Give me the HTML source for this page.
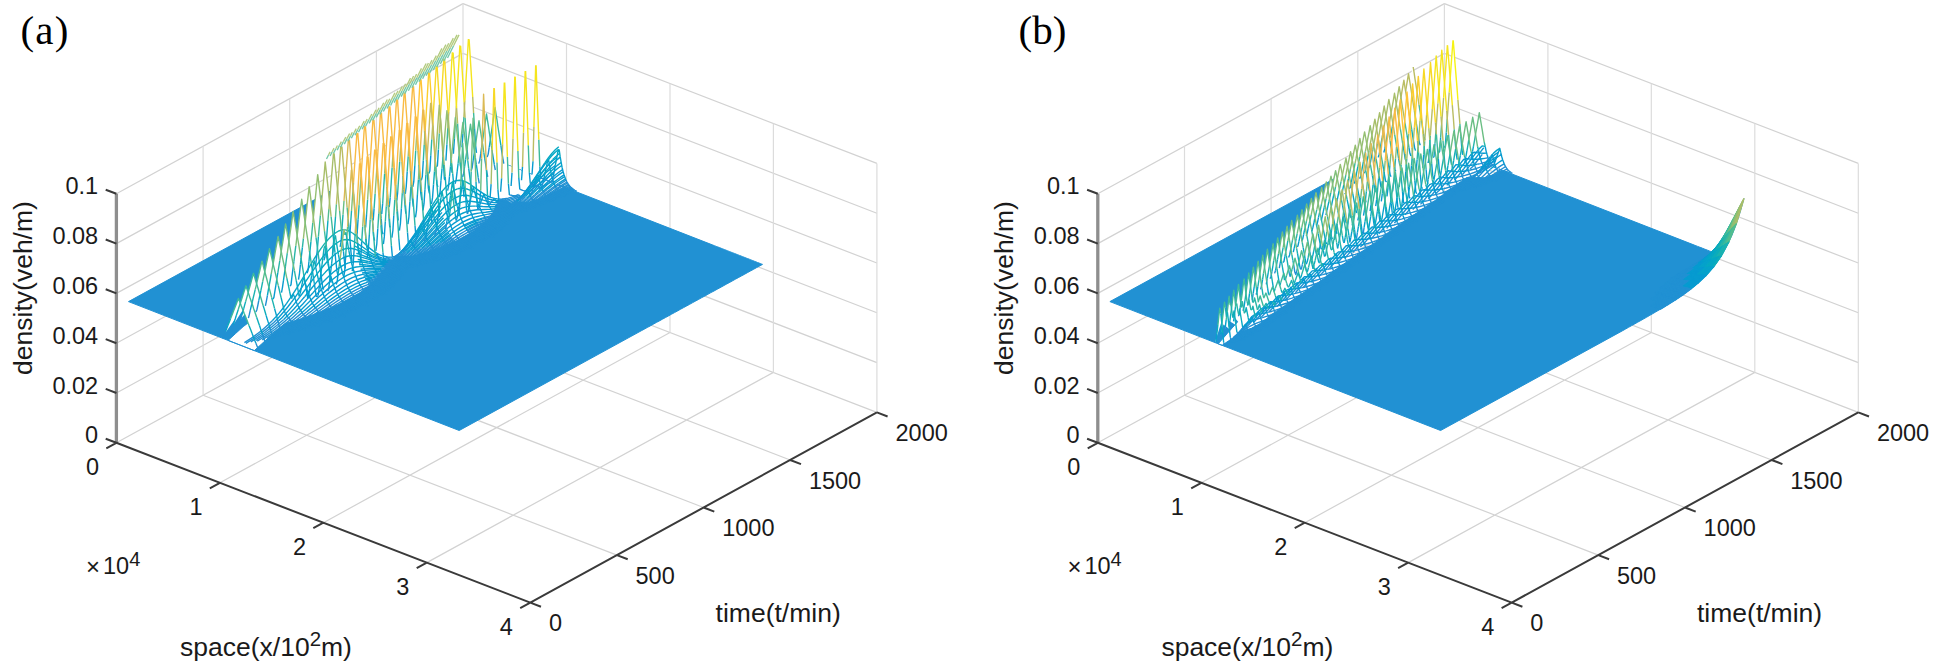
<!DOCTYPE html>
<html lang="en"><head><meta charset="utf-8"><title>Density evolution (a)/(b)</title>
<style>
html,body{margin:0;padding:0;background:#fff}
body{width:1935px;height:666px;overflow:hidden}
svg{display:block}
text{font-family:"Liberation Sans",Arial,Helvetica,sans-serif;fill:#1a1a1a}
.tag{font-family:"Liberation Serif","Times New Roman",serif;font-size:41px;fill:#000}
.tk{font-size:23.5px}
.lb{font-size:26.5px}
.sup{font-size:20px}
.sup2{font-size:20.5px}
.tm{font-size:24px}
.grid{fill:none;stroke:#d2d2d2;stroke-width:1.2}
.gv{stroke:#dcdcdc}
.ax{fill:none;stroke:#3a3a3a;stroke-width:2}
.zax{fill:none;stroke:#8e8e8e;stroke-width:3.3}
.sheet{fill:#2191d3;stroke:#2191d3;stroke-width:1}
.m path{fill:#fff;stroke-width:1.4;stroke-linejoin:round}
.m .w{stroke:none}
.m .f{fill:currentColor}
.m .n{fill:none}
.m .fz1{fill:none;stroke:#74c9a9;stroke-width:1.35}
.m .fz2{fill:none;stroke:#b3cb80;stroke-width:1.35}
.k0{stroke:#363093;color:#363093}
.k1{stroke:#353dac;color:#353dac}
.k2{stroke:#2c4ac6;color:#2c4ac6}
.k3{stroke:#115bdc;color:#115bdc}
.k4{stroke:#0267e1;color:#0267e1}
.k5{stroke:#0870df;color:#0870df}
.k6{stroke:#0f78db;color:#0f78db}
.k7{stroke:#1480d6;color:#1480d6}
.k8{stroke:#1388d3;color:#1388d3}
.k9{stroke:#0e92d2;color:#0e92d2}
.k10{stroke:#079bd0;color:#079bd0}
.k11{stroke:#06a2cb;color:#06a2cb}
.k12{stroke:#06a8c4;color:#06a8c4}
.k13{stroke:#0dadbb;color:#0dadbb}
.k14{stroke:#1ab2b1;color:#1ab2b1}
.k15{stroke:#2ab6a7;color:#2ab6a7}
.k16{stroke:#3dba9b;color:#3dba9b}
.k17{stroke:#52bd8f;color:#52bd8f}
.k18{stroke:#6abe83;color:#6abe83}
.k19{stroke:#80bf7a;color:#80bf7a}
.k20{stroke:#95bf71;color:#95bf71}
.k21{stroke:#a8be6a;color:#a8be6a}
.k22{stroke:#babd63;color:#babd63}
.k23{stroke:#cbbb5c;color:#cbbb5c}
.k24{stroke:#dbba55;color:#dbba55}
.k25{stroke:#ebb94d;color:#ebb94d}
.k26{stroke:#f9bb43;color:#f9bb43}
.k27{stroke:#ffc436;color:#ffc436}
.k28{stroke:#fcce2d;color:#fcce2d}
.k29{stroke:#f7d925;color:#f7d925}
.k30{stroke:#f5e51d;color:#f5e51d}
.k31{stroke:#f6f313;color:#f6f313}
.k9{stroke:#2191d3;color:#2191d3}
</style></head><body>
<svg width="1935" height="666" viewBox="0 0 1935 666">
<rect width="1935" height="666" fill="#fff"/>
<path class="grid" d="M219.9 482.8L566.5 292.6M203.1 395.2L616.9 555.1M323.4 522.7L670 332.5M289.7 347.7L703.6 507.5M426.8 562.6L773.4 372.4M376.4 300.2L790.2 460M116.4 393L463 202.8M463 202.8L876.9 362.6M116.4 343.2L463 153M463 153L876.9 312.8M116.4 293.4L463 103.2M463 103.2L876.9 263M116.4 243.6L463 53.4M463 53.4L876.9 213.2M116.4 442.8L463 252.6M463 252.6L876.9 412.4M116.4 193.8L463 3.6M463 3.6L876.9 163.4"/>
<path class="grid gv" d="M203.1 395.2L203.1 146.2M566.5 292.6L566.5 43.6M289.7 347.7L289.7 98.7M670 332.5L670 83.5M376.4 300.2L376.4 51.2M773.4 372.4L773.4 123.4M463 252.6L463 3.6M876.9 412.4L876.9 163.4"/>
<path class="sheet" fill-rule="evenodd" d="M128.5 301.6L459.2 430.5L641.2 330.8L644.2 329.2L647.2 327.5L650.3 325.9L653.3 324.2L656.3 322.5L659.4 320.9L662.4 319.2L665.4 317.6L668.5 315.9L671.5 314.2L674.5 312.6L677.6 310.9L680.6 309.2L683.6 307.6L686.7 305.9L689.7 304.3L692.7 302.6L695.8 300.9L698.8 299.3L701.8 297.6L704.9 296L707.9 294.3L710.9 292.6L714 291L717 289.3L720 287.7L723.1 286L726.1 284.3L729.1 282.7L732.2 281L735.2 279.3L738.2 277.7L741.3 276L744.3 274.4L747.3 272.7L750.4 271L753.4 269.4L756.4 267.7L759.5 266.1L762.5 264.4L760.8 263.8L759.2 263.1L757.5 262.5L755.9 261.8L754.2 261.2L752.6 260.5L750.9 259.9L749.3 259.2L747.6 258.6L746 258L744.3 257.3L742.7 256.7L741 256L739.4 255.4L737.7 254.7L736 254.1L734.4 253.4L732.7 252.8L731.1 252.2L729.4 251.5L727.8 250.9L726.1 250.2L724.5 249.6L722.8 248.9L721.2 248.3L719.5 247.6L717.9 247L716.2 246.4L714.5 245.7L712.9 245.1L431.8 135.5zM228.1 340.4L235.6 333.5L243.1 326.7L251.7 320.2L260.2 313.7L268.7 307.2L277.2 300.7L284.7 293.9L293.2 287.4L301.8 280.9L310.3 274.4L317.8 267.5L327.3 261.4L334.8 254.6L343.4 248.1L351.9 241.6L359.4 234.7L367.9 228.3L375.5 221.4L384 214.9L391.5 208L400 201.6L408.5 195.1L416.1 188.2L424.6 181.7L432.1 174.8L439.7 168L448.2 161.5L455.7 154.6L464.2 148.1L564.4 187.2L553 192.5L541.5 197.9L528.2 202.5L497.3 200.2L494.6 209L490 217L482.4 223.9L474.9 230.7L464.4 236.5L454 242.2L441.6 247.2L428.2 251.7L413.8 256L390.7 256.8L382.2 263.2L381.5 272.8L374.9 280L367.4 286.9L358.9 293.4L348.4 299.1L338 304.8L325.5 309.8L313.1 314.7L299.8 319.3L285.4 323.5L276.9 330L269.4 336.9L261.8 343.8L254.3 350.6z"/>
<g class="m">
<path class="w" d="M453.4 153.7L454.4 138.9L455.4 122.3L456.4 105.8L457.3 89.2L458.3 72.6L459.3 56L460.2 45.6L461.2 55.1L462.2 70.8L463.2 86.6L464.1 102.3L465.1 118L466.1 133.8L467.1 149.5L468 159.4L469 159.8L470 160.2L470.9 160.6L471.9 160.9L472.9 161.3L473.9 161.7L474.8 162.1L475.8 162.5L476.8 162.8L477.8 163.2L478.7 163.6L479.7 160.6L480.7 153.9L481.6 147.3L482.6 140.6L483.6 133.9L484.6 127.3L485.5 120.6L486.5 114L487.5 120.3L488.5 126.6L489.4 133L490.4 139.3L491.4 145.6L492.3 152L493.3 158.3L494.3 164.7L495.3 170L496.2 170.4L497.2 170.8L498.2 171.2L499.2 171.6L500.1 171.9L501.1 172.3L502.1 172.7L503 173.1L504 173.5L505 173.8L506 174.2L506.9 174.6L507.9 175L508.9 175.3L509.9 175.7L510.8 176.1L511.8 176.5L512.8 176.9L513.7 177.2L514.7 177.6L515.7 178L516.7 178.4L517.6 178.8L518.6 179.1L519.6 179.5L520.6 179.9L521.5 180.3L522.5 166.9L523.5 132.8L524.4 98.8L525.4 71L526.4 91.6L527.4 118.5L528.3 145.3L529.3 172.2L530.3 183.7L531.3 184L532.2 184.4L533.2 184.8L534.2 185.1L535.1 185.5L536.1 185.9L537.1 186.3L538.1 186.6L539 187L540 187.4L541 187.8L541.9 187.1L542.9 182.6L543.9 178.2L544.9 173.8L545.8 169.3L546.8 164.9L547.8 160.4L548.8 160.7L549.7 166.6L550.7 171.7L551.7 175.9L552.6 179.5L553.6 182.4L554.6 184.9L555.6 186.9L566 180.1L565.1 177.7L564.1 174.9L563.1 171.6L562.1 167.5L561.2 162.6L560.2 156.8L559.2 149.9L558.2 149.7L557.3 154.9L556.3 160.2L555.3 165.4L554.4 170.7L553.4 175.9L552.4 181.2L551.4 182.1L550.5 181.7L549.5 181.4L548.5 181L547.5 180.6L546.6 180.2L545.6 179.8L544.6 179.5L543.7 179.1L542.7 178.7L541.7 178.3L540.7 178L539.8 166.5L538.8 139.6L537.8 112.7L536.8 85.9L535.9 65.3L534.9 93.1L533.9 127.1L533 161.2L532 174.5L531 174.2L530 173.8L529.1 173.4L528.1 173L527.1 172.7L526.1 172.3L525.2 171.9L524.2 171.5L523.2 171.1L522.3 170.8L521.3 170.4L520.3 170L519.3 169.6L518.4 169.2L517.4 168.9L516.4 168.5L515.4 168.1L514.5 167.7L513.5 167.3L512.5 167L511.6 166.6L510.6 166.2L509.6 165.8L508.6 165.5L507.7 165.1L506.7 164.7L505.7 164.3L504.7 163.9L503.8 163.6L502.8 158.2L501.8 151.8L500.9 145.5L499.9 139.2L498.9 132.8L497.9 126.5L497 120.2L496 113.8L495 107.5L494 114.1L493.1 120.8L492.1 127.5L491.1 134.1L490.2 140.8L489.2 147.4L488.2 154.1L487.2 157.1L486.3 156.7L485.3 156.4L484.3 156L483.4 155.6L482.4 155.2L481.4 154.8L480.4 154.5L479.5 154.1L478.5 153.7L477.5 153.3L476.5 152.9L475.6 145.1L474.6 129L473.6 113L472.7 97L471.7 81L470.7 64.9L469.7 48.9L468.8 39.1L467.8 49.7L466.8 66.5L465.8 83.4L464.9 100.2L463.9 117z"/>
<path class="w" d="M444 159.8L444.9 160.2L445.9 160.6L446.9 144.4L447.8 128.1L448.8 111.7L449.8 95.3L450.8 79L451.7 62.6L452.7 52.5L453.7 61.7L454.7 77.1L455.6 92.6L456.6 108.1L457.6 123.5L458.5 139L459.5 154.4L460.5 166.3L461.5 166.7L462.4 167L463.4 167.4L464.4 167.8L465.4 168.2L466.3 168.6L467.3 168.9L468.3 169.3L469.2 169.7L470.2 170.1L471.2 170.5L472.2 167.5L473.1 160.8L474.1 154.1L475.1 147.5L476.1 140.8L477 134.2L478 127.5L479 120.8L479.9 127.2L480.9 133.5L481.9 139.8L482.9 146.2L483.8 152.5L484.8 158.8L485.8 165.2L486.7 171.5L487.7 176.9L488.7 177.3L489.7 177.7L490.6 178L491.6 178.4L492.6 178.8L493.6 179.2L494.5 179.6L495.5 179.9L496.5 180.3L497.4 180.7L498.4 181.1L499.4 181.5L500.4 181.8L501.3 182.2L502.3 182.6L503.3 183L504.3 183.4L505.2 183.7L506.2 184.1L507.2 184.5L508.1 184.9L509.1 185.2L510.1 185.6L511.1 186L512 172.6L513 138.6L514 104.5L515 76.7L515.9 97.3L516.9 124.2L517.9 151.1L518.8 177.9L519.8 189.4L520.8 189.7L521.8 190L522.7 190.3L523.7 190.6L524.7 191L525.7 191.3L526.6 191.7L527.6 192.1L528.6 192.5L529.5 193L530.5 193.4L531.5 193.2L532.5 190.1L533.4 187.1L534.4 184.1L535.4 181.1L536.4 178.1L537.3 175.1L538.3 175.4L539.3 179.7L540.2 183.3L541.2 186.4L542.2 189L543.2 191.2L544.1 193.1L554.6 184.9L553.6 182.4L552.6 179.5L551.7 175.9L550.7 171.7L549.7 166.6L548.8 160.7L547.8 160.4L546.8 164.9L545.8 169.3L544.9 173.8L543.9 178.2L542.9 182.6L541.9 187.1L541 187.8L540 187.4L539 187L538.1 186.6L537.1 186.3L536.1 185.9L535.1 185.5L534.2 185.1L533.2 184.8L532.2 184.4L531.3 184L530.3 183.7L529.3 172.2L528.3 145.3L527.4 118.5L526.4 91.6L525.4 71L524.4 98.8L523.5 132.8L522.5 166.9L521.5 180.3L520.6 179.9L519.6 179.5L518.6 179.1L517.6 178.8L516.7 178.4L515.7 178L514.7 177.6L513.7 177.2L512.8 176.9L511.8 176.5L510.8 176.1L509.9 175.7L508.9 175.3L507.9 175L506.9 174.6L506 174.2L505 173.8L504 173.5L503 173.1L502.1 172.7L501.1 172.3L500.1 171.9L499.2 171.6L498.2 171.2L497.2 170.8L496.2 170.4L495.3 170L494.3 164.7L493.3 158.3L492.3 152L491.4 145.6L490.4 139.3L489.4 133L488.5 126.6L487.5 120.3L486.5 114L485.5 120.6L484.6 127.3L483.6 133.9L482.6 140.6L481.6 147.3L480.7 153.9L479.7 160.6L478.7 163.6L477.8 163.2L476.8 162.8L475.8 162.5L474.8 162.1L473.9 161.7L472.9 161.3L471.9 160.9L470.9 160.6L470 160.2L469 159.8L468 159.4L467.1 149.5L466.1 133.8L465.1 118L464.1 102.3L463.2 86.6L462.2 70.8L461.2 55.1L460.2 45.6L459.3 56L458.3 72.6L457.3 89.2L456.4 105.8L455.4 122.3L454.4 138.9z"/>
<path class="w" d="M436.4 166.7L437.4 165.7L438.4 149.6L439.3 133.4L440.3 117.3L441.3 101.2L442.2 85L443.2 68.9L444.2 58.9L445.2 67.9L446.1 83.1L447.1 98.3L448.1 113.5L449.1 128.7L450 143.8L451 159L452 172.8L452.9 173.2L453.9 173.5L454.9 173.9L455.9 174.3L456.8 174.7L457.8 175.1L458.8 175.4L459.8 175.8L460.7 176.2L461.7 176.6L462.7 176.9L463.6 173.7L464.6 166.7L465.6 159.6L466.6 152.5L467.5 145.4L468.5 138.3L469.5 131.2L470.5 124.2L471.4 130.9L472.4 137.6L473.4 144.2L474.3 150.9L475.3 157.6L476.3 164.3L477.3 171L478.2 177.7L479.2 183.4L480.2 183.8L481.2 184.1L482.1 184.5L483.1 184.9L484.1 185.3L485 185.7L486 186L487 186.4L488 186.8L488.9 187.2L489.9 187.6L490.9 187.9L491.9 188.3L492.8 188.7L493.8 189.1L494.8 189.5L495.7 189.8L496.7 190.2L497.7 190.6L498.7 191L499.6 191.4L500.6 191.7L501.6 178.3L502.6 144.3L503.5 110.3L504.5 82.4L505.5 103.1L506.4 129.9L507.4 156.8L508.4 183.6L509.4 195L510.3 195.1L511.3 195.3L512.3 195.5L513.3 195.6L514.2 195.8L515.2 196L516.2 196.5L517.1 197L518.1 197.5L519.1 198L520.1 198.5L521 199L522 197.6L523 196.1L524 194.5L524.9 192.9L525.9 191.3L526.9 189.7L527.8 190.1L528.8 192.7L529.8 195L530.8 196.9L541.2 186.4L540.2 183.3L539.3 179.7L538.3 175.4L537.3 175.1L536.4 178.1L535.4 181.1L534.4 184.1L533.4 187.1L532.5 190.1L531.5 193.2L530.5 193.4L529.5 193L528.6 192.5L527.6 192.1L526.6 191.7L525.7 191.3L524.7 191L523.7 190.6L522.7 190.3L521.8 190L520.8 189.7L519.8 189.4L518.8 177.9L517.9 151.1L516.9 124.2L515.9 97.3L515 76.7L514 104.5L513 138.6L512 172.6L511.1 186L510.1 185.6L509.1 185.2L508.1 184.9L507.2 184.5L506.2 184.1L505.2 183.7L504.3 183.4L503.3 183L502.3 182.6L501.3 182.2L500.4 181.8L499.4 181.5L498.4 181.1L497.4 180.7L496.5 180.3L495.5 179.9L494.5 179.6L493.6 179.2L492.6 178.8L491.6 178.4L490.6 178L489.7 177.7L488.7 177.3L487.7 176.9L486.7 171.5L485.8 165.2L484.8 158.8L483.8 152.5L482.9 146.2L481.9 139.8L480.9 133.5L479.9 127.2L479 120.8L478 127.5L477 134.2L476.1 140.8L475.1 147.5L474.1 154.1L473.1 160.8L472.2 167.5L471.2 170.5L470.2 170.1L469.2 169.7L468.3 169.3L467.3 168.9L466.3 168.6L465.4 168.2L464.4 167.8L463.4 167.4L462.4 167L461.5 166.7L460.5 166.3L459.5 154.4L458.5 139L457.6 123.5L456.6 108.1L455.6 92.6L454.7 77.1L453.7 61.7L452.7 52.5L451.7 62.6L450.8 79L449.8 95.3L448.8 111.7L447.8 128.1L446.9 144.4z"/>
<path class="w" d="M427.9 173.2L428.9 173.6L429.8 171.1L430.8 155.2L431.8 139.2L432.8 123.3L433.7 107.4L434.7 91.4L435.7 75.5L436.7 65.8L437.6 74.5L438.6 89.4L439.6 104.4L440.5 119.3L441.5 134.2L442.5 149.2L443.5 164.1L444.4 179L445.4 180L446.4 180.4L447.4 180.8L448.3 181.2L449.3 181.5L450.3 181.9L451.2 182.3L452.2 182.7L453.2 183.1L454.2 183.4L455.1 183.8L456.1 180.1L457.1 171.8L458.1 163.6L459 155.4L460 147.2L461 139L461.9 130.7L462.9 122.5L463.9 130.2L464.9 137.8L465.8 145.5L466.8 153.1L467.8 160.8L468.7 168.4L469.7 176.1L470.7 183.8L471.7 190.3L472.6 190.6L473.6 191L474.6 191.4L475.6 191.8L476.5 192.2L477.5 192.5L478.5 192.9L479.4 193.3L480.4 193.7L481.4 194L482.4 194.4L483.3 194.8L484.3 195.2L485.3 195.6L486.3 195.9L487.2 196.3L488.2 196.7L489.2 197.1L490.1 197.5L491.1 184.1L492.1 150L493.1 116L494 88.2L495 108.8L496 135.7L497 162.5L497.9 189.4L498.9 200.4L499.9 200.1L500.8 199.8L501.8 199.6L502.8 199.3L503.8 199.1L504.7 198.8L505.7 199.7L506.7 200.5L507.7 201.3L508.6 202L509.6 202.7L510.6 203.3L511.5 204L512.5 204.1L513.5 203.5L514.5 203L515.4 202.4L516.4 201.9L517.4 202.2L527.8 190.1L526.9 189.7L525.9 191.3L524.9 192.9L524 194.5L523 196.1L522 197.6L521 199L520.1 198.5L519.1 198L518.1 197.5L517.1 197L516.2 196.5L515.2 196L514.2 195.8L513.3 195.6L512.3 195.5L511.3 195.3L510.3 195.1L509.4 195L508.4 183.6L507.4 156.8L506.4 129.9L505.5 103.1L504.5 82.4L503.5 110.3L502.6 144.3L501.6 178.3L500.6 191.7L499.6 191.4L498.7 191L497.7 190.6L496.7 190.2L495.7 189.8L494.8 189.5L493.8 189.1L492.8 188.7L491.9 188.3L490.9 187.9L489.9 187.6L488.9 187.2L488 186.8L487 186.4L486 186L485 185.7L484.1 185.3L483.1 184.9L482.1 184.5L481.2 184.1L480.2 183.8L479.2 183.4L478.2 177.7L477.3 171L476.3 164.3L475.3 157.6L474.3 150.9L473.4 144.2L472.4 137.6L471.4 130.9L470.5 124.2L469.5 131.2L468.5 138.3L467.5 145.4L466.6 152.5L465.6 159.6L464.6 166.7L463.6 173.7L462.7 176.9L461.7 176.6L460.7 176.2L459.8 175.8L458.8 175.4L457.8 175.1L456.8 174.7L455.9 174.3L454.9 173.9L453.9 173.5L452.9 173.2L452 172.8L451 159L450 143.8L449.1 128.7L448.1 113.5L447.1 98.3L446.1 83.1L445.2 67.9L444.2 58.9L443.2 68.9L442.2 85L441.3 101.2L440.3 117.3L439.3 133.4L438.4 149.6z"/>
<path class="w" d="M420.4 180.1L421.3 180.4L422.3 176.5L423.3 160.8L424.2 145L425.2 129.3L426.2 113.6L427.2 97.9L428.1 82.2L429.1 72.7L430.1 81.1L431.1 95.8L432 110.5L433 125.2L434 139.8L434.9 154.5L435.9 169.2L436.9 183.9L437.9 186.9L438.8 187.3L439.8 187.6L440.8 188L441.8 188.4L442.7 188.8L443.7 189.2L444.7 189.5L445.6 189.9L446.6 190.3L447.6 190.7L448.6 186.2L449.5 176.4L450.5 166.5L451.5 156.7L452.5 146.9L453.4 137.1L454.4 127.3L455.4 117.5L456.3 126.5L457.3 135.5L458.3 144.5L459.3 153.5L460.2 162.5L461.2 171.5L462.2 180.5L463.2 189.5L464.1 197.1L465.1 197.5L466.1 197.9L467 198.3L468 198.6L469 199L470 199.4L470.9 199.8L471.9 200.2L472.9 200.5L473.9 200.9L474.8 201.3L475.8 201.7L476.8 202L477.7 202.4L478.7 202.8L479.7 203.2L480.7 190.6L481.6 158.5L482.6 126.4L483.6 94.2L484.6 119.6L485.5 145L486.5 170.4L487.5 195.7L497.9 189.4L497 162.5L496 135.7L495 108.8L494 88.2L493.1 116L492.1 150L491.1 184.1L490.1 197.5L489.2 197.1L488.2 196.7L487.2 196.3L486.3 195.9L485.3 195.6L484.3 195.2L483.3 194.8L482.4 194.4L481.4 194L480.4 193.7L479.4 193.3L478.5 192.9L477.5 192.5L476.5 192.2L475.6 191.8L474.6 191.4L473.6 191L472.6 190.6L471.7 190.3L470.7 183.8L469.7 176.1L468.7 168.4L467.8 160.8L466.8 153.1L465.8 145.5L464.9 137.8L463.9 130.2L462.9 122.5L461.9 130.7L461 139L460 147.2L459 155.4L458.1 163.6L457.1 171.8L456.1 180.1L455.1 183.8L454.2 183.4L453.2 183.1L452.2 182.7L451.2 182.3L450.3 181.9L449.3 181.5L448.3 181.2L447.4 180.8L446.4 180.4L445.4 180L444.4 179L443.5 164.1L442.5 149.2L441.5 134.2L440.5 119.3L439.6 104.4L438.6 89.4L437.6 74.5L436.7 65.8L435.7 75.5L434.7 91.4L433.7 107.4L432.8 123.3L431.8 139.2L430.8 155.2z"/>
<path class="w" d="M412.8 186.9L413.8 181.5L414.8 166L415.7 150.5L416.7 135L417.7 119.5L418.7 104L419.6 88.4L420.6 79.2L421.6 87.4L422.5 101.8L423.5 116.2L424.5 130.7L425.5 145.1L426.4 159.6L427.4 174L428.4 188.4L429.4 193.4L430.3 193.7L431.3 194.1L432.3 194.5L433.2 194.9L434.2 195.3L435.2 195.6L436.2 196L437.1 196.4L438.1 196.8L439.1 197.2L440.1 191.8L441 180.2L442 168.6L443 157.1L443.9 145.5L444.9 133.9L445.9 122.3L446.9 110.8L447.8 121.3L448.8 131.8L449.8 142.3L450.8 152.7L451.7 163.2L452.7 173.7L453.7 184.2L454.6 194.7L455.6 203.6L456.6 204L457.6 204.4L458.5 204.7L459.5 205.1L460.5 205.5L461.4 205.9L462.4 206.3L463.4 206.6L464.4 207L465.3 207.4L466.3 207.8L467.3 208.2L468.3 208.5L469.2 208.9L470.2 198.4L471.2 171.7L472.1 145L473.1 118.2L474.1 139.5L475.1 160.7L476 181.9L477 203.2L478 209.8L479 207.2L479.9 204.5L480.9 201.8L481.9 199.2L482.8 196.5L483.8 194L484.8 196.5L485.8 198.9L486.7 201.2L487.7 203.3L488.7 205.1L499.1 205.1L498.2 203.9L497.2 202.7L496.2 201.4L495.3 199.9L494.3 198.5L493.3 199.6L492.3 200.7L491.4 201.9L490.4 203L489.4 204.2L488.4 205.3L487.5 195.7L486.5 170.4L485.5 145L484.6 119.6L483.6 94.2L482.6 126.4L481.6 158.5L480.7 190.6L479.7 203.2L478.7 202.8L477.7 202.4L476.8 202L475.8 201.7L474.8 201.3L473.9 200.9L472.9 200.5L471.9 200.2L470.9 199.8L470 199.4L469 199L468 198.6L467 198.3L466.1 197.9L465.1 197.5L464.1 197.1L463.2 189.5L462.2 180.5L461.2 171.5L460.2 162.5L459.3 153.5L458.3 144.5L457.3 135.5L456.3 126.5L455.4 117.5L454.4 127.3L453.4 137.1L452.5 146.9L451.5 156.7L450.5 166.5L449.5 176.4L448.6 186.2L447.6 190.7L446.6 190.3L445.6 189.9L444.7 189.5L443.7 189.2L442.7 188.8L441.8 188.4L440.8 188L439.8 187.6L438.8 187.3L437.9 186.9L436.9 183.9L435.9 169.2L434.9 154.5L434 139.8L433 125.2L432 110.5L431.1 95.8L430.1 81.1L429.1 72.7L428.1 82.2L427.2 97.9L426.2 113.6L425.2 129.3L424.2 145L423.3 160.8z"/>
<path class="w" d="M404.3 193.4L405.3 193.8L406.2 187L407.2 171.7L408.2 156.4L409.2 141.1L410.1 125.7L411.1 110.4L412.1 95.1L413.1 86L414 94L415 108.2L416 122.4L416.9 136.6L417.9 150.8L418.9 165L419.9 179.2L420.8 193.4L421.8 200.2L422.8 200.6L423.8 201L424.7 201.4L425.7 201.8L426.7 202.1L427.6 202.5L428.6 202.9L429.6 203.3L430.6 203.6L431.5 204L432.5 197.9L433.5 184.6L434.5 171.4L435.4 158.1L436.4 144.9L437.4 131.6L438.3 118.4L439.3 105.1L440.3 117L441.3 128.9L442.2 140.9L443.2 152.8L444.2 164.7L445.2 176.6L446.1 188.5L447.1 200.4L448.1 210.5L449 210.9L450 211.2L451 211.6L452 212L452.9 212.4L453.9 212.7L454.9 213.1L455.9 213.5L456.8 213.9L457.8 214.3L458.8 214.6L459.7 206.4L460.7 185.3L461.7 164.3L462.7 143.2L463.6 160.1L464.6 177L465.6 193.8L466.6 210.7L467.5 214L468.5 209.4L469.5 204.8L470.4 200.2L471.4 195.7L472.4 191.1L473.4 186.6L474.3 190.6L475.3 194.3L476.3 197.7L477.3 200.9L478.2 203.7L479.2 206.3L480.2 208.6L481.1 210.7L482.1 212.6L483.1 214.4L493.5 212.4L492.6 211.2L491.6 209.9L490.6 208.4L489.7 206.9L488.7 205.1L487.7 203.3L486.7 201.2L485.8 198.9L484.8 196.5L483.8 194L482.8 196.5L481.9 199.2L480.9 201.8L479.9 204.5L479 207.2L478 209.8L477 203.2L476 181.9L475.1 160.7L474.1 139.5L473.1 118.2L472.1 145L471.2 171.7L470.2 198.4L469.2 208.9L468.3 208.5L467.3 208.2L466.3 207.8L465.3 207.4L464.4 207L463.4 206.6L462.4 206.3L461.4 205.9L460.5 205.5L459.5 205.1L458.5 204.7L457.6 204.4L456.6 204L455.6 203.6L454.6 194.7L453.7 184.2L452.7 173.7L451.7 163.2L450.8 152.7L449.8 142.3L448.8 131.8L447.8 121.3L446.9 110.8L445.9 122.3L444.9 133.9L443.9 145.5L443 157.1L442 168.6L441 180.2L440.1 191.8L439.1 197.2L438.1 196.8L437.1 196.4L436.2 196L435.2 195.6L434.2 195.3L433.2 194.9L432.3 194.5L431.3 194.1L430.3 193.7L429.4 193.4L428.4 188.4L427.4 174L426.4 159.6L425.5 145.1L424.5 130.7L423.5 116.2L422.5 101.8L421.6 87.4L420.6 79.2L419.6 88.4L418.7 104L417.7 119.5L416.7 135L415.7 150.5L414.8 166z"/>
<path class="w" d="M396.8 200.3L397.7 192.1L398.7 177L399.7 161.9L400.7 146.8L401.6 131.6L402.6 116.5L403.6 101.4L404.5 92.5L405.5 100.3L406.5 114.2L407.5 128.2L408.4 142.2L409.4 156.2L410.4 170.2L411.4 184.1L412.3 198.1L413.3 206.7L414.3 207.1L415.2 207.5L416.2 207.9L417.2 208.2L418.2 208.6L419.1 209L420.1 209.4L421.1 209.8L422.1 210.1L423 210.5L424 203.7L425 189.2L425.9 174.6L426.9 160.1L427.9 145.5L428.9 130.9L429.8 116.4L430.8 102.7L431.8 114.8L432.8 127.9L433.7 140.9L434.7 153.9L435.7 166.9L436.6 179.9L437.6 192.9L438.6 206L439.6 217L440.5 217.3L441.5 217.7L442.5 218.1L443.5 218.5L444.4 218.9L445.4 219.2L446.4 219.6L447.3 220L448.3 220.4L449.3 217.2L450.3 208.8L451.2 200.3L452.2 191.8L453.2 199L454.1 206.2L455.1 213.4L456.1 220.5L457.1 218.3L458 212.1L459 205.8L460 199.5L461 193.2L461.9 187L462.9 180.9L463.9 186L464.8 190.9L465.8 195.4L466.8 199.5L467.8 203.1L468.7 206.5L469.7 209.5L470.7 212.1L471.7 214.6L472.6 216.8L473.6 218.7L474.6 220.5L475.5 222.2L476.5 223.6L487 219.9L486 218.7L485 217.4L484.1 215.9L483.1 214.4L482.1 212.6L481.1 210.7L480.2 208.6L479.2 206.3L478.2 203.7L477.3 200.9L476.3 197.7L475.3 194.3L474.3 190.6L473.4 186.6L472.4 191.1L471.4 195.7L470.4 200.2L469.5 204.8L468.5 209.4L467.5 214L466.6 210.7L465.6 193.8L464.6 177L463.6 160.1L462.7 143.2L461.7 164.3L460.7 185.3L459.7 206.4L458.8 214.6L457.8 214.3L456.8 213.9L455.9 213.5L454.9 213.1L453.9 212.7L452.9 212.4L452 212L451 211.6L450 211.2L449 210.9L448.1 210.5L447.1 200.4L446.1 188.5L445.2 176.6L444.2 164.7L443.2 152.8L442.2 140.9L441.3 128.9L440.3 117L439.3 105.1L438.3 118.4L437.4 131.6L436.4 144.9L435.4 158.1L434.5 171.4L433.5 184.6L432.5 197.9L431.5 204L430.6 203.6L429.6 203.3L428.6 202.9L427.6 202.5L426.7 202.1L425.7 201.8L424.7 201.4L423.8 201L422.8 200.6L421.8 200.2L420.8 193.4L419.9 179.2L418.9 165L417.9 150.8L416.9 136.6L416 122.4L415 108.2L414 94L413.1 86L412.1 95.1L411.1 110.4L410.1 125.7L409.2 141.1L408.2 156.4L407.2 171.7z"/>
<path class="w" d="M388.3 206.8L389.2 207.1L390.2 197.7L391.2 182.7L392.1 167.8L393.1 152.9L394.1 137.9L395.1 123L396 108.1L397 99.4L398 106.9L398.9 120.7L399.9 134.4L400.9 148.2L401.9 161.9L402.8 175.7L403.8 189.5L404.8 203.2L405.8 213.6L406.7 214L407.7 214.3L408.7 214.7L409.6 215.1L410.6 215.5L411.6 215.9L412.6 216.2L413.5 216.6L414.5 217L415.5 217.4L416.5 210.3L417.4 195L418.4 179.8L419.4 164.6L420.3 149.3L421.3 134.1L422.3 118.9L423.3 109.6L424.2 117.2L425.2 130.8L426.2 144.4L427.2 158L428.1 171.6L429.1 185.2L430.1 198.8L431 212.3L432 223.8L433 224.2L434 224.6L434.9 225L435.9 225.3L436.9 225.7L437.9 226.1L438.8 226.5L439.8 226.9L440.8 227.2L441.7 227.6L442.7 228L443.7 228.4L444.7 228.8L445.6 229.1L446.6 223.5L447.6 216.6L448.6 209.6L449.5 202.7L450.5 195.7L451.5 188.8L452.4 182.1L453.4 187.7L454.4 193L455.4 197.9L456.3 202.3L457.3 206.4L458.3 210L459.3 213.2L460.2 216.2L461.2 218.8L462.2 221.2L463.1 223.3L464.1 225.2L465.1 227L466.1 228.6L467 230L468 231.3L478.5 226.2L477.5 225L476.5 223.6L475.5 222.2L474.6 220.5L473.6 218.7L472.6 216.8L471.7 214.6L470.7 212.1L469.7 209.5L468.7 206.5L467.8 203.1L466.8 199.5L465.8 195.4L464.8 190.9L463.9 186L462.9 180.9L461.9 187L461 193.2L460 199.5L459 205.8L458 212.1L457.1 218.3L456.1 220.5L455.1 213.4L454.1 206.2L453.2 199L452.2 191.8L451.2 200.3L450.3 208.8L449.3 217.2L448.3 220.4L447.3 220L446.4 219.6L445.4 219.2L444.4 218.9L443.5 218.5L442.5 218.1L441.5 217.7L440.5 217.3L439.6 217L438.6 206L437.6 192.9L436.6 179.9L435.7 166.9L434.7 153.9L433.7 140.9L432.8 127.9L431.8 114.8L430.8 102.7L429.8 116.4L428.9 130.9L427.9 145.5L426.9 160.1L425.9 174.6L425 189.2L424 203.7L423 210.5L422.1 210.1L421.1 209.8L420.1 209.4L419.1 209L418.2 208.6L417.2 208.2L416.2 207.9L415.2 207.5L414.3 207.1L413.3 206.7L412.3 198.1L411.4 184.1L410.4 170.2L409.4 156.2L408.4 142.2L407.5 128.2L406.5 114.2L405.5 100.3L404.5 92.5L403.6 101.4L402.6 116.5L401.6 131.6L400.7 146.8L399.7 161.9L398.7 177z"/>
<path class="w" d="M380.7 213.6L381.7 214L382.7 203.2L383.6 188.5L384.6 173.7L385.6 159L386.5 144.2L387.5 129.5L388.5 114.8L389.5 106.2L390.4 113.6L391.4 127.1L392.4 140.7L393.4 154.2L394.3 167.7L395.3 181.3L396.3 194.8L397.2 208.4L398.2 220.5L399.2 220.8L400.2 221.2L401.1 221.6L402.1 222L403.1 222.3L404.1 222.7L405 223.1L406 223.5L407 223.9L407.9 224.2L408.9 217.1L409.9 201.8L410.9 186.6L411.8 171.3L412.8 156L413.8 140.8L414.8 125.5L415.7 116.5L416.7 123.9L417.7 137.5L418.6 151.1L419.6 164.7L420.6 178.3L421.6 192L422.5 205.6L423.5 219.2L424.5 230.7L425.5 231.1L426.4 231.4L427.4 231.8L428.4 232.2L429.3 232.6L430.3 233L431.3 233.3L432.3 233.7L433.2 234.1L434.2 234.5L435.2 234.9L436.2 229.7L437.1 223.3L438.1 216.9L439.1 210.5L440 204.1L441 197.7L442 191.5L443 196.7L443.9 201.7L444.9 206.2L445.9 210.4L446.8 214.1L447.8 217.5L448.8 220.5L449.8 223.3L450.7 225.8L451.7 228L452.7 230L453.7 231.8L454.6 233.4L455.6 234.9L456.6 236.3L457.5 237.5L468 231.3L467 230L466.1 228.6L465.1 227L464.1 225.2L463.1 223.3L462.2 221.2L461.2 218.8L460.2 216.2L459.3 213.2L458.3 210L457.3 206.4L456.3 202.3L455.4 197.9L454.4 193L453.4 187.7L452.4 182.1L451.5 188.8L450.5 195.7L449.5 202.7L448.6 209.6L447.6 216.6L446.6 223.5L445.6 229.1L444.7 228.8L443.7 228.4L442.7 228L441.7 227.6L440.8 227.2L439.8 226.9L438.8 226.5L437.9 226.1L436.9 225.7L435.9 225.3L434.9 225L434 224.6L433 224.2L432 223.8L431 212.3L430.1 198.8L429.1 185.2L428.1 171.6L427.2 158L426.2 144.4L425.2 130.8L424.2 117.2L423.3 109.6L422.3 118.9L421.3 134.1L420.3 149.3L419.4 164.6L418.4 179.8L417.4 195L416.5 210.3L415.5 217.4L414.5 217L413.5 216.6L412.6 216.2L411.6 215.9L410.6 215.5L409.6 215.1L408.7 214.7L407.7 214.3L406.7 214L405.8 213.6L404.8 203.2L403.8 189.5L402.8 175.7L401.9 161.9L400.9 148.2L399.9 134.4L398.9 120.7L398 106.9L397 99.4L396 108.1L395.1 123L394.1 137.9L393.1 152.9L392.1 167.8L391.2 182.7z"/>
<path class="w" d="M373.2 220.5L374.1 208.4L375.1 193.9L376.1 179.3L377.1 164.8L378 150.2L379 135.6L380 121.1L380.9 112.7L381.9 119.8L382.9 133.2L383.9 146.5L384.8 159.9L385.8 173.2L386.8 186.6L387.8 199.9L388.7 213.2L389.7 226.6L390.7 227.3L391.6 227.7L392.6 228.1L393.6 228.5L394.6 228.8L395.5 229.2L396.5 229.6L397.5 230L398.5 230.3L399.4 230.7L400.4 223.6L401.4 208.3L402.3 193.1L403.3 177.8L404.3 162.5L405.3 147.3L406.2 132L407.2 123L408.2 130.3L409.2 144L410.1 157.6L411.1 171.2L412.1 184.8L413 198.4L414 212.1L415 225.7L416 237.2L416.9 237.6L417.9 237.9L418.9 238.3L419.9 238.7L420.8 239.1L421.8 239.4L422.8 239.8L423.7 240.2L424.7 240.6L425.7 236.5L426.7 231.5L427.6 226.5L428.6 221.5L429.6 216.5L430.6 211.5L431.5 206.7L432.5 210.9L433.5 214.9L434.4 218.6L435.4 222L436.4 225L437.4 227.8L438.3 230.3L439.3 232.6L440.3 234.6L441.3 236.4L442.2 238.1L443.2 239.6L444.2 241L445.1 242.3L446.1 243.4L456.6 236.3L455.6 234.9L454.6 233.4L453.7 231.8L452.7 230L451.7 228L450.7 225.8L449.8 223.3L448.8 220.5L447.8 217.5L446.8 214.1L445.9 210.4L444.9 206.2L443.9 201.7L443 196.7L442 191.5L441 197.7L440 204.1L439.1 210.5L438.1 216.9L437.1 223.3L436.2 229.7L435.2 234.9L434.2 234.5L433.2 234.1L432.3 233.7L431.3 233.3L430.3 233L429.3 232.6L428.4 232.2L427.4 231.8L426.4 231.4L425.5 231.1L424.5 230.7L423.5 219.2L422.5 205.6L421.6 192L420.6 178.3L419.6 164.7L418.6 151.1L417.7 137.5L416.7 123.9L415.7 116.5L414.8 125.5L413.8 140.8L412.8 156L411.8 171.3L410.9 186.6L409.9 201.8L408.9 217.1L407.9 224.2L407 223.9L406 223.5L405 223.1L404.1 222.7L403.1 222.3L402.1 222L401.1 221.6L400.2 221.2L399.2 220.8L398.2 220.5L397.2 208.4L396.3 194.8L395.3 181.3L394.3 167.7L393.4 154.2L392.4 140.7L391.4 127.1L390.4 113.6L389.5 106.2L388.5 114.8L387.5 129.5L386.5 144.2L385.6 159L384.6 173.7L383.6 188.5z"/>
<path class="w" d="M364.7 227L365.6 227.4L366.6 214.1L367.6 199.7L368.5 185.3L369.5 170.9L370.5 156.5L371.5 142.1L372.4 127.7L373.4 119.6L374.4 126.5L375.4 139.6L376.3 152.8L377.3 165.9L378.3 179.1L379.2 192.2L380.2 205.4L381.2 218.5L382.2 231.7L383.1 234.2L384.1 234.6L385.1 234.9L386.1 235.3L387 235.7L388 236.1L389 236.5L389.9 236.8L390.9 237.2L391.9 237.6L392.9 230.5L393.8 215.2L394.8 199.9L395.8 184.7L396.8 169.4L397.7 154.1L398.7 138.9L399.7 129.8L400.6 137.2L401.6 150.8L402.6 164.4L403.6 178.1L404.5 191.7L405.5 205.3L406.5 218.9L407.5 232.5L408.4 244L409.4 244.4L410.4 244.8L411.3 245.2L412.3 245.5L413.3 245.9L414.3 246.2L415.2 243.7L416.2 240.4L417.2 237.1L418.2 233.8L419.1 230.5L420.1 227.2L421.1 224L422 227L423 229.9L424 232.5L425 234.9L425.9 237.2L426.9 239.2L427.9 241L428.9 242.6L429.8 244.2L430.8 245.5L431.8 246.8L432.7 248L443.2 239.6L442.2 238.1L441.3 236.4L440.3 234.6L439.3 232.6L438.3 230.3L437.4 227.8L436.4 225L435.4 222L434.4 218.6L433.5 214.9L432.5 210.9L431.5 206.7L430.6 211.5L429.6 216.5L428.6 221.5L427.6 226.5L426.7 231.5L425.7 236.5L424.7 240.6L423.7 240.2L422.8 239.8L421.8 239.4L420.8 239.1L419.9 238.7L418.9 238.3L417.9 237.9L416.9 237.6L416 237.2L415 225.7L414 212.1L413 198.4L412.1 184.8L411.1 171.2L410.1 157.6L409.2 144L408.2 130.3L407.2 123L406.2 132L405.3 147.3L404.3 162.5L403.3 177.8L402.3 193.1L401.4 208.3L400.4 223.6L399.4 230.7L398.5 230.3L397.5 230L396.5 229.6L395.5 229.2L394.6 228.8L393.6 228.5L392.6 228.1L391.6 227.7L390.7 227.3L389.7 226.6L388.7 213.2L387.8 199.9L386.8 186.6L385.8 173.2L384.8 159.9L383.9 146.5L382.9 133.2L381.9 119.8L380.9 112.7L380 121.1L379 135.6L378 150.2L377.1 164.8L376.1 179.3L375.1 193.9z"/>
<path class="w" d="M357.1 233.6L358.1 219.3L359.1 205.1L360 190.9L361 176.7L362 162.5L363 148.3L363.9 134.1L364.9 126.1L365.9 132.8L366.8 145.7L367.8 158.7L368.8 171.6L369.8 184.6L370.7 197.6L371.7 210.5L372.7 223.5L373.6 236.4L374.6 240.7L375.6 241L376.6 241.4L377.5 241.8L378.5 242.2L379.5 242.6L380.5 242.9L381.4 243.3L382.4 243.7L383.4 244.1L384.3 236.9L385.3 221.7L386.3 206.4L387.3 191.1L388.2 175.9L389.2 160.6L390.2 145.3L391.2 136.3L392.1 143.7L393.1 157.3L394.1 170.9L395 184.6L396 198.2L397 211.8L398 225.4L398.9 239L399.9 250.5L400.9 250.9L401.9 251.3L402.8 251.5L403.8 251.7L404.8 250.7L405.7 248.9L406.7 247.1L407.7 245.3L408.7 243.6L409.6 241.8L410.6 240.1L411.6 242L412.6 243.8L413.5 245.5L414.5 247.1L415.5 248.6L416.4 249.9L417.4 251.1L418.4 252.2L428.9 242.6L427.9 241L426.9 239.2L425.9 237.2L425 234.9L424 232.5L423 229.9L422 227L421.1 224L420.1 227.2L419.1 230.5L418.2 233.8L417.2 237.1L416.2 240.4L415.2 243.7L414.3 246.2L413.3 245.9L412.3 245.5L411.3 245.2L410.4 244.8L409.4 244.4L408.4 244L407.5 232.5L406.5 218.9L405.5 205.3L404.5 191.7L403.6 178.1L402.6 164.4L401.6 150.8L400.6 137.2L399.7 129.8L398.7 138.9L397.7 154.1L396.8 169.4L395.8 184.7L394.8 199.9L393.8 215.2L392.9 230.5L391.9 237.6L390.9 237.2L389.9 236.8L389 236.5L388 236.1L387 235.7L386.1 235.3L385.1 234.9L384.1 234.6L383.1 234.2L382.2 231.7L381.2 218.5L380.2 205.4L379.2 192.2L378.3 179.1L377.3 165.9L376.3 152.8L375.4 139.6L374.4 126.5L373.4 119.6L372.4 127.7L371.5 142.1L370.5 156.5L369.5 170.9L368.5 185.3L367.6 199.7z"/>
<path class="w" d="M348.6 240.3L349.6 239.1L350.5 225L351.5 211L352.5 196.9L353.5 182.9L354.4 168.8L355.4 154.8L356.4 140.8L357.4 132.9L358.3 139.5L359.3 152.2L360.3 165L361.2 177.8L362.2 190.5L363.2 203.3L364.2 216.1L365.1 228.8L366.1 241.6L367.1 247.5L368.1 247.9L369 248.3L370 248.7L371 249L371.9 249.4L372.9 249.8L373.9 250.2L374.9 250.6L375.8 250.9L376.8 243.8L377.8 228.5L378.8 213.3L379.7 198L380.7 182.7L381.7 167.5L382.6 152.2L383.6 143.2L384.6 150.6L385.6 164.2L386.5 177.8L387.5 191.4L388.5 205L389.5 218.7L390.4 232.3L391.4 245.9L392.4 256.8L393.3 256.7L394.3 256.6L395.3 256.5L396.3 255.8L397.2 255.1L398.2 254.4L399.2 253.7L400.2 253.1L401.1 254.2L402.1 255.3L412.6 243.8L411.6 242L410.6 240.1L409.6 241.8L408.7 243.6L407.7 245.3L406.7 247.1L405.7 248.9L404.8 250.7L403.8 251.7L402.8 251.5L401.9 251.3L400.9 250.9L399.9 250.5L398.9 239L398 225.4L397 211.8L396 198.2L395 184.6L394.1 170.9L393.1 157.3L392.1 143.7L391.2 136.3L390.2 145.3L389.2 160.6L388.2 175.9L387.3 191.1L386.3 206.4L385.3 221.7L384.3 236.9L383.4 244.1L382.4 243.7L381.4 243.3L380.5 242.9L379.5 242.6L378.5 242.2L377.5 241.8L376.6 241.4L375.6 241L374.6 240.7L373.6 236.4L372.7 223.5L371.7 210.5L370.7 197.6L369.8 184.6L368.8 171.6L367.8 158.7L366.8 145.7L365.9 132.8L364.9 126.1L363.9 134.1L363 148.3L362 162.5L361 176.7L360 190.9L359.1 205.1z"/>
<path class="w" d="M340.1 246.8L341.1 241.7L342 228.1L343 214.6L344 201L345 187.4L345.9 173.9L346.9 160.3L347.9 146.8L348.8 139.4L349.8 145.3L350.8 157.5L351.8 169.6L352.7 181.8L353.7 193.9L354.7 206.1L355.7 218.2L356.6 230.4L357.6 242.5L358.6 254L359.5 254.4L360.5 254.8L361.5 255.2L362.5 255.5L363.4 255.9L364.4 256.3L365.4 256.7L366.3 257.1L367.3 257.4L368.3 250.3L369.3 235L370.2 219.8L371.2 204.5L372.2 189.2L373.2 174L374.1 158.7L375.1 149.7L376.1 157.1L377 170.7L378 184.3L379 197.9L380 211.5L380.9 225.1L381.9 238.8L382.9 252.4L383.9 260L384.8 259.2L385.8 258.3L386.8 257.5L387.7 257.5L388.7 258.7L389.7 259.9L390.7 261L401.1 254.2L400.2 253.1L399.2 253.7L398.2 254.4L397.2 255.1L396.3 255.8L395.3 256.5L394.3 256.6L393.3 256.7L392.4 256.8L391.4 245.9L390.4 232.3L389.5 218.7L388.5 205L387.5 191.4L386.5 177.8L385.6 164.2L384.6 150.6L383.6 143.2L382.6 152.2L381.7 167.5L380.7 182.7L379.7 198L378.8 213.3L377.8 228.5L376.8 243.8L375.8 250.9L374.9 250.6L373.9 250.2L372.9 249.8L371.9 249.4L371 249L370 248.7L369 248.3L368.1 247.9L367.1 247.5L366.1 241.6L365.1 228.8L364.2 216.1L363.2 203.3L362.2 190.5L361.2 177.8L360.3 165L359.3 152.2L358.3 139.5L357.4 132.9L356.4 140.8L355.4 154.8L354.4 168.8L353.5 182.9L352.5 196.9L351.5 211L350.5 225z"/>
<path class="w" d="M331.6 253.3L332.5 253.7L333.5 242.7L334.5 229.8L335.5 217L336.4 204.2L337.4 191.4L338.4 178.5L339.4 165.7L340.3 152.9L341.3 146.3L342.3 151.3L343.2 162.5L344.2 173.7L345.2 185L346.2 196.2L347.1 207.4L348.1 218.7L349.1 229.9L350.1 241.1L351 252.4L352 261.3L353 261.6L353.9 262L354.9 262.4L355.9 262.8L356.9 263.2L357.8 263.5L358.8 263.9L359.8 264.3L360.8 257.2L361.7 241.9L362.7 226.6L363.7 211.4L364.6 196.1L365.6 180.8L366.6 165.6L367.6 156.5L368.5 163.9L369.5 177.5L370.5 191.2L371.5 204.8L372.4 218.4L373.4 232L374.4 245.6L375.3 256.9L376.3 254.7L377.3 254.3L378.3 256.5L379.2 258.5L380.2 260.5L390.7 261L389.7 259.9L388.7 258.7L387.7 257.5L386.8 257.5L385.8 258.3L384.8 259.2L383.9 260L382.9 252.4L381.9 238.8L380.9 225.1L380 211.5L379 197.9L378 184.3L377 170.7L376.1 157.1L375.1 149.7L374.1 158.7L373.2 174L372.2 189.2L371.2 204.5L370.2 219.8L369.3 235L368.3 250.3L367.3 257.4L366.3 257.1L365.4 256.7L364.4 256.3L363.4 255.9L362.5 255.5L361.5 255.2L360.5 254.8L359.5 254.4L358.6 254L357.6 242.5L356.6 230.4L355.7 218.2L354.7 206.1L353.7 193.9L352.7 181.8L351.8 169.6L350.8 157.5L349.8 145.3L348.8 139.4L347.9 146.8L346.9 160.3L345.9 173.9L345 187.4L344 201L343 214.6L342 228.1z"/>
<path class="w" d="M324 260.2L325 256.5L326 244.6L327 232.8L327.9 221L328.9 209.1L329.9 197.3L330.8 185.4L331.8 173.6L332.8 161.7L333.8 153.2L334.7 160.1L335.7 170.3L336.7 180.4L337.7 190.6L338.6 200.8L339.6 211L340.6 221.2L341.5 231.4L342.5 241.6L343.5 251.8L344.5 261.9L345.4 268.5L346.4 268.9L347.4 269.3L348.4 269.6L349.3 270L350.3 270.4L351.3 270.8L352.2 271.2L353.2 264L354.2 248.8L355.2 233.5L356.1 218.2L357.1 203L358.1 187.7L359 172.4L360 163.4L361 170.8L362 184.4L362.9 198L363.9 211.6L364.9 225.3L365.9 238.9L366.8 246.8L367.8 250.4L368.8 253.8L369.7 256.9L370.7 259.8L371.7 262.3L372.7 264.7L373.6 266.8L374.6 268.7L375.6 270.4L386 269L385.1 267.9L384.1 266.6L383.1 265.3L382.2 263.8L381.2 262.2L380.2 260.5L379.2 258.5L378.3 256.5L377.3 254.3L376.3 254.7L375.3 256.9L374.4 245.6L373.4 232L372.4 218.4L371.5 204.8L370.5 191.2L369.5 177.5L368.5 163.9L367.6 156.5L366.6 165.6L365.6 180.8L364.6 196.1L363.7 211.4L362.7 226.6L361.7 241.9L360.8 257.2L359.8 264.3L358.8 263.9L357.8 263.5L356.9 263.2L355.9 262.8L354.9 262.4L353.9 262L353 261.6L352 261.3L351 252.4L350.1 241.1L349.1 229.9L348.1 218.7L347.1 207.4L346.2 196.2L345.2 185L344.2 173.7L343.2 162.5L342.3 151.3L341.3 146.3L340.3 152.9L339.4 165.7L338.4 178.5L337.4 191.4L336.4 204.2L335.5 217L334.5 229.8z"/>
<path class="w" d="M315.5 266.7L316.5 258.2L317.5 247.5L318.4 236.8L319.4 226.1L320.4 215.4L321.4 204.8L322.3 194.1L323.3 183.4L324.3 172.7L325.2 162L326.2 171.1L327.2 180.2L328.2 189.2L329.1 198.3L330.1 207.4L331.1 216.5L332.1 225.5L333 234.6L334 243.7L335 252.7L335.9 261.8L336.9 270.9L337.9 275.4L338.9 275.8L339.8 276.1L340.8 276.5L341.8 276.9L342.8 277.3L343.7 277.6L344.7 270.8L345.7 256.2L346.6 241.5L347.6 226.8L348.6 212.2L349.6 197.5L350.5 182.9L351.5 169.9L352.5 181.3L353.5 194.4L354.4 207.5L355.4 220.6L356.4 233.7L357.3 243L358.3 247.9L359.3 252.3L360.3 256.4L361.2 260L362.2 263.3L363.2 266.3L364.2 268.9L365.1 271.3L366.1 273.5L367.1 275.4L368 277.2L369 278.8L379.5 275.9L378.5 274.7L377.5 273.4L376.6 272L375.6 270.4L374.6 268.7L373.6 266.8L372.7 264.7L371.7 262.3L370.7 259.8L369.7 256.9L368.8 253.8L367.8 250.4L366.8 246.8L365.9 238.9L364.9 225.3L363.9 211.6L362.9 198L362 184.4L361 170.8L360 163.4L359 172.4L358.1 187.7L357.1 203L356.1 218.2L355.2 233.5L354.2 248.8L353.2 264L352.2 271.2L351.3 270.8L350.3 270.4L349.3 270L348.4 269.6L347.4 269.3L346.4 268.9L345.4 268.5L344.5 261.9L343.5 251.8L342.5 241.6L341.5 231.4L340.6 221.2L339.6 211L338.6 200.8L337.7 190.6L336.7 180.4L335.7 170.3L334.7 160.1L333.8 153.2L332.8 161.7L331.8 173.6L330.8 185.4L329.9 197.3L328.9 209.1L327.9 221L327 232.8L326 244.6z"/>
<path class="w" d="M307 273.1L308 270.8L309 261.2L309.9 251.6L310.9 241.9L311.9 232.3L312.8 222.7L313.8 213.1L314.8 203.4L315.8 193.8L316.7 184.2L317.7 174.6L318.7 182.7L319.7 190.8L320.6 198.9L321.6 206.9L322.6 215L323.5 223.1L324.5 231.2L325.5 239.3L326.5 247.4L327.4 255.5L328.4 263.6L329.4 271.7L330.4 279.8L331.3 282.6L332.3 283L333.3 283.4L334.2 283.8L335.2 284.1L336.2 284.5L337.2 281.2L338.1 273.8L339.1 266.4L340.1 259L341.1 251.6L342 244.2L343 236.8L344 229.4L344.9 234.8L345.9 232.5L346.9 238.9L347.9 244.9L348.8 250.4L349.8 255.3L350.8 259.7L351.7 263.7L352.7 267.3L353.7 270.6L354.7 273.5L355.6 276.1L356.6 278.4L357.6 280.5L358.6 282.4L359.5 284.1L360.5 285.7L361.5 287.1L371.9 282.8L371 281.6L370 280.3L369 278.8L368 277.2L367.1 275.4L366.1 273.5L365.1 271.3L364.2 268.9L363.2 266.3L362.2 263.3L361.2 260L360.3 256.4L359.3 252.3L358.3 247.9L357.3 243L356.4 233.7L355.4 220.6L354.4 207.5L353.5 194.4L352.5 181.3L351.5 169.9L350.5 182.9L349.6 197.5L348.6 212.2L347.6 226.8L346.6 241.5L345.7 256.2L344.7 270.8L343.7 277.6L342.8 277.3L341.8 276.9L340.8 276.5L339.8 276.1L338.9 275.8L337.9 275.4L336.9 270.9L335.9 261.8L335 252.7L334 243.7L333 234.6L332.1 225.5L331.1 216.5L330.1 207.4L329.1 198.3L328.2 189.2L327.2 180.2L326.2 171.1L325.2 162L324.3 172.7L323.3 183.4L322.3 194.1L321.4 204.8L320.4 215.4L319.4 226.1L318.4 236.8L317.5 247.5z"/>
<path class="w" d="M299.5 273.3L300.4 264.7L301.4 256L302.4 247.3L303.4 238.7L304.3 230L305.3 221.4L306.3 212.7L307.2 204L308.2 195.4L309.2 186.7L310.2 194L311.1 201.2L312.1 208.4L313.1 215.7L314.1 222.9L315 230.1L316 237.4L317 244.6L317.9 251.8L318.9 259.1L319.9 266.3L320.9 273.5L321.8 280.8L322.8 288L323.8 289.5L324.8 289.9L325.7 290.2L326.7 290.6L327.7 291L328.6 289.6L329.6 281L330.6 272.5L331.6 263.9L332.5 255.4L333.5 246.8L334.5 238.3L335.5 235.8L336.4 242.5L337.4 248.7L338.4 254.4L339.3 259.5L340.3 264.2L341.3 268.3L342.3 272L343.2 275.4L344.2 278.4L345.2 281.1L346.2 283.5L347.1 285.7L348.1 287.7L349.1 289.4L350 291.1L351 292.5L352 293.8L353 295.1L363.4 289.6L362.4 288.4L361.5 287.1L360.5 285.7L359.5 284.1L358.6 282.4L357.6 280.5L356.6 278.4L355.6 276.1L354.7 273.5L353.7 270.6L352.7 267.3L351.7 263.7L350.8 259.7L349.8 255.3L348.8 250.4L347.9 244.9L346.9 238.9L345.9 232.5L344.9 234.8L344 229.4L343 236.8L342 244.2L341.1 251.6L340.1 259L339.1 266.4L338.1 273.8L337.2 281.2L336.2 284.5L335.2 284.1L334.2 283.8L333.3 283.4L332.3 283L331.3 282.6L330.4 279.8L329.4 271.7L328.4 263.6L327.4 255.5L326.5 247.4L325.5 239.3L324.5 231.2L323.5 223.1L322.6 215L321.6 206.9L320.6 198.9L319.7 190.8L318.7 182.7L317.7 174.6L316.7 184.2L315.8 193.8L314.8 203.4L313.8 213.1L312.8 222.7L311.9 232.3L310.9 241.9L309.9 251.6z"/>
<path class="w" d="M290 286.1L291 284.8L291.9 277L292.9 269.2L293.9 261.5L294.8 253.7L295.8 245.9L296.8 238.1L297.8 230.4L298.7 222.6L299.7 214.8L300.7 207L301.7 199.3L302.6 205.7L303.6 212.2L304.6 218.7L305.5 225.1L306.5 231.6L307.5 238.1L308.5 244.5L309.4 251L310.4 257.5L311.4 264L312.4 270.4L313.3 276.9L314.3 283.4L315.3 289.8L316.2 296.3L317.2 296.7L318.2 295.5L319.2 287.6L320.1 279.8L321.1 271.9L322.1 264.1L323.1 256.2L324 248.4L325 246.1L326 252.3L326.9 258.1L327.9 263.3L328.9 268.1L329.9 272.4L330.8 276.3L331.8 279.7L332.8 282.8L333.7 285.6L334.7 288.1L335.7 290.4L336.7 292.5L337.6 294.3L338.6 296L339.6 297.5L340.6 298.8L341.5 300.1L352 293.8L351 292.5L350 291.1L349.1 289.4L348.1 287.7L347.1 285.7L346.2 283.5L345.2 281.1L344.2 278.4L343.2 275.4L342.3 272L341.3 268.3L340.3 264.2L339.3 259.5L338.4 254.4L337.4 248.7L336.4 242.5L335.5 235.8L334.5 238.3L333.5 246.8L332.5 255.4L331.6 263.9L330.6 272.5L329.6 281L328.6 289.6L327.7 291L326.7 290.6L325.7 290.2L324.8 289.9L323.8 289.5L322.8 288L321.8 280.8L320.9 273.5L319.9 266.3L318.9 259.1L317.9 251.8L317 244.6L316 237.4L315 230.1L314.1 222.9L313.1 215.7L312.1 208.4L311.1 201.2L310.2 194L309.2 186.7L308.2 195.4L307.2 204L306.3 212.7L305.3 221.4L304.3 230L303.4 238.7L302.4 247.3L301.4 256L300.4 264.7z"/>
<path class="w" d="M282.4 287.8L283.4 280.8L284.4 273.9L285.4 266.9L286.3 260L287.3 253.1L288.3 246.1L289.2 239.2L290.2 232.2L291.2 225.3L292.2 218.4L293.1 211.4L294.1 217.2L295.1 223L296.1 228.8L297 234.6L298 240.3L299 246.1L299.9 251.9L300.9 257.7L301.9 263.5L302.9 269.3L303.8 275.1L304.8 280.9L305.8 286.7L306.8 292.4L307.7 298.2L308.7 295L309.7 288.6L310.6 282.2L311.6 275.7L312.6 269.3L313.6 262.8L314.5 261L315.5 266.3L316.5 271.1L317.5 275.5L318.4 279.5L319.4 283.1L320.4 286.4L321.3 289.3L322.3 292L323.3 294.4L324.3 296.5L325.2 298.5L326.2 300.2L327.2 301.8L328.2 303.2L329.1 304.6L330.1 305.8L340.6 298.8L339.6 297.5L338.6 296L337.6 294.3L336.7 292.5L335.7 290.4L334.7 288.1L333.7 285.6L332.8 282.8L331.8 279.7L330.8 276.3L329.9 272.4L328.9 268.1L327.9 263.3L326.9 258.1L326 252.3L325 246.1L324 248.4L323.1 256.2L322.1 264.1L321.1 271.9L320.1 279.8L319.2 287.6L318.2 295.5L317.2 296.7L316.2 296.3L315.3 289.8L314.3 283.4L313.3 276.9L312.4 270.4L311.4 264L310.4 257.5L309.4 251L308.5 244.5L307.5 238.1L306.5 231.6L305.5 225.1L304.6 218.7L303.6 212.2L302.6 205.7L301.7 199.3L300.7 207L299.7 214.8L298.7 222.6L297.8 230.4L296.8 238.1L295.8 245.9L294.8 253.7L293.9 261.5L292.9 269.2z"/>
<path class="w" d="M273.9 297.4L274.9 291.2L275.9 285.1L276.8 279L277.8 272.9L278.8 266.8L279.8 260.7L280.7 254.5L281.7 248.4L282.7 242.3L283.7 236.2L284.6 230.1L285.6 223.9L286.6 229.1L287.5 234.3L288.5 239.5L289.5 244.6L290.5 249.8L291.4 255L292.4 260.2L293.4 265.3L294.4 270.5L295.3 275.7L296.3 280.9L297.3 286L298.2 291.2L299.2 296.4L300.2 293.4L301.2 288.7L302.1 284L303.1 279.3L304.1 278.1L305.1 282.1L306 285.8L307 289.2L308 292.2L308.9 295L309.9 297.6L310.9 299.9L311.9 301.9L312.8 303.8L313.8 305.5L314.8 307L315.8 308.4L316.7 309.7L317.7 310.9L328.2 303.2L327.2 301.8L326.2 300.2L325.2 298.5L324.3 296.5L323.3 294.4L322.3 292L321.3 289.3L320.4 286.4L319.4 283.1L318.4 279.5L317.5 275.5L316.5 271.1L315.5 266.3L314.5 261L313.6 262.8L312.6 269.3L311.6 275.7L310.6 282.2L309.7 288.6L308.7 295L307.7 298.2L306.8 292.4L305.8 286.7L304.8 280.9L303.8 275.1L302.9 269.3L301.9 263.5L300.9 257.7L299.9 251.9L299 246.1L298 240.3L297 234.6L296.1 228.8L295.1 223L294.1 217.2L293.1 211.4L292.2 218.4L291.2 225.3L290.2 232.2L289.2 239.2L288.3 246.1L287.3 253.1L286.3 260L285.4 266.9L284.4 273.9z"/>
<path class="w" d="M265.4 305.9L266.4 301L267.4 295.6L268.3 290.2L269.3 284.8L270.3 279.5L271.2 274.1L272.2 268.7L273.2 263.3L274.2 258L275.1 252.6L276.1 247.2L277.1 241.8L278.1 236.5L279 241.1L280 245.7L281 250.3L281.9 255L282.9 259.6L283.9 264.2L284.9 268.8L285.8 273.4L286.8 278.1L287.8 282.7L288.8 287.3L289.7 291.9L290.7 296.5L291.7 298.5L292.6 295.4L293.6 294.7L294.6 297.5L295.6 300.1L296.5 302.5L297.5 304.7L298.5 306.7L299.5 308.5L300.4 310.2L301.4 311.7L302.4 313.1L303.3 314.4L304.3 315.5L314.8 307L313.8 305.5L312.8 303.8L311.9 301.9L310.9 299.9L309.9 297.6L308.9 295L308 292.2L307 289.2L306 285.8L305.1 282.1L304.1 278.1L303.1 279.3L302.1 284L301.2 288.7L300.2 293.4L299.2 296.4L298.2 291.2L297.3 286L296.3 280.9L295.3 275.7L294.4 270.5L293.4 265.3L292.4 260.2L291.4 255L290.5 249.8L289.5 244.6L288.5 239.5L287.5 234.3L286.6 229.1L285.6 223.9L284.6 230.1L283.7 236.2L282.7 242.3L281.7 248.4L280.7 254.5L279.8 260.7L278.8 266.8L277.8 272.9L276.8 279L275.9 285.1z"/>
<path class="w" d="M257.9 305L258.8 300.3L259.8 295.6L260.8 290.9L261.8 286.2L262.7 281.5L263.7 276.8L264.7 272.1L265.7 267.4L266.6 262.7L267.6 258L268.6 253.3L269.5 248.6L270.5 252.7L271.5 256.9L272.5 261L273.4 265.1L274.4 269.2L275.4 273.3L276.4 277.5L277.3 281.6L278.3 285.7L279.3 289.8L280.2 293.9L281.2 298L282.2 302.2L283.2 306.3L284.1 310.4L285.1 312.8L286.1 314.4L287.1 315.9L288 317.3L289 318.5L290 319.7L300.4 310.2L299.5 308.5L298.5 306.7L297.5 304.7L296.5 302.5L295.6 300.1L294.6 297.5L293.6 294.7L292.6 295.4L291.7 298.5L290.7 296.5L289.7 291.9L288.8 287.3L287.8 282.7L286.8 278.1L285.8 273.4L284.9 268.8L283.9 264.2L282.9 259.6L281.9 255L281 250.3L280 245.7L279 241.1L278.1 236.5L277.1 241.8L276.1 247.2L275.1 252.6L274.2 258L273.2 263.3L272.2 268.7L271.2 274.1L270.3 279.5L269.3 284.8L268.3 290.2z"/>
<path class="w" d="M249.4 314.2L250.3 310.1L251.3 306L252.3 301.9L253.2 297.9L254.2 293.8L255.2 289.7L256.2 285.6L257.1 281.5L258.1 277.5L259.1 273.4L260.1 269.3L261 265.2L262 261.2L263 264.8L263.9 268.5L264.9 272.1L265.9 275.8L266.9 279.5L267.8 283.1L268.8 286.8L269.8 290.4L270.8 294.1L271.7 297.7L272.7 301.4L273.7 305.1L274.6 308.7L275.6 312.4L276.6 316L277.6 319.7L278.5 323.4L289 318.5L288 317.3L287.1 315.9L286.1 314.4L285.1 312.8L284.1 310.4L283.2 306.3L282.2 302.2L281.2 298L280.2 293.9L279.3 289.8L278.3 285.7L277.3 281.6L276.4 277.5L275.4 273.3L274.4 269.2L273.4 265.1L272.5 261L271.5 256.9L270.5 252.7L269.5 248.6L268.6 253.3L267.6 258L266.6 262.7L265.7 267.4L264.7 272.1L263.7 276.8L262.7 281.5L261.8 286.2L260.8 290.9L259.8 295.6z"/>
<path class="w" d="M240.8 318.9L241.8 315.4L242.8 311.9L243.8 308.4L244.7 304.9L245.7 301.4L246.7 297.9L247.7 294.4L248.6 290.9L249.6 287.3L250.6 283.8L251.5 280.3L252.5 276.8L253.5 273.3L254.5 276.6L255.4 279.8L256.4 283L257.4 286.3L258.4 289.5L259.3 292.7L260.3 296L261.3 299.2L262.2 302.5L263.2 305.7L264.2 308.9L265.2 312.2L266.1 315.4L267.1 318.7L268.1 321.9L278.5 323.4L277.6 319.7L276.6 316L275.6 312.4L274.6 308.7L273.7 305.1L272.7 301.4L271.7 297.7L270.8 294.1L269.8 290.4L268.8 286.8L267.8 283.1L266.9 279.5L265.9 275.8L264.9 272.1L263.9 268.5L263 264.8L262 261.2L261 265.2L260.1 269.3L259.1 273.4L258.1 277.5L257.1 281.5L256.2 285.6L255.2 289.7L254.2 293.8L253.2 297.9L252.3 301.9L251.3 306z"/>
<path class="w" d="M233.3 324.7L234.3 321.7L235.3 318.7L236.2 315.7L237.2 312.7L238.2 309.7L239.1 306.7L240.1 303.8L241.1 300.8L242.1 297.8L243 294.8L244 291.8L245 288.8L245.9 285.8L246.9 288.7L247.9 291.5L248.9 294.4L249.8 297.3L250.8 300.1L251.8 303L252.8 305.8L253.7 308.7L254.7 311.5L255.7 314.4L256.6 317.2L257.6 320.1L258.6 322.9L259.6 325.8L260.5 328.6L271 331.6L270 328.4L269.1 325.1L268.1 321.9L267.1 318.7L266.1 315.4L265.2 312.2L264.2 308.9L263.2 305.7L262.2 302.5L261.3 299.2L260.3 296L259.3 292.7L258.4 289.5L257.4 286.3L256.4 283L255.4 279.8L254.5 276.6L253.5 273.3L252.5 276.8L251.5 280.3L250.6 283.8L249.6 287.3L248.6 290.9L247.7 294.4L246.7 297.9L245.7 301.4L244.7 304.9L243.8 308.4z"/>
<path class="w" d="M224.8 333.4L225.8 330.9L226.7 328.4L227.7 325.9L228.7 323.4L229.7 320.9L230.6 318.4L231.6 315.9L232.6 313.4L233.5 310.9L234.5 308.4L235.5 305.9L236.5 303.4L237.4 300.9L238.4 298.4L239.4 300.9L240.4 303.4L241.3 305.9L242.3 308.4L243.3 310.9L244.2 313.4L245.2 315.8L246.2 318.3L247.2 320.8L248.1 323.3L249.1 325.8L250.1 328.3L251.1 330.8L252 333.3L253 335.8L263.5 337.2L262.5 334.3L261.5 331.5L260.5 328.6L259.6 325.8L258.6 322.9L257.6 320.1L256.6 317.2L255.7 314.4L254.7 311.5L253.7 308.7L252.8 305.8L251.8 303L250.8 300.1L249.8 297.3L248.9 294.4L247.9 291.5L246.9 288.7L245.9 285.8L245 288.8L244 291.8L243 294.8L242.1 297.8L241.1 300.8L240.1 303.8L239.1 306.7L238.2 309.7L237.2 312.7L236.2 315.7L235.3 318.7z"/>
<path class="k9 n" d="M244.4 342.6L247.9 340.4L251.4 338.1L254.9 335.6L258.4 333L261.9 330.3L265.3 327.3L268.8 324.1L272.3 320.7M390.8 257.2L394.3 256.9L397.8 254.7L401.3 251.5L404.8 248"/>
<path class="k10 n" d="M272.3 320.7L275.8 316.9L279.3 312.9L282.8 308.5L286.3 303.9M376.9 253.4L380.4 255.1L383.9 256.3L387.4 257L390.8 257.2M404.8 248L408.3 244.3L411.8 240.3L415.2 236.1L418.7 231.8L422.2 227.4"/>
<path class="k11 n" d="M286.3 303.9L289.7 298.9L293.2 293.6L296.7 288.1M369.9 248.4L373.4 251.1L376.9 253.4M422.2 227.4L425.7 222.9L429.2 218.5L432.7 214.3L436.2 210.3"/>
<path class="k12 n" d="M296.7 288.1L300.2 282.4L303.7 276.5L307.2 270.6M363 242L366.4 245.3L369.9 248.4"/>
<path class="k13 n" d="M307.2 270.6L310.7 264.7L314.1 259L317.6 253.5M352.5 233L356 235.7L359.5 238.8L363 242"/>
<path class="k14 n" d="M317.6 253.5L321.1 248.3L324.6 243.7L328.1 239.5L331.6 236L335.1 233.1L338.6 231L342 229.9L345.5 229.9L349 231L352.5 233"/>
<path class="k9 n" d="M245.9 343.3L249.4 341.2L252.9 338.9L256.3 336.5L259.8 334L263.3 331.4L266.8 328.6L270.3 325.6L273.8 322.4L277.3 319M388.8 258.9L392.3 258.7L395.8 257.1L399.3 253.7"/>
<path class="k10 n" d="M277.3 319L280.7 315.2L284.2 311.3L287.7 307L291.2 302.5M374.9 255.1L378.4 256.7L381.8 257.9L385.3 258.6L388.8 258.9M399.3 253.7L402.8 250L406.2 245.9L409.7 241.6L413.2 236.9L416.7 232"/>
<path class="k11 n" d="M291.2 302.5L294.7 297.8L298.2 292.8L301.7 287.7L305.1 282.4M367.9 250.8L371.4 253.1L374.9 255.1M416.7 232L420.2 226.9L423.7 221.6L427.2 216.3"/>
<path class="k12 n" d="M305.1 282.4L308.6 277.2L312.1 271.9L315.6 266.8M357.4 243.5L360.9 245.8L364.4 248.3L367.9 250.8M427.2 216.3L430.7 211L434.1 206L437.6 201.3"/>
<path class="k13 n" d="M315.6 266.8L319.1 261.8L322.6 257.2L326.1 252.9L329.6 249.1L333 245.8L336.5 243.1L340 241L343.5 239.8L347 239.5L350.5 240.2L354 241.6L357.4 243.5"/>
<path class="k9 n" d="M250.8 341.9L254.3 339.7L257.8 337.4L261.3 335L264.8 332.5L268.3 329.8L271.7 327L275.2 324L278.7 320.8M386.8 260.7L390.3 260.6L393.8 260.1L397.2 257.3L400.7 253.8"/>
<path class="k10 n" d="M278.7 320.8L282.2 317.4L285.7 313.8L289.2 309.9L292.7 305.9L296.1 301.6L299.6 297.1M372.8 257.3L376.3 258.7L379.8 259.7L383.3 260.4L386.8 260.7M400.7 253.8L404.2 249.9L407.7 245.7L411.2 241.2L414.7 236.4"/>
<path class="k11 n" d="M299.6 297.1L303.1 292.5L306.6 287.8L310.1 283.1L313.6 278.4M362.4 252.2L365.9 254L369.4 255.7L372.8 257.3M414.7 236.4L418.2 231.2L421.7 225.8L425.1 220.3"/>
<path class="k12 n" d="M313.6 278.4L317.1 273.8L320.6 269.4L324 265.2L327.5 261.3L331 257.8M348.4 248.2L351.9 248.5L355.4 249.3L358.9 250.6L362.4 252.2M425.1 220.3L428.6 214.7L432.1 209.2L435.6 203.9L439.1 199"/>
<path class="k13 n" d="M331 257.8L334.5 254.8L338 252.2L341.5 250.1L345 248.8L348.4 248.2"/>
<path class="k9 n" d="M255.8 340.5L259.3 338.2L262.7 335.9L266.2 333.5L269.7 331L273.2 328.3L276.7 325.5L280.2 322.5L283.7 319.4M388.2 262.5L391.7 262.1L395.2 261.4L398.7 258.7L402.2 255.4L405.7 251.9"/>
<path class="k10 n" d="M283.7 319.4L287.1 316L290.6 312.5L294.1 308.8L297.6 304.9L301.1 300.9L304.6 296.8M370.8 260L374.3 261L377.8 261.8L381.3 262.4L384.8 262.6L388.2 262.5M405.7 251.9L409.2 248.1L412.7 244L416.1 239.6L419.6 235"/>
<path class="k11 n" d="M304.6 296.8L308.1 292.5L311.6 288.3L315 284.1L318.5 279.9L322 275.9M356.9 256L360.4 256.8L363.8 257.8L367.3 258.9L370.8 260M419.6 235L423.1 230.2L426.6 225.2L430.1 220.2L433.6 215.3"/>
<path class="k12 n" d="M322 275.9L325.5 272.1L329 268.6L332.5 265.3L336 262.5L339.4 260L342.9 258L346.4 256.5L349.9 255.8L353.4 255.6L356.9 256M433.6 215.3L437.1 210.6L440.5 206.2"/>
<path class="k9 n" d="M257.2 341.2L260.7 339L264.2 336.8L267.7 334.4L271.2 332L274.7 329.5L278.1 326.8L281.6 324L285.1 321.1L288.6 318M386.2 264.6L389.7 264.2L393.2 263.5L396.7 262.6L400.2 260L403.7 257L407.1 253.7L410.6 250.2"/>
<path class="k10 n" d="M288.6 318L292.1 314.8L295.6 311.4L299.1 307.8L302.6 304.2L306 300.4L309.5 296.6L313 292.7M368.8 263.2L372.3 263.8L375.8 264.3L379.2 264.6L382.7 264.7L386.2 264.6M410.6 250.2L414.1 246.5L417.6 242.5L421.1 238.3L424.6 234L428.1 229.6"/>
<path class="k11 n" d="M313 292.7L316.5 288.9L320 285.1L323.5 281.5L327 278L330.4 274.8L333.9 271.8L337.4 269.1L340.9 266.7L344.4 264.7L347.9 263.2L351.4 262.2L354.8 261.7L358.3 261.7L361.8 262L365.3 262.5L368.8 263.2M428.1 229.6L431.5 225.1L435 220.7L438.5 216.4L442 212.4"/>
<path class="k9 n" d="M262.2 339.8L265.7 337.6L269.2 335.3L272.6 333L276.1 330.6L279.6 328L283.1 325.4L286.6 322.6L290.1 319.8L293.6 316.7L297 313.6M384.2 266.8L387.7 266.3L391.2 265.7L394.7 264.8L398.1 263.7L401.6 261.2L405.1 258.4L408.6 255.3L412.1 252.1L415.6 248.7"/>
<path class="k10 n" d="M297 313.6L300.5 310.4L304 307L307.5 303.6L311 300.1L314.5 296.6L318 293.1L321.4 289.6M363.3 266.5L366.8 266.6L370.3 266.8L373.7 267L377.2 267.1L380.7 267L384.2 266.8M415.6 248.7L419.1 245.1L422.5 241.3L426 237.4L429.5 233.4L433 229.3"/>
<path class="k11 n" d="M321.4 289.6L324.9 286.3L328.4 283.1L331.9 280L335.4 277.2L338.9 274.7L342.4 272.4L345.8 270.4L349.3 268.8L352.8 267.7L356.3 267L359.8 266.6L363.3 266.5M433 229.3L436.5 225.3L440 221.5L443.5 217.8"/>
<path class="k9 n" d="M267.1 338.4L270.6 336.2L274.1 333.9L277.6 331.6L281.1 329.2L284.6 326.6L288 324L291.5 321.3L295 318.5L298.5 315.6L302 312.6M382.2 269.1L385.7 268.6L389.1 267.9L392.6 267L396.1 265.9L399.6 264.7L403.1 262.3L406.6 259.6L410.1 256.8L413.5 253.8L417 250.6L420.5 247.3"/>
<path class="k10 n" d="M302 312.6L305.5 309.4L309 306.3L312.4 303.1L315.9 299.8L319.4 296.6L322.9 293.4L326.4 290.4L329.9 287.4L333.4 284.5L336.8 281.9M354.3 272.3L357.8 271.4L361.3 270.8L364.7 270.4L368.2 270.1L371.7 269.9L375.2 269.8L378.7 269.5L382.2 269.1M420.5 247.3L424 243.8L427.5 240.3L431 236.6L434.5 233L437.9 229.3L441.4 225.8"/>
<path class="k11 n" d="M336.8 281.9L340.3 279.5L343.8 277.2L347.3 275.2L350.8 273.6L354.3 272.3M441.4 225.8L444.9 222.5"/>
<path class="k9 n" d="M268.6 339.1L272.1 336.9L275.6 334.7L279 332.5L282.5 330.2L286 327.8L289.5 325.3L293 322.7L296.5 320L300 317.3L303.4 314.5L306.9 311.6M380.1 271.6L383.6 270.9L387.1 270.2L390.6 269.3L394.1 268.2L397.6 267L401.1 265.6L404.5 263.3L408 260.8L411.5 258.1L415 255.3L418.5 252.3L422 249.3L425.5 246.1"/>
<path class="k10 n" d="M306.9 311.6L310.4 308.6L313.9 305.7L317.4 302.7L320.9 299.7L324.4 296.7L327.8 293.8L331.3 291.1L334.8 288.4L338.3 285.9L341.8 283.5L345.3 281.4L348.8 279.4L352.3 277.7L355.7 276.3L359.2 275.2L362.7 274.4L366.2 273.7L369.7 273.1L373.2 272.7L376.7 272.2L380.1 271.6M425.5 246.1L428.9 242.8L432.4 239.5L435.9 236.1L439.4 232.8L442.9 229.5L446.4 226.4"/>
<path class="k9 n" d="M273.5 337.7L277 335.5L280.5 333.4L284 331.1L287.5 328.8L291 326.4L294.4 323.9L297.9 321.4L301.4 318.8L304.9 316.2L308.4 313.4L311.9 310.7L315.4 307.9M378.1 274.2L381.6 273.4L385.1 272.6L388.6 271.6L392.1 270.5L395.5 269.3L399 268L402.5 266.5L406 264.2L409.5 261.8L413 259.3L416.5 256.6L419.9 253.9L423.4 251L426.9 248L430.4 245"/>
<path class="k10 n" d="M315.4 307.9L318.8 305.1L322.3 302.3L325.8 299.5L329.3 296.8L332.8 294.2L336.3 291.7L339.8 289.3L343.3 287L346.7 284.9L350.2 282.9L353.7 281.2L357.2 279.7L360.7 278.5L364.2 277.4L367.7 276.5L371.1 275.7L374.6 275L378.1 274.2M430.4 245L433.9 241.9L437.4 238.8L440.9 235.7L444.4 232.7L447.8 229.8"/>
<path class="k9 n" d="M278.5 336.3L282 334.2L285.4 332L288.9 329.7L292.4 327.4L295.9 325.1L299.4 322.7L302.9 320.2L306.4 317.7L309.8 315.1L313.3 312.5L316.8 309.8L320.3 307.2L323.8 304.6M372.6 278L376.1 277L379.6 276.1L383.1 275.1L386.5 274L390 272.9L393.5 271.6L397 270.3L400.5 268.8L404 267.3L407.5 265.1L410.9 262.8L414.4 260.4L417.9 257.8L421.4 255.2L424.9 252.5L428.4 249.8L431.9 246.9L435.4 244"/>
<path class="k10 n" d="M323.8 304.6L327.3 302L330.8 299.4L334.3 296.9L337.7 294.5L341.2 292.1L344.7 289.9L348.2 287.9L351.7 285.9L355.2 284.1L358.7 282.6L362.1 281.2L365.6 280L369.1 279L372.6 278M435.4 244L438.8 241.1L442.3 238.3L445.8 235.5L449.3 232.8"/>
<path class="k9 n" d="M283.4 334.9L286.9 332.8L290.4 330.6L293.9 328.4L297.4 326.1L300.8 323.8L304.3 321.4L307.8 319L311.3 316.5L314.8 314.1L318.3 311.6L321.8 309L325.3 306.5L328.7 304.1L332.2 301.6L335.7 299.2M367.1 282.3L370.6 281.1L374.1 279.9L377.5 278.8L381 277.7L384.5 276.5L388 275.3L391.5 274L395 272.7L398.5 271.2L401.9 269.7L405.4 268.1"/>
<path class="k10 n" d="M335.7 299.2L339.2 296.9L342.7 294.6L346.2 292.5L349.7 290.4L353.1 288.5L356.6 286.7L360.1 285.1L363.6 283.6L367.1 282.3"/>
<path class="k9 n" d="M405.4 268.1L408.9 265.9L412.4 263.7L415.9 261.3L419.4 258.9L422.9 256.5L426.4 253.9L429.8 251.3L433.3 248.6L436.8 245.9L440.3 243.2L443.8 240.5"/>
<path class="k10 n" d="M443.8 240.5L447.3 237.8L450.8 235.3"/>
<path class="k9 n" d="M288.4 333.6L291.8 331.4L295.3 329.3L298.8 327L302.3 324.8L305.8 322.5L309.3 320.2L312.8 317.8L316.3 315.5L319.7 313.1L323.2 310.7L326.7 308.3L330.2 305.9L333.7 303.5L337.2 301.2L340.7 299L344.1 296.8L347.6 294.7L351.1 292.7L354.6 290.7L358.1 288.9L361.6 287.2L365.1 285.7L368.5 284.3L372 282.9L375.5 281.6L379 280.4L382.5 279.1L386 277.8L389.5 276.5L392.9 275.1L396.4 273.6L399.9 272.1L403.4 270.5L406.9 268.8"/>
<path class="k9 n" d="M410.4 266.7L413.9 264.5L417.4 262.3L420.8 259.9L424.3 257.6L427.8 255.1L431.3 252.6L434.8 250.1L438.3 247.5L441.8 245L445.2 242.4L448.7 239.9L452.2 237.4"/>
<path class="k9 n" d="M293.3 332.2L296.8 330.1L300.3 327.9L303.8 325.7L307.3 323.5L310.7 321.3L314.2 319L317.7 316.7L321.2 314.4L324.7 312.1L328.2 309.8L331.7 307.5L335.1 305.2L338.6 303L342.1 300.8L345.6 298.7L349.1 296.6L352.6 294.6L356.1 292.6L359.5 290.8L363 289.1L366.5 287.5L370 286L373.5 284.5L377 283.1L380.5 281.7L383.9 280.4L387.4 279L390.9 277.5L394.4 276L397.9 274.5L401.4 272.9L404.9 271.2"/>
<path class="k9 n" d="M411.8 267.5L415.3 265.3L418.8 263.1L422.3 260.9L425.8 258.6L429.3 256.2L432.8 253.8L436.2 251.4L439.7 249L443.2 246.5L446.7 244.1L450.2 241.7L453.7 239.3"/>
<path class="k9 n" d="M298.3 330.9L301.7 328.8L305.2 326.6L308.7 324.5L312.2 322.3L315.7 320.1L319.2 317.8L322.7 315.6L326.1 313.4L329.6 311.1L333.1 308.9L336.6 306.7L340.1 304.5L343.6 302.4L347.1 300.3L350.5 298.3L354 296.3L357.5 294.3L361 292.5L364.5 290.7L368 289.1L371.5 287.5L374.9 286L378.4 284.5L381.9 283L385.4 281.5L388.9 280L392.4 278.5L395.9 276.9L399.4 275.3L402.8 273.7"/>
<path class="k9 n" d="M416.8 266.1L420.3 263.9L423.8 261.7L427.2 259.5L430.7 257.3L434.2 254.9L437.7 252.6L441.2 250.3L444.7 247.9L448.2 245.6L451.6 243.3L455.1 241"/>
<path class="k9 n" d="M303.2 329.5L306.7 327.4L310.2 325.3L313.7 323.2L317.1 321L320.6 318.9L324.1 316.7L327.6 314.5L331.1 312.3L334.6 310.2L338.1 308L341.5 305.9L345 303.8L348.5 301.7L352 299.7L355.5 297.7L359 295.8L362.5 294L365.9 292.2L369.4 290.5L372.9 288.8L376.4 287.2L379.9 285.7L383.4 284.1L386.9 282.5L390.4 281L393.8 279.4L397.3 277.7L400.8 276.1"/>
<path class="k9 n" d="M421.7 264.7L425.2 262.6L428.7 260.4L432.2 258.2L435.7 256L439.2 253.7L442.6 251.4L446.1 249.2L449.6 246.9L453.1 244.7L456.6 242.4"/>
<path class="k9 n" d="M308.1 328.2L311.6 326.1L315.1 324L318.6 321.9L322.1 319.8L325.6 317.7L329.1 315.6L332.5 313.4L336 311.3L339.5 309.2L343 307.1L346.5 305.1L350 303L353.5 301L357 299.1L360.4 297.1L363.9 295.3L367.4 293.5L370.9 291.7L374.4 290L377.9 288.4L381.4 286.7L384.8 285.1L388.3 283.5L391.8 281.9L395.3 280.2L398.8 278.5"/>
<path class="k9 n" d="M426.7 263.3L430.2 261.2L433.6 259.1L437.1 256.9L440.6 254.7L444.1 252.5L447.6 250.3L451.1 248.1L454.6 245.9L458.1 243.8"/>
<path class="k9 n" d="M313.1 326.9L316.6 324.8L320.1 322.8L323.5 320.7L327 318.6L330.5 316.5L334 314.4L337.5 312.4L341 310.3L344.5 308.2L348 306.2L351.4 304.2L354.9 302.2L358.4 300.3L361.9 298.3L365.4 296.5L368.9 294.6L372.4 292.9L375.8 291.1L379.3 289.4L382.8 287.7L386.3 286.1L389.8 284.4L393.3 282.7L396.8 281"/>
<path class="k9 n" d="M431.6 262L435.1 259.9L438.6 257.7L442.1 255.6L445.6 253.5L449.1 251.3L452.5 249.2L456 247L459.5 244.9"/>
<path class="k9 n" d="M321.5 323.6L325 321.5L328.5 319.5L332 317.4L335.5 315.4L339 313.3L342.4 311.3L345.9 309.2L349.4 307.2L352.9 305.2L356.4 303.3L359.9 301.3L363.4 299.4L366.8 297.5L370.3 295.7L373.8 293.9L377.3 292.1L380.8 290.4L384.3 288.7L387.8 286.9L391.2 285.2L394.7 283.5"/>
<path class="k9 n" d="M436.6 260.6L440.1 258.6L443.5 256.5L447 254.4L450.5 252.2L454 250.1L457.5 248.1L461 246"/>
<path class="k9 n" d="M326.5 322.3L330 320.3L333.4 318.2L336.9 316.2L340.4 314.2L343.9 312.2L347.4 310.2L350.9 308.2L354.4 306.2L357.8 304.2L361.3 302.3L364.8 300.4L368.3 298.5L371.8 296.7L375.3 294.8L378.8 293L382.2 291.3L385.7 289.5L389.2 287.8L392.7 286"/>
<path class="k9 n" d="M441.5 259.3L445 257.3L448.5 255.2L452 253.1L455.5 251.1L458.9 249L462.4 247"/>
<path class="k9 n" d="M334.9 319L338.4 317L341.9 315L345.4 313L348.8 311L352.3 309.1L355.8 307.1L359.3 305.1L362.8 303.2L366.3 301.3L369.8 299.4L373.2 297.5L376.7 295.7L380.2 293.9L383.7 292.1L387.2 290.3L390.7 288.5"/>
<path class="k9 n" d="M449.9 256L453.4 253.9L456.9 251.9L460.4 249.9L463.9 247.9"/>
<path class="k9 n" d="M346.8 313.8L350.3 311.8L353.8 309.9L357.3 307.9L360.8 306L364.2 304.1L367.7 302.1L371.2 300.2L374.7 298.4L378.2 296.5L381.7 294.7L385.2 292.9"/>
<path class="k9 n" d="M454.9 254.7L458.4 252.7L461.9 250.7L465.3 248.7"/>
<path class="k12 n" d="M354.8 246.2L358.3 247.8L361.8 249.7L365.3 251.7M424.5 218.2L428 212.4L431.5 206.6L435 201.1M469.9 184.2L473.3 186.6L476.8 189.1"/>
<path class="k11 n" d="M365.3 251.7L368.8 253.8L372.2 255.6L375.7 257.2M414.1 235L417.6 229.6L421 224L424.5 218.2M476.8 189.1L480.3 191.6L483.8 193.9L487.3 195.9"/>
<path class="k10 n" d="M375.7 257.2L379.2 258.5L382.7 259.4L386.2 259.8L389.7 259.9M400.1 253L403.6 249.1L407.1 244.7L410.6 240L414.1 235M487.3 195.9L490.8 197.4L494.3 198.4L497.7 199"/>
<path class="k9 n" d="M389.7 259.9L393.2 259.6L396.6 256.7L400.1 253M497.7 199L501.2 199.1L504.7 198.8L508.2 198.2L511.7 197.2L515.2 195.9L518.7 194.5"/>
<path class="k13 n" d="M435 201.1L438.5 196L442 191.4L445.5 187.5L448.9 184.3L452.4 182L455.9 180.6L459.4 180.2L462.9 180.8L466.4 182.2L469.9 184.2"/>
<path class="k12 n" d="M356.3 253.3L359.8 254.3M429.5 218L433 212.9L436.5 207.9L439.9 203.3L443.4 199.2L446.9 195.5L450.4 192.6M457.4 188.8L460.9 188.2L464.3 188.4L467.8 189.3L471.3 190.7L474.8 192.4"/>
<path class="k11 n" d="M359.8 254.3L363.2 255.6L366.7 257L370.2 258.3L373.7 259.6M419 233.5L422.5 228.4L426 223.2L429.5 218M474.8 192.4L478.3 194.2L481.8 196.1L485.3 197.7"/>
<path class="k10 n" d="M373.7 259.6L377.2 260.6L380.7 261.3L384.2 261.7L387.6 261.8M405.1 251.1L408.6 247.2L412 242.9L415.5 238.3L419 233.5M485.3 197.7L488.7 199L492.2 200L495.7 200.6L499.2 200.8"/>
<path class="k9 n" d="M387.6 261.8L391.1 261.5L394.6 260.9L398.1 258.1L401.6 254.8L405.1 251.1M499.2 200.8L502.7 200.6L506.2 200.1L509.7 199.2L513.1 198.1L516.6 196.7L520.1 195.2"/>
<path class="k13 n" d="M450.4 192.6L453.9 190.3L457.4 188.8"/>
<path class="k11 n" d="M357.7 259.5L361.2 259.9L364.7 260.7L368.2 261.5M424 232.5L427.5 227.8L430.9 223.2L434.4 218.6L437.9 214.1M469.3 195.7L472.8 196.6L476.3 197.7L479.7 198.9L483.2 200.1"/>
<path class="k10 n" d="M368.2 261.5L371.7 262.3L375.2 263L378.6 263.5L382.1 263.8L385.6 263.8M406.5 253L410 249.4L413.5 245.5L417 241.4L420.5 237L424 232.5M483.2 200.1L486.7 201.1L490.2 202L493.7 202.5L497.2 202.7"/>
<path class="k9 n" d="M385.6 263.8L389.1 263.5L392.6 263L396.1 262.2L399.6 259.5L403.1 256.4L406.5 253M497.2 202.7L500.7 202.5L504.2 202L507.6 201.2L511.1 200.2L514.6 198.9L518.1 197.5L521.6 195.9"/>
<path class="k12 n" d="M437.9 214.1L441.4 210L444.9 206.2L448.4 202.8L451.9 200L455.3 197.8L458.8 196.3L462.3 195.4L465.8 195.3L469.3 195.7"/>
<path class="k11 n" d="M359.2 264.7L362.7 264.8L366.2 265M432.4 227.6L435.9 223.5L439.4 219.5L442.9 215.7L446.3 212.2L449.8 209.1L453.3 206.5L456.8 204.3L460.3 202.7L463.8 201.7L467.3 201.3L470.7 201.3L474.2 201.7L477.7 202.3L481.2 203"/>
<path class="k10 n" d="M366.2 265L369.6 265.4L373.1 265.7L376.6 266L380.1 266.1L383.6 266M411.5 251.4L415 247.8L418.5 244.1L421.9 240.1L425.4 236L428.9 231.9L432.4 227.6M481.2 203L484.7 203.6L488.2 204.2L491.7 204.5L495.2 204.6"/>
<path class="k9 n" d="M383.6 266L387.1 265.6L390.6 265.1L394.1 264.3L397.5 263.3L401 260.7L404.5 257.8L408 254.7L411.5 251.4M495.2 204.6L498.6 204.5L502.1 204L505.6 203.3L509.1 202.3L512.6 201.1L516.1 199.8L519.6 198.3"/>
<path class="k10 n" d="M360.6 269.2L364.1 268.9L367.6 268.8L371.1 268.7L374.6 268.7L378.1 268.5L381.6 268.3M416.4 249.9L419.9 246.4L423.4 242.8L426.9 239.1L430.4 235.3L433.9 231.5L437.3 227.8M475.7 206.1L479.2 206.2L482.7 206.5L486.2 206.7L489.6 206.8L493.1 206.8L496.6 206.6"/>
<path class="k9 n" d="M381.6 268.3L385.1 267.9L388.5 267.3L392 266.5L395.5 265.5L399 264.3L402.5 261.8L406 259.1L409.5 256.2L412.9 253.1L416.4 249.9M496.6 206.6L500.1 206.1L503.6 205.4L507.1 204.5L510.6 203.3L514 202L517.5 200.6L521 199"/>
<path class="k11 n" d="M437.3 227.8L440.8 224.1L444.3 220.6L447.8 217.4L451.3 214.6L454.8 212L458.3 209.9L461.7 208.2L465.2 207.1L468.7 206.4L472.2 206.1L475.7 206.1"/>
<path class="k9 n" d="M538.4 189.2L541.9 187.2L545.4 185.2L548.9 183.2L552.4 181.3"/>
<path class="k10 n" d="M362.1 273L365.6 272.4L369.1 272L372.6 271.6L376.1 271.2L379.5 270.8M421.4 248.5L424.9 245.2L428.3 241.8L431.8 238.3L435.3 234.9L438.8 231.4L442.3 228.1L445.8 224.9L449.3 221.9L452.7 219.2M466.7 211.7L470.2 210.8L473.7 210.2L477.2 209.8L480.6 209.7L484.1 209.5L487.6 209.4L491.1 209.2L494.6 208.8M539.9 183.2L543.4 180.5L546.9 178L550.4 175.6L553.8 173.4"/>
<path class="k9 n" d="M379.5 270.8L383 270.2L386.5 269.5L390 268.7L393.5 267.7L397 266.6L400.5 265.3L403.9 262.9L407.4 260.3L410.9 257.6L414.4 254.7L417.9 251.7L421.4 248.5M494.6 208.8L498.1 208.3L501.6 207.5L505 206.6L508.5 205.5L512 204.3L515.5 202L519 199.5L522.5 196.9L526 194.2L529.4 191.5L532.9 188.7L536.4 185.9L539.9 183.2"/>
<path class="k11 n" d="M452.7 219.2L456.2 216.8L459.7 214.7L463.2 213L466.7 211.7"/>
<path class="k10 n" d="M363.6 276.2L367.1 275.4L370.5 274.7L374 274.1L377.5 273.4M426.3 247.3L429.8 244.1L433.3 240.9L436.8 237.7L440.3 234.6L443.7 231.5L447.2 228.5L450.7 225.7L454.2 223.1L457.7 220.8L461.2 218.7L464.7 217L468.2 215.6L471.6 214.5L475.1 213.7L478.6 213.1L482.1 212.6L485.6 212.2L489.1 211.7L492.6 211.2M527.4 191.2L530.9 187.7L534.4 184.2L537.9 180.6L541.4 177.2L544.8 173.8L548.3 170.8L551.8 168L555.3 165.5"/>
<path class="k9 n" d="M377.5 273.4L381 272.7L384.5 271.9L388 271L391.5 270L394.9 268.8L398.4 267.6L401.9 266.2L405.4 263.9L408.9 261.4L412.4 258.8L415.9 256.1L419.3 253.3L422.8 250.3L426.3 247.3M492.6 211.2L496 210.5L499.5 209.8L503 208.8L506.5 207.7L510 206.2L513.5 203.6L517 200.7L520.4 197.7L523.9 194.5L527.4 191.2"/>
<path class="k10 n" d="M365 279L368.5 278L372 277.1L375.5 276.2M434.7 243.2L438.2 240.2L441.7 237.3L445.2 234.4L448.7 231.6L452.2 229L455.7 226.5L459.2 224.3L462.6 222.2L466.1 220.5L469.6 219L473.1 217.7L476.6 216.7L480.1 215.9L483.6 215.1L487 214.4M521.9 195.9L525.4 192.1L528.9 188.1L532.4 184L535.8 179.7L539.3 175.4"/>
<path class="k9 n" d="M375.5 276.2L379 275.3L382.5 274.4L385.9 273.4L389.4 272.4L392.9 271.2L396.4 269.9L399.9 268.5L403.4 267L406.9 264.8L410.3 262.4L413.8 259.9L417.3 257.4L420.8 254.7L424.3 251.9L427.8 249.1L431.3 246.2L434.7 243.2M487 214.4L490.5 213.7L494 213L497.5 212.1L501 211.1L504.5 210L508 208.5L511.4 205.7L514.9 202.7L518.4 199.5L521.9 195.9"/>
<path class="k11 n" d="M539.3 175.4L542.8 171.2L546.3 167.2L549.8 163.5L553.3 160.3L556.8 157.6"/>
<path class="k10 n" d="M366.5 281.4L370 280.2M439.7 242.4L443.2 239.6L446.7 236.9L450.2 234.3L453.6 231.8L457.1 229.4L460.6 227.2L464.1 225.2L467.6 223.4L471.1 221.8L474.6 220.5L478 219.3L481.5 218.3L485 217.3M519.9 198.2L523.4 194.2L526.8 189.8L530.3 185.1L533.8 180.2"/>
<path class="k9 n" d="M370 280.2L373.5 279.2L376.9 278.1L380.4 277L383.9 275.9L387.4 274.8L390.9 273.6L394.4 272.2L397.9 270.8L401.3 269.3L404.8 267.8L408.3 265.6L411.8 263.3L415.3 260.9L418.8 258.5L422.3 256L425.7 253.4L429.2 250.7L432.7 247.9L436.2 245.2L439.7 242.4M485 217.3L488.5 216.4L492 215.5L495.5 214.5L499 213.5L502.4 212.3L505.9 211.1L509.4 208.3L512.9 205.3L516.4 201.9L519.9 198.2"/>
<path class="k11 n" d="M533.8 180.2L537.3 175.1L540.8 170.1L544.3 165.2L547.8 160.5"/>
<path class="k12 n" d="M547.8 160.5L551.3 156.3L554.7 152.7L558.2 149.8"/>
<path class="k9 n" d="M367.9 283.5L371.4 282.2L374.9 280.9L378.4 279.7L381.9 278.5L385.4 277.3L388.9 276L392.3 274.6L395.8 273.2L399.3 271.7L402.8 270.2L406.3 268.5"/>
<path class="k9 n" d="M406.3 268.5L409.8 266.4L413.3 264.2L416.7 261.9L420.2 259.5L423.7 257.1L427.2 254.6L430.7 252.1L434.2 249.5L437.7 246.9L441.2 244.2L444.6 241.6L448.1 239.1L451.6 236.6M479.5 221.6L483 220.4L486.5 219.3L490 218.2L493.4 217.1L496.9 215.9L500.4 214.7L503.9 213.4L507.4 211.9L510.9 209.2L514.4 206.2L517.8 203L521.3 199.4"/>
<path class="k10 n" d="M451.6 236.6L455.1 234.2L458.6 231.9L462.1 229.8L465.6 227.8L469 226L472.5 224.3L476 222.9L479.5 221.6M521.3 199.4L524.8 195.5L528.3 191.4L531.8 186.9L535.3 182.3"/>
<path class="k11 n" d="M535.3 182.3L538.8 177.5L542.3 172.7L545.7 168.1L549.2 163.6L552.7 159.6"/>
<path class="k12 n" d="M552.7 159.6L556.2 156.2L559.7 153.3"/>
<path class="k9 n" d="M369.4 285.3L372.9 283.9L376.4 282.5L379.9 281.2L383.3 279.8L386.8 278.5L390.3 277.1L393.8 275.6L397.3 274.1L400.8 272.6L404.3 270.9"/>
<path class="k9 n" d="M411.2 267.2L414.7 265L418.2 262.8L421.7 260.5L425.2 258.2L428.7 255.8L432.2 253.4L435.6 250.9L439.1 248.4L442.6 245.9L446.1 243.4L449.6 241L453.1 238.6L456.6 236.3L460 234.1L463.5 232L467 230L470.5 228.1L474 226.5L477.5 224.9L481 223.5L484.4 222.2L487.9 220.9L491.4 219.7L494.9 218.4L498.4 217.2L501.9 215.8L505.4 214.5L508.8 213L512.3 210.5L515.8 207.8L519.3 205L522.8 201.8L526.3 198.5"/>
<path class="k10 n" d="M526.3 198.5L529.8 194.9L533.3 191.2L536.7 187.3L540.2 183.3L543.7 179.3L547.2 175.3"/>
<path class="k11 n" d="M547.2 175.3L550.7 171.6L554.2 168.2L557.7 165.1L561.1 162.5"/>
<path class="k9 n" d="M370.9 286.9L374.3 285.4L377.8 283.9L381.3 282.5L384.8 281L388.3 279.6L391.8 278.1L395.3 276.6L398.7 275L402.2 273.3"/>
<path class="k9 n" d="M416.2 265.8L419.7 263.6L423.2 261.4L426.6 259.1L430.1 256.8L433.6 254.5L437.1 252.1L440.6 249.8L444.1 247.4L447.6 245L451 242.6L454.5 240.3L458 238.1L461.5 235.9L465 233.9L468.5 231.9L472 230.1L475.4 228.3L478.9 226.7L482.4 225.2L485.9 223.8L489.4 222.4L492.9 221.1L496.4 219.7L499.8 218.3L503.3 216.9L506.8 215.4L510.3 213.8L513.8 211.7L517.3 209.2L520.8 206.6L524.3 203.8L527.7 200.9L531.2 197.8L534.7 194.5"/>
<path class="k10 n" d="M534.7 194.5L538.2 191.2L541.7 187.7L545.2 184.3L548.7 180.9L552.1 177.7L555.6 174.7L559.1 172L562.6 169.6"/>
<path class="k9 n" d="M372.3 288.3L375.8 286.7L379.3 285.2L382.8 283.7L386.3 282.1L389.8 280.6L393.2 279L396.7 277.4L400.2 275.8L403.7 274.1"/>
<path class="k9 n" d="M421.1 264.4L424.6 262.2L428.1 260L431.6 257.8L435.1 255.5L438.6 253.3L442 251L445.5 248.7L449 246.4L452.5 244.1L456 241.9L459.5 239.7L463 237.6L466.4 235.5L469.9 233.6L473.4 231.7L476.9 230L480.4 228.3L483.9 226.7L487.4 225.2L490.9 223.7L494.3 222.3L497.8 220.8L501.3 219.3L504.8 217.8L508.3 216.3L511.8 214.6L515.3 212.7L518.7 210.4L522.2 208L525.7 205.4L529.2 202.8L532.7 200L536.2 197.1L539.7 194.2L543.1 191.2"/>
<path class="k10 n" d="M543.1 191.2L546.6 188.2L550.1 185.2L553.6 182.4L557.1 179.7L560.6 177.2L564.1 174.9"/>
<path class="k9 n" d="M373.8 289.6L377.3 287.9L380.8 286.3L384.2 284.7L387.7 283.1L391.2 281.5L394.7 279.9L398.2 278.2L401.7 276.5"/>
<path class="k9 n" d="M426.1 263L429.6 260.9L433 258.7L436.5 256.5L440 254.3L443.5 252.1L447 249.8L450.5 247.6L454 245.4L457.4 243.2L460.9 241.1L464.4 239L467.9 237L471.4 235.1L474.9 233.2L478.4 231.4L481.9 229.7L485.3 228.1L488.8 226.5L492.3 224.9L495.8 223.4L499.3 221.8L502.8 220.3L506.3 218.7L509.7 217.1L513.2 215.4"/>
<path class="k9 n" d="M516.7 213.6L520.2 211.4L523.7 209.1L527.2 206.7L530.7 204.3L534.1 201.8L537.6 199.2L541.1 196.5L544.6 193.8L548.1 191.1L551.6 188.5L555.1 185.9L558.5 183.4"/>
<path class="k10 n" d="M558.5 183.4L562 181.1L565.5 178.9"/>
<path class="k9 n" d="M375.2 290.7L378.7 289L382.2 287.3L385.7 285.7L389.2 284L392.7 282.4L396.2 280.7L399.6 279"/>
<path class="k9 n" d="M431 261.7L434.5 259.5L438 257.4L441.5 255.2L445 253.1L448.4 250.9L451.9 248.7L455.4 246.6L458.9 244.5L462.4 242.4L465.9 240.3L469.4 238.3L472.9 236.4L476.3 234.5L479.8 232.7L483.3 231L486.8 229.3L490.3 227.6L493.8 226L497.3 224.4L500.7 222.8L504.2 221.2L507.7 219.5L511.2 217.8"/>
<path class="k9 n" d="M521.7 212.2L525.1 210.1L528.6 207.8L532.1 205.6L535.6 203.2L539.1 200.8L542.6 198.4L546.1 195.9L549.5 193.4L553 191L556.5 188.6L560 186.3L563.5 184.1L567 182"/>
<path class="k9 n" d="M376.7 291.7L380.2 290L383.7 288.3L387.2 286.6L390.6 284.9L394.1 283.2L397.6 281.4"/>
<path class="k9 n" d="M436 260.3L439.4 258.2L442.9 256.1L446.4 254L449.9 251.9L453.4 249.7L456.9 247.6L460.4 245.6L463.9 243.5L467.3 241.5L470.8 239.5L474.3 237.6L477.8 235.7L481.3 233.9L484.8 232.1L488.3 230.4L491.7 228.7L495.2 227L498.7 225.3L502.2 223.7L505.7 222L509.2 220.3"/>
<path class="k9 n" d="M530.1 208.8L533.6 206.6L537.1 204.4L540.5 202.2L544 199.9L547.5 197.6L551 195.3L554.5 193L558 190.7L561.5 188.5L565 186.4L568.4 184.4"/>
<path class="k9 n" d="M378.2 292.7L381.6 290.9L385.1 289.2L388.6 287.4L392.1 285.7L395.6 283.9"/>
<path class="k9 n" d="M440.9 259L444.4 256.9L447.9 254.9L451.4 252.8L454.9 250.7L458.3 248.6L461.8 246.6L465.3 244.5L468.8 242.5L472.3 240.6L475.8 238.6L479.3 236.8L482.7 234.9L486.2 233.1L489.7 231.4L493.2 229.6L496.7 227.9L500.2 226.2L503.7 224.5L507.1 222.8"/>
<path class="k9 n" d="M535 207.6L538.5 205.4L542 203.3L545.5 201.1L549 198.9L552.5 196.7L556 194.5L559.4 192.4L562.9 190.3L566.4 188.2L569.9 186.2"/>
<path class="k9 n" d="M379.6 293.5L383.1 291.8L386.6 290L390.1 288.2"/>
<path class="k9 n" d="M445.9 257.7L449.3 255.7L452.8 253.6L456.3 251.6L459.8 249.5L463.3 247.5L466.8 245.5L470.3 243.5L473.7 241.5L477.2 239.6L480.7 237.7L484.2 235.9L487.7 234.1L491.2 232.3L494.7 230.5L498.1 228.8L501.6 227L505.1 225.3"/>
<path class="k9 n" d="M543.5 204.2L547 202.1L550.4 200L553.9 197.9L557.4 195.8L560.9 193.7L564.4 191.7L567.9 189.7L571.4 187.7"/>
<path class="k9 n" d="M381.1 294.4L384.6 292.6L388 290.8"/>
<path class="k9 n" d="M454.3 254.4L457.8 252.4L461.3 250.4L464.7 248.4L468.2 246.4L471.7 244.4L475.2 242.5L478.7 240.5L482.2 238.6L485.7 236.8L489.1 234.9L492.6 233.1L496.1 231.3L499.6 229.6L503.1 227.8"/>
<path class="k9 n" d="M551.9 201L555.4 198.9L558.9 196.9L562.4 194.9L565.8 192.8L569.3 190.9L572.8 188.9"/>
<path class="k9 n" d="M462.7 251.2L466.2 249.2L469.7 247.2L473.2 245.2L476.7 243.3L480.1 241.4L483.6 239.5L487.1 237.6L490.6 235.8L494.1 233.9L497.6 232.1"/>
<path class="k9 n" d="M563.8 195.8L567.3 193.8L570.8 191.9L574.3 189.9"/>
<path class="k10 n" d="M464.7 226.2L468.1 224.4L471.6 222.9L475.1 221.5L478.6 220.2L482.1 219.1M517 201.6L520.4 197.7L523.9 193.5L527.4 188.9L530.9 183.9"/>
<path class="k9 n" d="M482.1 219.1L485.6 218.1L489.1 217.1L492.6 216.1L496 215.1L499.5 214L503 212.8L506.5 211.2L510 208.3L513.5 205.1L517 201.6"/>
<path class="k11 n" d="M530.9 183.9L534.4 178.7L537.9 173.4L541.4 168.1L544.8 162.8"/>
<path class="k12 n" d="M544.8 162.8L548.3 158L551.8 153.5L555.3 149.8L558.8 146.7"/>
<path class="k10 n" d="M466.1 228.7L469.6 226.8L473.1 225.2L476.6 223.7M525.4 196.8L528.9 192.9L532.4 188.7L535.8 184.4L539.3 179.9"/>
<path class="k9 n" d="M476.6 223.7L480.1 222.4L483.6 221.1L487 219.9L490.5 218.8L494 217.6L497.5 216.4L501 215.2L504.5 213.8L508 212.4L511.4 209.7L514.9 206.9L518.4 203.8L521.9 200.4L525.4 196.8"/>
<path class="k11 n" d="M539.3 179.9L542.8 175.4L546.3 171.1L549.8 167L553.3 163.2L556.8 159.9L560.2 157.1"/>
<path class="k9 n" d="M467.6 230.8L471.1 228.9L474.6 227.2L478 225.7L481.5 224.2L485 222.8L488.5 221.5L492 220.2L495.5 218.9L499 217.6L502.4 216.3L505.9 214.8L509.4 213.3L512.9 211L516.4 208.4L519.9 205.6L523.4 202.7L526.8 199.5L530.3 196.1"/>
<path class="k10 n" d="M530.3 196.1L533.8 192.6L537.3 188.9L540.8 185.1L544.3 181.4L547.8 177.7L551.2 174.2L554.7 170.9"/>
<path class="k11 n" d="M554.7 170.9L558.2 168L561.7 165.5"/>
<path class="k9 n" d="M469 232.6L472.5 230.7L476 229L479.5 227.4L483 225.8L486.5 224.4L490 223L493.4 221.5L496.9 220.1L500.4 218.7L503.9 217.2L507.4 215.7L510.9 214.2L514.4 212.1L517.8 209.7L521.3 207.1L524.8 204.5L528.3 201.7L531.8 198.7L535.3 195.6L538.8 192.4"/>
<path class="k10 n" d="M538.8 192.4L542.2 189.2L545.7 185.9L549.2 182.7L552.7 179.7L556.2 176.8L559.7 174.1L563.2 171.8"/>
<path class="k9 n" d="M470.5 234.2L474 232.3L477.5 230.6L481 228.9L484.4 227.3L487.9 225.7L491.4 224.2L494.9 222.7L498.4 221.2L501.9 219.7L505.4 218.2L508.8 216.6L512.3 214.9"/>
<path class="k9 n" d="M515.8 213L519.3 210.8L522.8 208.4L526.3 206L529.8 203.4L533.2 200.7L536.7 198L540.2 195.2L543.7 192.3L547.2 189.4"/>
<path class="k10 n" d="M547.2 189.4L550.7 186.6L554.2 183.8L557.7 181.2L561.1 178.8L564.6 176.6"/>
<path class="k9 n" d="M472 235.6L475.4 233.7L478.9 231.9L482.4 230.2L485.9 228.6L489.4 226.9L492.9 225.4L496.4 223.8L499.8 222.2L503.3 220.6L506.8 219L510.3 217.4L513.8 215.7"/>
<path class="k9 n" d="M520.8 211.7L524.2 209.5L527.7 207.2L531.2 204.8L534.7 202.4L538.2 199.9L541.7 197.3L545.2 194.7L548.7 192.1L552.1 189.5L555.6 187L559.1 184.6L562.6 182.3L566.1 180.2"/>
<path class="k9 n" d="M473.4 236.9L476.9 235L480.4 233.2L483.9 231.4L487.4 229.7L490.8 228L494.3 226.4L497.8 224.8L501.3 223.1L504.8 221.5L508.3 219.8L511.8 218.1"/>
<path class="k9 n" d="M525.7 210.4L529.2 208.2L532.7 206L536.2 203.7L539.7 201.4L543.1 199L546.6 196.6L550.1 194.2L553.6 191.8L557.1 189.5L560.6 187.2L564.1 185L567.5 183"/>
<path class="k9 n" d="M474.9 238L478.4 236.1L481.8 234.3L485.3 232.5L488.8 230.8L492.3 229L495.8 227.4L499.3 225.7L502.8 224L506.2 222.3L509.7 220.6"/>
<path class="k9 n" d="M530.7 209.1L534.1 207L537.6 204.8L541.1 202.6L544.6 200.4L548.1 198.1L551.6 195.9L555.1 193.6L558.5 191.4L562 189.2L565.5 187.1L569 185.1"/>
<path class="k9 n" d="M476.3 239L479.8 237.1L483.3 235.3L486.8 233.5L490.3 231.7L493.8 230L497.3 228.2L500.7 226.5L504.2 224.8L507.7 223.1"/>
<path class="k9 n" d="M539.1 205.8L542.6 203.7L546.1 201.5L549.5 199.4L553 197.2L556.5 195.1L560 192.9L563.5 190.8L567 188.8L570.5 186.8"/>
<path class="k9 n" d="M477.8 240L481.3 238.1L484.8 236.2L488.3 234.4L491.7 232.6L495.2 230.8L498.7 229.1L502.2 227.3"/>
<path class="k9 n" d="M547.5 202.5L551 200.4L554.5 198.3L558 196.3L561.5 194.2L564.9 192.2L568.4 190.2L571.9 188.2"/>
<path class="k9 n" d="M479.3 240.9L482.7 239L486.2 237.1L489.7 235.3L493.2 233.4L496.7 231.6L500.2 229.8"/>
<path class="k9 n" d="M555.9 199.3L559.4 197.3L562.9 195.2L566.4 193.2L569.9 191.3L573.4 189.3"/>
<path class="k9 n" d="M480.7 241.7L484.2 239.8L487.7 237.9L491.2 236.1L494.7 234.2"/>
<path class="k10 n" d="M462 147.3L462.9 133.9M474.6 129L475.6 145.1L476.5 152.9M532 174.5L533 161.2M539.8 166.5L540.7 178M553.4 175.9L554.4 170.7L555.3 165.4M562.1 167.5L563.1 171.6L564.1 174.9L565.1 177.7L566 180.1"/>
<path class="k16 n" d="M462.9 133.9L463.9 117M473.6 113L474.6 129M491.1 134.1L492.1 127.5L493.1 120.8L494 114.1L495 107.5L496 113.8L497 120.2L497.9 126.5L498.9 132.8L499.9 139.2M538.8 139.6L539.8 166.5"/>
<path class="k22 n" d="M463.9 117L464.9 100.2M472.7 97L473.6 113M533 161.2L533.9 127.1"/>
<path class="k30 n" d="M464.9 100.2L465.8 83.4L466.8 66.5L467.8 49.7L468.4 39M469.1 39.3L469.7 48.9L470.7 64.9L471.7 81L472.7 97M533.9 127.1L534.9 93.1L535.7 65.2M536.1 65.3L536.8 85.9L537.8 112.7L538.8 139.6"/>
<path class="k9 n" d="M487.2 157.1L488.2 154.1L489.2 147.4M502.8 158.2L503.8 163.6M540.7 178L541.7 178.3L542.7 178.7L543.7 179.1L544.6 179.5L545.6 179.8L546.6 180.2L547.5 180.6L548.5 181L549.5 181.4L550.5 181.7L551.4 182.1L552.4 181.2L553.4 175.9M566 180.1L567 182L568 183.7L568.9 185L569.9 186.2L570.9 187.2L571.9 188.1L572.8 188.9L573.8 189.6L574.8 190.3L575.8 190.8L576.7 191.4"/>
<path class="k11 n" d="M489.2 147.4L490.2 140.8M500.9 145.5L501.8 151.8L502.8 158.2M555.3 165.4L556.3 160.2L557.3 154.9M560.2 156.8L561.2 162.6L562.1 167.5"/>
<path class="k13 n" d="M490.2 140.8L491.1 134.1M499.9 139.2L500.9 145.5"/>
<path class="k12 n" d="M557.3 154.9L558.2 149.7L559.2 149.9L560.2 156.8"/>
<path class="k10 n" d="M453.4 153.7L454.4 138.9M467.1 149.5L468 159.4M521.5 180.3L522.5 166.9M529.3 172.2L530.3 183.7M542.9 182.6L543.9 178.2L544.9 173.8M551.7 175.9L552.6 179.5L553.6 182.4L554.6 184.9L555.6 186.9"/>
<path class="k16 n" d="M454.4 138.9L455.4 122.3M465.1 118L466.1 133.8L467.1 149.5M482.6 140.6L483.6 133.9L484.6 127.3L485.5 120.6L486.5 114L487.5 120.3L488.5 126.6L489.4 133L490.4 139.3L491.4 145.6M528.3 145.3L529.3 172.2"/>
<path class="k22 n" d="M455.4 122.3L456.4 105.8M464.1 102.3L465.1 118M522.5 166.9L523.5 132.8"/>
<path class="k30 n" d="M456.4 105.8L457.3 89.2L458.3 72.6L459.3 56L459.9 45.4M460.6 45.7L461.2 55.1L462.2 70.8L463.2 86.6L464.1 102.3M523.5 132.8L524.4 98.8L525.2 70.9M525.6 71.1L526.4 91.6L527.4 118.5L528.3 145.3"/>
<path class="k9 n" d="M478.7 163.6L479.7 160.6L480.7 153.9M494.3 164.7L495.3 170M530.3 183.7L531.3 184L532.2 184.4L533.2 184.8L534.2 185.1L535.1 185.5L536.1 185.9L537.1 186.3L538.1 186.6L539 187L540 187.4L541 187.8L541.9 187.1L542.9 182.6M555.6 186.9L556.5 188.6L557.5 190.1L558.5 191.3L559.5 192.4L560.4 193.3L561.4 194.1L562.4 194.9L563.3 195.5L564.3 196.1L565.3 196.7"/>
<path class="k11 n" d="M480.7 153.9L481.6 147.3M492.3 152L493.3 158.3L494.3 164.7M544.9 173.8L545.8 169.3L546.8 164.9L547.8 160.4L548.8 160.7L549.7 166.6L550.7 171.7L551.7 175.9"/>
<path class="k13 n" d="M481.6 147.3L482.6 140.6M491.4 145.6L492.3 152"/>
<path class="k10 n" d="M445.9 160.6L446.9 144.4M459.5 154.4L460.5 166.3M511.1 186L512 172.6M518.8 177.9L519.8 189.4M533.4 187.1L534.4 184.1L535.4 181.1L536.4 178.1M539.3 179.7L540.2 183.3L541.2 186.4L542.2 189L543.2 191.2"/>
<path class="k16 n" d="M446.9 144.4L447.8 128.1M457.6 123.5L458.5 139L459.5 154.4M517.9 151.1L518.8 177.9"/>
<path class="k22 n" d="M447.8 128.1L448.8 111.7M456.6 108.1L457.6 123.5M512 172.6L513 138.6"/>
<path class="k30 n" d="M448.8 111.7L449.8 95.3L450.8 79L451.7 62.6L452.3 52.3M453.1 52.6L453.7 61.7L454.7 77.1L455.6 92.6L456.6 108.1M513 138.6L514 104.5L514.8 76.6M515.2 76.8L515.9 97.3L516.9 124.2L517.9 151.1"/>
<path class="k9 n" d="M471.2 170.5L472.2 167.5L473.1 160.8M486.7 171.5L487.7 176.9M519.8 189.4L520.8 189.7L521.8 190L522.7 190.3L523.7 190.6L524.7 191L525.7 191.3L526.6 191.7L527.6 192.1L528.6 192.5L529.5 193L530.5 193.4L531.5 193.2L532.5 190.1L533.4 187.1M543.2 191.2L544.1 193.1L545.1 194.6L546.1 195.9L547.1 197.1L548 198.1L549 198.9L550 199.7L550.9 200.4L551.9 201L552.9 201.6"/>
<path class="k11 n" d="M473.1 160.8L474.1 154.1M484.8 158.8L485.8 165.2L486.7 171.5M536.4 178.1L537.3 175.1L538.3 175.4L539.3 179.7"/>
<path class="k14 n" d="M474.1 154.1L475.1 147.5M483.8 152.5L484.8 158.8"/>
<path class="k17 n" d="M475.1 147.5L476.1 140.8L477 134.2L478 127.5L479 120.8L479.9 127.2L480.9 133.5L481.9 139.8L482.9 146.2L483.8 152.5"/>
<path class="k10 n" d="M436.4 166.7L437.4 165.7L438.4 149.6M451 159L452 172.8M500.6 191.7L501.6 178.3M508.4 183.6L509.4 195M524 194.5L524.9 192.9L525.9 191.3L526.9 189.7L527.8 190.1L528.8 192.7L529.8 195L530.8 196.9"/>
<path class="k16 n" d="M438.4 149.6L439.3 133.4M450 143.8L451 159M507.4 156.8L508.4 183.6"/>
<path class="k22 n" d="M439.3 133.4L440.3 117.3M448.1 113.5L449.1 128.7L450 143.8M501.6 178.3L502.6 144.3"/>
<path class="k29 n" d="M440.3 117.3L441.3 101.2L442.2 85L443.2 68.9L443.8 58.8M444.6 59.1L445.2 67.9L446.1 83.1L447.1 98.3L448.1 113.5"/>
<path class="k9 n" d="M462.7 176.9L463.6 173.7L464.6 166.7M478.2 177.7L479.2 183.4M509.4 195L510.3 195.1L511.3 195.3L512.3 195.5L513.3 195.6L514.2 195.8L515.2 196L516.2 196.5L517.1 197L518.1 197.5L519.1 198L520.1 198.5L521 199L522 197.6L523 196.1L524 194.5M530.8 196.9L531.7 198.6L532.7 200L533.7 201.2L534.6 202.3L535.6 203.2L536.6 204L537.6 204.8L538.5 205.4L539.5 206L540.5 206.6"/>
<path class="k12 n" d="M464.6 166.7L465.6 159.6M476.3 164.3L477.3 171L478.2 177.7"/>
<path class="k14 n" d="M465.6 159.6L466.6 152.5M475.3 157.6L476.3 164.3"/>
<path class="k17 n" d="M466.6 152.5L467.5 145.4L468.5 138.3L469.5 131.2L470.5 124.2L471.4 130.9L472.4 137.6L473.4 144.2L474.3 150.9L475.3 157.6"/>
<path class="k30 n" d="M502.6 144.3L503.5 110.3L504.3 82.4M504.7 82.5L505.5 103.1L506.4 129.9L507.4 156.8"/>
<path class="k10 n" d="M428.9 173.6L429.8 171.1L430.8 155.2M443.5 164.1L444.4 179L445.4 180M455.1 183.8L456.1 180.1L457.1 171.8M470.7 183.8L471.7 190.3M490.1 197.5L491.1 184.1M497.9 189.4L498.9 200.4"/>
<path class="k15 n" d="M430.8 155.2L431.8 139.2M442.5 149.2L443.5 164.1M458.1 163.6L459 155.4M467.8 160.8L468.7 168.4"/>
<path class="k21 n" d="M431.8 139.2L432.8 123.3M440.5 119.3L441.5 134.2L442.5 149.2M491.1 184.1L492.1 150"/>
<path class="k29 n" d="M432.8 123.3L433.7 107.4L434.7 91.4L435.7 75.5L436.3 65.7M437.1 66L437.6 74.5L438.6 89.4L439.6 104.4L440.5 119.3M492.1 150L493.1 116L493.9 88.1M494.3 88.3L495 108.8L496 135.7L497 162.5"/>
<path class="k12 n" d="M457.1 171.8L458.1 163.6M468.7 168.4L469.7 176.1L470.7 183.8"/>
<path class="k18 n" d="M459 155.4L460 147.2L461 139L461.9 130.7L462.9 122.5L463.9 130.2L464.9 137.8L465.8 145.5L466.8 153.1L467.8 160.8"/>
<path class="k16 n" d="M497 162.5L497.9 189.4"/>
<path class="k9 n" d="M498.9 200.4L499.9 200.1L500.8 199.8L501.8 199.6L502.8 199.3L503.8 199.1L504.7 198.8L505.7 199.7L506.7 200.5L507.7 201.3L508.6 202L509.6 202.7L510.6 203.3L511.5 204L512.5 204.1L513.5 203.5L514.5 203L515.4 202.4L516.4 201.9L517.4 202.2L518.4 203.7L519.3 205L520.3 206.1L521.3 207.1L522.2 208L523.2 208.7L524.2 209.4L525.2 210.1L526.1 210.7L527.1 211.2"/>
<path class="k10 n" d="M421.3 180.4L422.3 176.5L423.3 160.8M435.9 169.2L436.9 183.9L437.9 186.9M447.6 190.7L448.6 186.2L449.5 176.4M463.2 189.5L464.1 197.1M479.7 203.2L480.7 190.6M487.5 195.7L488.4 205.3M492.3 200.7L493.3 199.6L494.3 198.5L495.3 199.9L496.2 201.4L497.2 202.7"/>
<path class="k15 n" d="M423.3 160.8L424.2 145M434.9 154.5L435.9 169.2M450.5 166.5L451.5 156.7M460.2 162.5L461.2 171.5"/>
<path class="k21 n" d="M424.2 145L425.2 129.3M433 125.2L434 139.8L434.9 154.5"/>
<path class="k28 n" d="M425.2 129.3L426.2 113.6L427.2 97.9L428.1 82.2L428.7 72.5M429.5 72.8L430.1 81.1L431.1 95.8L432 110.5L433 125.2"/>
<path class="k12 n" d="M449.5 176.4L450.5 166.5M461.2 171.5L462.2 180.5L463.2 189.5"/>
<path class="k19 n" d="M451.5 156.7L452.5 146.9L453.4 137.1L454.4 127.3L455.4 117.5L456.3 126.5L457.3 135.5L458.3 144.5L459.3 153.5L460.2 162.5"/>
<path class="k18 n" d="M480.7 190.6L481.6 158.5"/>
<path class="k24 n" d="M481.6 158.5L482.6 126.4L483.6 94.2L484.6 119.6L485.5 145L486.5 170.4"/>
<path class="k14 n" d="M486.5 170.4L487.5 195.7"/>
<path class="k9 n" d="M488.4 205.3L489.4 204.2L490.4 203L491.4 201.9L492.3 200.7M497.2 202.7L498.2 203.9L499.1 205.1L500.1 206.1L501.1 207.1L502.1 208L503 208.9L504 209.7L505 210.4L506 211.1L506.9 211.5L507.9 212.3L508.9 213L509.8 213.6L510.8 214.1L511.8 214.7L512.8 215.2L513.7 215.7L514.7 216.1"/>
<path class="k10 n" d="M412.8 186.9L413.8 181.5L414.8 166M427.4 174L428.4 188.4L429.4 193.4M439.1 197.2L440.1 191.8L441 180.2M454.6 194.7L455.6 203.6M469.2 208.9L470.2 198.4M477 203.2L478 209.8M479 207.2L479.9 204.5L480.9 201.8L481.9 199.2L482.8 196.5M484.8 196.5L485.8 198.9L486.7 201.2L487.7 203.3L488.7 205.1L489.7 206.9L490.6 208.4L491.6 209.9"/>
<path class="k15 n" d="M414.8 166L415.7 150.5M426.4 159.6L427.4 174M470.2 198.4L471.2 171.7"/>
<path class="k20 n" d="M415.7 150.5L416.7 135M424.5 130.7L425.5 145.1L426.4 159.6M443 157.1L443.9 145.5L444.9 133.9L445.9 122.3L446.9 110.8L447.8 121.3L448.8 131.8L449.8 142.3L450.8 152.7L451.7 163.2"/>
<path class="k27 n" d="M416.7 135L417.7 119.5L418.7 104L419.6 88.4L420.2 79M421 79.3L421.6 87.4L422.5 101.8L423.5 116.2L424.5 130.7"/>
<path class="k12 n" d="M441 180.2L442 168.6M452.7 173.7L453.7 184.2L454.6 194.7M476 181.9L477 203.2"/>
<path class="k16 n" d="M442 168.6L443 157.1M451.7 163.2L452.7 173.7"/>
<path class="k18 n" d="M471.2 171.7L472.1 145L473.1 118.2L474.1 139.5L475.1 160.7L476 181.9"/>
<path class="k9 n" d="M478 209.8L479 207.2M491.6 209.9L492.6 211.2L493.5 212.4L494.5 213.5L495.5 214.5L496.5 215.5L497.4 216.4L498.4 217.2L499.4 218L500.4 218.7L501.3 219.3L502.3 220L503.3 220.6L504.2 221.2L505.2 221.7L506.2 222.3L507.2 222.8L508.1 223.3L509.1 223.8"/>
<path class="k11 n" d="M482.8 196.5L483.8 194L484.8 196.5"/>
<path class="k10 n" d="M405.3 193.8L406.2 187L407.2 171.7M419.9 179.2L420.8 193.4L421.8 200.2M431.5 204L432.5 197.9L433.5 184.6M447.1 200.4L448.1 210.5M467.5 214L468.5 209.4L469.5 204.8L470.4 200.2M478.2 203.7L479.2 206.3L480.2 208.6L481.1 210.7L482.1 212.6L483.1 214.4L484.1 215.9L485 217.4"/>
<path class="k15 n" d="M407.2 171.7L408.2 156.4M418.9 165L419.9 179.2"/>
<path class="k20 n" d="M408.2 156.4L409.2 141.1M417.9 150.8L418.9 165"/>
<path class="k26 n" d="M409.2 141.1L410.1 125.7L411.1 110.4L412.1 95.1L412.7 85.9M413.5 86.2L414 94L415 108.2L416 122.4L416.9 136.6L417.9 150.8"/>
<path class="k13 n" d="M433.5 184.6L434.5 171.4M445.2 176.6L446.1 188.5L447.1 200.4"/>
<path class="k17 n" d="M434.5 171.4L435.4 158.1M444.2 164.7L445.2 176.6M460.7 185.3L461.7 164.3L462.7 143.2L463.6 160.1L464.6 177L465.6 193.8"/>
<path class="k21 n" d="M435.4 158.1L436.4 144.9L437.4 131.6L438.3 118.4L439.3 105.1L440.3 117L441.3 128.9L442.2 140.9L443.2 152.8L444.2 164.7"/>
<path class="k9 n" d="M458.8 214.6L459.7 206.4M466.6 210.7L467.5 214M485 217.4L486 218.7L487 219.9L488 221L488.9 222L489.9 222.9L490.9 223.8L491.8 224.6L492.8 225.3L493.8 226L494.8 226.7L495.7 227.3L496.7 227.9L497.7 228.5L498.7 229L499.6 229.6L500.6 230.1L501.6 230.6L502.5 231"/>
<path class="k14 n" d="M459.7 206.4L460.7 185.3"/>
<path class="k11 n" d="M465.6 193.8L466.6 210.7M470.4 200.2L471.4 195.7L472.4 191.1M474.3 190.6L475.3 194.3L476.3 197.7L477.3 200.9L478.2 203.7"/>
<path class="k12 n" d="M472.4 191.1L473.4 186.6L474.3 190.6"/>
<path class="k10 n" d="M396.8 200.3L397.7 192.1M411.4 184.1L412.3 198.1L413.3 206.7M423 210.5L424 203.7L425 189.2M438.6 206L439.6 217M457.1 218.3L458 212.1L459 205.8M469.7 209.5L470.7 212.1L471.7 214.6L472.6 216.8L473.6 218.7L474.6 220.5L475.5 222.2L476.5 223.6"/>
<path class="k15 n" d="M397.7 192.1L398.7 177L399.7 161.9M410.4 170.2L411.4 184.1M450.3 208.8L451.2 200.3L452.2 191.8L453.2 199L454.1 206.2L455.1 213.4"/>
<path class="k20 n" d="M399.7 161.9L400.7 146.8M409.4 156.2L410.4 170.2"/>
<path class="k26 n" d="M400.7 146.8L401.6 131.6L402.6 116.5L403.6 101.4L404.2 92.4M405 92.7L405.5 100.3L406.5 114.2L407.5 128.2L408.4 142.2L409.4 156.2"/>
<path class="k14 n" d="M425 189.2L425.9 174.6M436.6 179.9L437.6 192.9L438.6 206"/>
<path class="k18 n" d="M425.9 174.6L426.9 160.1M435.7 166.9L436.6 179.9"/>
<path class="k23 n" d="M426.9 160.1L427.9 145.5L428.9 130.9L429.8 116.4L430.7 102.7M430.9 102.8L431.8 114.8L432.8 127.9L433.7 140.9L434.7 153.9L435.7 166.9"/>
<path class="k9 n" d="M448.3 220.4L449.3 217.2M456.1 220.5L457.1 218.3M476.5 223.6L477.5 225L478.5 226.2L479.4 227.3L480.4 228.3L481.4 229.3L482.4 230.2L483.3 231L484.3 231.7L485.3 232.5L486.2 233.1L487.2 233.8L488.2 234.4L489.2 234.9L490.1 235.5L491.1 236L492.1 236.5L493.1 237L494 237.5"/>
<path class="k13 n" d="M449.3 217.2L450.3 208.8M461.9 187L462.9 180.9L463.9 186"/>
<path class="k11 n" d="M455.1 213.4L456.1 220.5M459 205.8L460 199.5M466.8 199.5L467.8 203.1L468.7 206.5L469.7 209.5"/>
<path class="k12 n" d="M460 199.5L461 193.2L461.9 187M463.9 186L464.8 190.9L465.8 195.4L466.8 199.5"/>
<path class="k10 n" d="M389.2 207.1L390.2 197.7M403.8 189.5L404.8 203.2L405.8 213.6M415.5 217.4L416.5 210.3L417.4 195M431 212.3L432 223.8M446.6 223.5L447.6 216.6M460.2 216.2L461.2 218.8L462.2 221.2L463.1 223.3L464.1 225.2L465.1 227L466.1 228.6L467 230"/>
<path class="k15 n" d="M390.2 197.7L391.2 182.7L392.1 167.8M402.8 175.7L403.8 189.5"/>
<path class="k20 n" d="M392.1 167.8L393.1 152.9M401.9 161.9L402.8 175.7"/>
<path class="k26 n" d="M393.1 152.9L394.1 137.9L395.1 123L396 108.1L396.6 99.2M397.5 99.5L398 106.9L398.9 120.7L399.9 134.4L400.9 148.2L401.9 161.9"/>
<path class="k14 n" d="M417.4 195L418.4 179.8M429.1 185.2L430.1 198.8L431 212.3"/>
<path class="k19 n" d="M418.4 179.8L419.4 164.6M428.1 171.6L429.1 185.2"/>
<path class="k25 n" d="M419.4 164.6L420.3 149.3L421.3 134.1L422.3 118.9L422.9 109.5M423.7 109.8L424.2 117.2L425.2 130.8L426.2 144.4L427.2 158L428.1 171.6"/>
<path class="k9 n" d="M445.6 229.1L446.6 223.5M467 230L468 231.3L469 232.5L470 233.6L470.9 234.6L471.9 235.5L472.9 236.4L473.8 237.2L474.8 238L475.8 238.7L476.8 239.3L477.7 239.9L478.7 240.5L479.7 241.1L480.7 241.7L481.6 242.2L482.6 242.7L483.6 243.2"/>
<path class="k11 n" d="M447.6 216.6L448.6 209.6L449.5 202.7M457.3 206.4L458.3 210L459.3 213.2L460.2 216.2"/>
<path class="k12 n" d="M449.5 202.7L450.5 195.7M454.4 193L455.4 197.9L456.3 202.3L457.3 206.4"/>
<path class="k13 n" d="M450.5 195.7L451.5 188.8L452.4 182.1L453.4 187.7L454.4 193"/>
<path class="k10 n" d="M381.7 214L382.7 203.2M397.2 208.4L398.2 220.5M407.9 224.2L408.9 217.1L409.9 201.8M423.5 219.2L424.5 230.7M436.2 229.7L437.1 223.3L438.1 216.9M449.8 223.3L450.7 225.8L451.7 228L452.7 230L453.7 231.8L454.6 233.4L455.6 234.9"/>
<path class="k15 n" d="M382.7 203.2L383.6 188.5L384.6 173.7M395.3 181.3L396.3 194.8L397.2 208.4M409.9 201.8L410.9 186.6M421.6 192L422.5 205.6L423.5 219.2"/>
<path class="k20 n" d="M384.6 173.7L385.6 159M394.3 167.7L395.3 181.3M410.9 186.6L411.8 171.3M420.6 178.3L421.6 192"/>
<path class="k26 n" d="M385.6 159L386.5 144.2L387.5 129.5L388.5 114.8L389.1 106.1M389.9 106.4L390.4 113.6L391.4 127.1L392.4 140.7L393.4 154.2L394.3 167.7M411.8 171.3L412.8 156L413.8 140.8L414.8 125.5L415.3 116.3M416.2 116.6L416.7 123.9L417.7 137.5L418.6 151.1L419.6 164.7L420.6 178.3"/>
<path class="k9 n" d="M434.2 234.5L435.2 234.9L436.2 229.7M455.6 234.9L456.6 236.3L457.5 237.5L458.5 238.7L459.5 239.7L460.5 240.7L461.4 241.6L462.4 242.4L463.4 243.1L464.4 243.9L465.3 244.5L466.3 245.2L467.3 245.8L468.2 246.4L469.2 246.9L470.2 247.5L471.2 248L472.1 248.5L473.1 249"/>
<path class="k11 n" d="M438.1 216.9L439.1 210.5M445.9 210.4L446.8 214.1L447.8 217.5L448.8 220.5L449.8 223.3"/>
<path class="k12 n" d="M439.1 210.5L440 204.1L441 197.7M443 196.7L443.9 201.7L444.9 206.2L445.9 210.4"/>
<path class="k13 n" d="M441 197.7L442 191.5L443 196.7"/>
<path class="k10 n" d="M373.2 220.5L374.1 208.4M388.7 213.2L389.7 226.6L390.7 227.3M399.4 230.7L400.4 223.6L401.4 208.3M415 225.7L416 237.2M425.7 236.5L426.7 231.5L427.6 226.5M437.4 227.8L438.3 230.3L439.3 232.6L440.3 234.6L441.3 236.4L442.2 238.1L443.2 239.6L444.2 241"/>
<path class="k15 n" d="M374.1 208.4L375.1 193.9M386.8 186.6L387.8 199.9L388.7 213.2M401.4 208.3L402.3 193.1M413 198.4L414 212.1L415 225.7"/>
<path class="k20 n" d="M375.1 193.9L376.1 179.3L377.1 164.8M385.8 173.2L386.8 186.6M402.3 193.1L403.3 177.8M412.1 184.8L413 198.4"/>
<path class="k26 n" d="M377.1 164.8L378 150.2L379 135.6L380 121.1L380.5 112.6M381.4 112.9L381.9 119.8L382.9 133.2L383.9 146.5L384.8 159.9L385.8 173.2M403.3 177.8L404.3 162.5L405.3 147.3L406.2 132L406.8 122.8M407.7 123.1L408.2 130.3L409.2 144L410.1 157.6L411.1 171.2L412.1 184.8"/>
<path class="k9 n" d="M422.8 239.8L423.7 240.2L424.7 240.6L425.7 236.5M444.2 241L445.1 242.3L446.1 243.4L447.1 244.5L448.1 245.5L449 246.4L450 247.2L451 248L452 248.7L452.9 249.4L453.9 250.1L454.9 250.7L455.8 251.3L456.8 251.8L457.8 252.4L458.8 252.9L459.7 253.4L460.7 253.9"/>
<path class="k11 n" d="M427.6 226.5L428.6 221.5L429.6 216.5M433.5 214.9L434.4 218.6L435.4 222L436.4 225L437.4 227.8"/>
<path class="k12 n" d="M429.6 216.5L430.6 211.5L431.5 206.7L432.5 210.9L433.5 214.9"/>
<path class="k10 n" d="M365.6 227.4L366.6 214.1M381.2 218.5L382.2 231.7L383.1 234.2M391.9 237.6L392.9 230.5L393.8 215.2M407.5 232.5L408.4 244M416.2 240.4L417.2 237.1L418.2 233.8L419.1 230.5M424 232.5L425 234.9L425.9 237.2L426.9 239.2L427.9 241L428.9 242.6L429.8 244.2L430.8 245.5"/>
<path class="k15 n" d="M366.6 214.1L367.6 199.7M379.2 192.2L380.2 205.4L381.2 218.5M393.8 215.2L394.8 199.9M405.5 205.3L406.5 218.9L407.5 232.5"/>
<path class="k20 n" d="M367.6 199.7L368.5 185.3L369.5 170.9M378.3 179.1L379.2 192.2M394.8 199.9L395.8 184.7M404.5 191.7L405.5 205.3"/>
<path class="k26 n" d="M369.5 170.9L370.5 156.5L371.5 142.1L372.4 127.7L373 119.4M373.9 119.8L374.4 126.5L375.4 139.6L376.3 152.8L377.3 165.9L378.3 179.1M395.8 184.7L396.8 169.4L397.7 154.1L398.7 138.9L399.3 129.7M400.1 130L400.6 137.2L401.6 150.8L402.6 164.4L403.6 178.1L404.5 191.7"/>
<path class="k9 n" d="M411.3 245.2L412.3 245.5L413.3 245.9L414.3 246.2L415.2 243.7L416.2 240.4M430.8 245.5L431.8 246.8L432.7 248L433.7 249L434.7 250L435.7 250.9L436.6 251.8L437.6 252.5L438.6 253.3L439.5 254L440.5 254.6L441.5 255.3L442.5 255.8L443.4 256.4L444.4 256.9L445.4 257.5L446.4 258L447.3 258.5"/>
<path class="k11 n" d="M419.1 230.5L420.1 227.2L421.1 224L422 227L423 229.9L424 232.5"/>
<path class="k10 n" d="M357.1 233.6L358.1 219.3M372.7 223.5L373.6 236.4L374.6 240.7M383.4 244.1L384.3 236.9L385.3 221.7M398.9 239L399.9 250.5M406.7 247.1L407.7 245.3L408.7 243.6L409.6 241.8L410.6 240.1L411.6 242L412.6 243.8L413.5 245.5L414.5 247.1L415.5 248.6"/>
<path class="k14 n" d="M358.1 219.3L359.1 205.1M370.7 197.6L371.7 210.5L372.7 223.5"/>
<path class="k20 n" d="M359.1 205.1L360 190.9L361 176.7M369.8 184.6L370.7 197.6M386.3 206.4L387.3 191.1M396 198.2L397 211.8"/>
<path class="k26 n" d="M361 176.7L362 162.5L363 148.3L363.9 134.1L364.5 125.9M365.4 126.3L365.9 132.8L366.8 145.7L367.8 158.7L368.8 171.6L369.8 184.6M387.3 191.1L388.2 175.9L389.2 160.6L390.2 145.3L390.8 136.2M391.6 136.5L392.1 143.7L393.1 157.3L394.1 170.9L395 184.6L396 198.2"/>
<path class="k15 n" d="M385.3 221.7L386.3 206.4M397 211.8L398 225.4L398.9 239"/>
<path class="k9 n" d="M400.9 250.9L401.9 251.3L402.8 251.5L403.8 251.7L404.8 250.7L405.7 248.9L406.7 247.1M415.5 248.6L416.4 249.9L417.4 251.1L418.4 252.2L419.4 253.3L420.3 254.2L421.3 255.1L422.3 256L423.3 256.8L424.2 257.5L425.2 258.2L426.2 258.8L427.1 259.5L428.1 260L429.1 260.6L430.1 261.2L431 261.7L432 262.2L433 262.7L434 263.1"/>
<path class="k10 n" d="M348.6 240.3L349.6 239.1L350.5 225M365.1 228.8L366.1 241.6L367.1 247.5M375.8 250.9L376.8 243.8L377.8 228.5M391.4 245.9L392.4 256.8"/>
<path class="k14 n" d="M350.5 225L351.5 211M364.2 216.1L365.1 228.8"/>
<path class="k19 n" d="M351.5 211L352.5 196.9L353.5 182.9M362.2 190.5L363.2 203.3L364.2 216.1"/>
<path class="k26 n" d="M353.5 182.9L354.4 168.8L355.4 154.8L356.4 140.8L356.9 132.8M357.8 133.1L358.3 139.5L359.3 152.2L360.3 165L361.2 177.8L362.2 190.5M379.7 198L380.7 182.7L381.7 167.5L382.6 152.2L383.2 143M384.1 143.4L384.6 150.6L385.6 164.2L386.5 177.8L387.5 191.4L388.5 205"/>
<path class="k15 n" d="M377.8 228.5L378.8 213.3M389.5 218.7L390.4 232.3L391.4 245.9"/>
<path class="k20 n" d="M378.8 213.3L379.7 198M388.5 205L389.5 218.7"/>
<path class="k9 n" d="M392.4 256.8L393.3 256.7L394.3 256.6L395.3 256.5L396.3 255.8L397.2 255.1L398.2 254.4L399.2 253.7L400.2 253.1L401.1 254.2L402.1 255.3L403.1 256.4L404 257.4L405 258.3L406 259.1L407 259.9L407.9 260.7L408.9 261.4L409.9 262.1L410.9 262.7L411.8 263.3L412.8 263.9L413.8 264.5L414.7 265L415.7 265.5L416.7 266L417.7 266.5"/>
<path class="k10 n" d="M340.1 246.8L341.1 241.7L342 228.1M356.6 230.4L357.6 242.5L358.6 254M367.3 257.4L368.3 250.3L369.3 235M382.9 252.4L383.9 260"/>
<path class="k14 n" d="M342 228.1L343 214.6M355.7 218.2L356.6 230.4"/>
<path class="k18 n" d="M343 214.6L344 201M353.7 193.9L354.7 206.1L355.7 218.2"/>
<path class="k24 n" d="M344 201L345 187.4L345.9 173.9L346.9 160.3L347.9 146.8L348.4 139.3M349.4 139.6L349.8 145.3L350.8 157.5L351.8 169.6L352.7 181.8L353.7 193.9"/>
<path class="k15 n" d="M369.3 235L370.2 219.8M380.9 225.1L381.9 238.8L382.9 252.4"/>
<path class="k20 n" d="M370.2 219.8L371.2 204.5M380 211.5L380.9 225.1"/>
<path class="k26 n" d="M371.2 204.5L372.2 189.2L373.2 174L374.1 158.7L374.7 149.5M375.6 149.8L376.1 157.1L377 170.7L378 184.3L379 197.9L380 211.5"/>
<path class="k9 n" d="M383.9 260L384.8 259.2L385.8 258.3L386.8 257.5L387.7 257.5L388.7 258.7L389.7 259.9L390.7 261L391.6 262L392.6 263L393.6 263.9L394.6 264.7L395.5 265.5L396.5 266.2L397.5 266.9L398.4 267.6L399.4 268.2L400.4 268.8L401.4 269.4L402.3 269.9L403.3 270.4L404.3 270.9L405.3 271.4L406.2 271.9"/>
<path class="k10 n" d="M332.5 253.7L333.5 242.7M350.1 241.1L351 252.4L352 261.3M359.8 264.3L360.8 257.2L361.7 241.9M375.3 256.9L376.3 254.7L377.3 254.3L378.3 256.5L379.2 258.5L380.2 260.5L381.2 262.2L382.2 263.8L383.1 265.3L384.1 266.6"/>
<path class="k13 n" d="M333.5 242.7L334.5 229.8L335.5 217M348.1 218.7L349.1 229.9L350.1 241.1"/>
<path class="k17 n" d="M335.5 217L336.4 204.2M347.1 207.4L348.1 218.7"/>
<path class="k22 n" d="M336.4 204.2L337.4 191.4L338.4 178.5L339.4 165.7L340.3 152.9L340.8 146.1M341.9 146.5L342.3 151.3L343.2 162.5L344.2 173.7L345.2 185L346.2 196.2L347.1 207.4"/>
<path class="k15 n" d="M361.7 241.9L362.7 226.6M373.4 232L374.4 245.6L375.3 256.9"/>
<path class="k20 n" d="M362.7 226.6L363.7 211.4M372.4 218.4L373.4 232"/>
<path class="k26 n" d="M363.7 211.4L364.6 196.1L365.6 180.8L366.6 165.6L367.2 156.4M368 156.7L368.5 163.9L369.5 177.5L370.5 191.2L371.5 204.8L372.4 218.4"/>
<path class="k9 n" d="M384.1 266.6L385.1 267.9L386 269L387 270.1L388 271L389 271.9L389.9 272.8L390.9 273.6L391.9 274.3L392.9 275L393.8 275.6L394.8 276.3L395.8 276.9L396.7 277.4L397.7 278L398.7 278.5L399.7 279L400.6 279.5"/>
<path class="k10 n" d="M324 260.2L325 256.5L326 244.6M343.5 251.8L344.5 261.9L345.4 268.5M352.2 271.2L353.2 264L354.2 248.8M370.7 259.8L371.7 262.3L372.7 264.7L373.6 266.8L374.6 268.7L375.6 270.4L376.6 272L377.5 273.4"/>
<path class="k13 n" d="M326 244.6L327 232.8L327.9 221M341.5 231.4L342.5 241.6L343.5 251.8"/>
<path class="k17 n" d="M327.9 221L328.9 209.1M339.6 211L340.6 221.2L341.5 231.4"/>
<path class="k21 n" d="M328.9 209.1L329.9 197.3L330.8 185.4L331.8 173.6L332.8 161.7L333.5 153.1M334.1 153.3L334.7 160.1L335.7 170.3L336.7 180.4L337.7 190.6L338.6 200.8L339.6 211"/>
<path class="k14 n" d="M354.2 248.8L355.2 233.5M365.9 238.9L366.8 246.8"/>
<path class="k20 n" d="M355.2 233.5L356.1 218.2M364.9 225.3L365.9 238.9"/>
<path class="k26 n" d="M356.1 218.2L357.1 203L358.1 187.7L359 172.4L359.6 163.2M360.5 163.6L361 170.8L362 184.4L362.9 198L363.9 211.6L364.9 225.3"/>
<path class="k11 n" d="M366.8 246.8L367.8 250.4L368.8 253.8L369.7 256.9L370.7 259.8"/>
<path class="k9 n" d="M377.5 273.4L378.5 274.7L379.5 275.9L380.4 277L381.4 278.1L382.4 279L383.4 279.9L384.3 280.7L385.3 281.4L386.3 282.1L387.3 282.8L388.2 283.4L389.2 284L390.2 284.6L391.1 285.2L392.1 285.7L393.1 286.2L394.1 286.7L395 287.2"/>
<path class="k10 n" d="M315.5 266.7L316.5 258.2L317.5 247.5M335 252.7L335.9 261.8L336.9 270.9L337.9 275.4M343.7 277.6L344.7 270.8L345.7 256.2M363.2 266.3L364.2 268.9L365.1 271.3L366.1 273.5L367.1 275.4L368 277.2L369 278.8L370 280.3"/>
<path class="k13 n" d="M317.5 247.5L318.4 236.8M333 234.6L334 243.7L335 252.7"/>
<path class="k16 n" d="M318.4 236.8L319.4 226.1L320.4 215.4M331.1 216.5L332.1 225.5L333 234.6"/>
<path class="k21 n" d="M320.4 215.4L321.4 204.8L322.3 194.1L323.3 183.4L324.3 172.7L325.2 162L326.2 171.1L327.2 180.2L328.2 189.2L329.1 198.3L330.1 207.4L331.1 216.5"/>
<path class="k14 n" d="M345.7 256.2L346.6 241.5"/>
<path class="k18 n" d="M346.6 241.5L347.6 226.8M356.4 233.7L357.3 243"/>
<path class="k24 n" d="M347.6 226.8L348.6 212.2L349.6 197.5L350.5 182.9L351.4 169.8M351.6 169.9L352.5 181.3L353.5 194.4L354.4 207.5L355.4 220.6L356.4 233.7"/>
<path class="k12 n" d="M357.3 243L358.3 247.9L359.3 252.3L360.3 256.4"/>
<path class="k11 n" d="M360.3 256.4L361.2 260L362.2 263.3L363.2 266.3"/>
<path class="k9 n" d="M370 280.3L371 281.6L371.9 282.8L372.9 283.9L373.9 284.9L374.9 285.9L375.8 286.7L376.8 287.6L377.8 288.3L378.7 289L379.7 289.7L380.7 290.3L381.7 290.9L382.6 291.5L383.6 292L384.6 292.6L385.6 293.1L386.5 293.6L387.5 294"/>
<path class="k10 n" d="M307 273.1L308 270.8L309 261.2M328.4 263.6L329.4 271.7L330.4 279.8L331.3 282.6M336.2 284.5L337.2 281.2L338.1 273.8M354.7 273.5L355.6 276.1L356.6 278.4L357.6 280.5L358.6 282.4L359.5 284.1L360.5 285.7L361.5 287.1"/>
<path class="k13 n" d="M309 261.2L309.9 251.6L310.9 241.9M326.5 247.4L327.4 255.5L328.4 263.6M338.1 273.8L339.1 266.4M346.9 238.9L347.9 244.9L348.8 250.4"/>
<path class="k16 n" d="M310.9 241.9L311.9 232.3L312.8 222.7M324.5 231.2L325.5 239.3L326.5 247.4M339.1 266.4L340.1 259"/>
<path class="k20 n" d="M312.8 222.7L313.8 213.1L314.8 203.4L315.8 193.8L316.7 184.2L317.7 174.6L318.7 182.7L319.7 190.8L320.6 198.9L321.6 206.9L322.6 215L323.5 223.1L324.5 231.2M340.1 259L341.1 251.6L342 244.2L343 236.8L344 229.4L344.9 234.8"/>
<path class="k14 n" d="M344.9 234.8L345.9 232.5L346.9 238.9"/>
<path class="k12 n" d="M348.8 250.4L349.8 255.3L350.8 259.7"/>
<path class="k11 n" d="M350.8 259.7L351.7 263.7L352.7 267.3L353.7 270.6L354.7 273.5"/>
<path class="k9 n" d="M361.5 287.1L362.4 288.4L363.4 289.6L364.4 290.6L365.4 291.6L366.3 292.5L367.3 293.4L368.3 294.2L369.3 294.9L370.2 295.6L371.2 296.3L372.2 296.9L373.1 297.5L374.1 298L375.1 298.6L376.1 299.1L377 299.6L378 300.1"/>
<path class="k10 n" d="M298.5 279.6L299.5 273.3L300.4 264.7M320.9 273.5L321.8 280.8L322.8 288L323.8 289.5M328.6 289.6L329.6 281M344.2 278.4L345.2 281.1L346.2 283.5L347.1 285.7L348.1 287.7L349.1 289.4L350 291.1L351 292.5"/>
<path class="k12 n" d="M300.4 264.7L301.4 256L302.4 247.3M318.9 259.1L319.9 266.3L320.9 273.5M331.6 263.9L332.5 255.4M338.4 254.4L339.3 259.5L340.3 264.2L341.3 268.3"/>
<path class="k15 n" d="M302.4 247.3L303.4 238.7M316 237.4L317 244.6L317.9 251.8L318.9 259.1"/>
<path class="k20 n" d="M303.4 238.7L304.3 230L305.3 221.4L306.3 212.7L307.2 204L308.2 195.4L309.2 186.7L310.2 194L311.1 201.2L312.1 208.4L313.1 215.7L314.1 222.9L315 230.1L316 237.4"/>
<path class="k9 n" d="M327.7 291L328.6 289.6M351 292.5L352 293.8L353 295.1L353.9 296.2L354.9 297.2L355.9 298.1L356.9 299L357.8 299.8L358.8 300.5L359.8 301.3L360.7 301.9L361.7 302.6L362.7 303.1L363.7 303.7L364.6 304.3L365.6 304.8L366.6 305.3L367.6 305.8L368.5 306.3"/>
<path class="k11 n" d="M329.6 281L330.6 272.5L331.6 263.9M341.3 268.3L342.3 272L343.2 275.4L344.2 278.4"/>
<path class="k13 n" d="M332.5 255.4L333.5 246.8M336.4 242.5L337.4 248.7L338.4 254.4"/>
<path class="k14 n" d="M333.5 246.8L334.5 238.3L335.5 235.8L336.4 242.5"/>
<path class="k10 n" d="M290 286.1L291 284.8L291.9 277L292.9 269.2M314.3 283.4L315.3 289.8L316.2 296.3L317.2 296.7M318.2 295.5L319.2 287.6L320.1 279.8M333.7 285.6L334.7 288.1L335.7 290.4L336.7 292.5L337.6 294.3L338.6 296L339.6 297.5"/>
<path class="k12 n" d="M292.9 269.2L293.9 261.5M311.4 264L312.4 270.4L313.3 276.9L314.3 283.4M321.1 271.9L322.1 264.1M327.9 263.3L328.9 268.1L329.9 272.4"/>
<path class="k15 n" d="M293.9 261.5L294.8 253.7L295.8 245.9M309.4 251L310.4 257.5L311.4 264"/>
<path class="k19 n" d="M295.8 245.9L296.8 238.1L297.8 230.4L298.7 222.6L299.7 214.8L300.7 207L301.7 199.3L302.6 205.7L303.6 212.2L304.6 218.7L305.5 225.1L306.5 231.6L307.5 238.1L308.5 244.5L309.4 251"/>
<path class="k9 n" d="M317.2 296.7L318.2 295.5M339.6 297.5L340.6 298.8L341.5 300.1L342.5 301.2L343.5 302.3L344.4 303.3L345.4 304.1L346.4 305L347.4 305.8L348.3 306.5L349.3 307.2L350.3 307.8L351.3 308.4L352.2 309L353.2 309.6L354.2 310.1L355.1 310.6L356.1 311.1L357.1 311.6"/>
<path class="k11 n" d="M320.1 279.8L321.1 271.9M329.9 272.4L330.8 276.3L331.8 279.7L332.8 282.8L333.7 285.6"/>
<path class="k13 n" d="M322.1 264.1L323.1 256.2L324 248.4M326 252.3L326.9 258.1L327.9 263.3"/>
<path class="k14 n" d="M324 248.4L325 246.1L326 252.3"/>
<path class="k10 n" d="M281.5 292.6L282.4 287.8L283.4 280.8M305.8 286.7L306.8 292.4L307.7 298.2L308.7 295L309.7 288.6M321.3 289.3L322.3 292L323.3 294.4L324.3 296.5L325.2 298.5L326.2 300.2L327.2 301.8L328.2 303.2"/>
<path class="k12 n" d="M283.4 280.8L284.4 273.9L285.4 266.9M303.8 275.1L304.8 280.9L305.8 286.7M311.6 275.7L312.6 269.3M315.5 266.3L316.5 271.1L317.5 275.5L318.4 279.5"/>
<path class="k15 n" d="M285.4 266.9L286.3 260L287.3 253.1M300.9 257.7L301.9 263.5L302.9 269.3L303.8 275.1"/>
<path class="k19 n" d="M287.3 253.1L288.3 246.1L289.2 239.2L290.2 232.2L291.2 225.3L292.2 218.4L293.1 211.4L294.1 217.2L295.1 223L296.1 228.8L297 234.6L298 240.3L299 246.1L299.9 251.9L300.9 257.7"/>
<path class="k11 n" d="M309.7 288.6L310.6 282.2L311.6 275.7M318.4 279.5L319.4 283.1L320.4 286.4L321.3 289.3"/>
<path class="k13 n" d="M312.6 269.3L313.6 262.8L314.5 261L315.5 266.3"/>
<path class="k9 n" d="M328.2 303.2L329.1 304.6L330.1 305.8L331.1 306.9L332 307.9L333 308.8L334 309.7L335 310.5L335.9 311.2L336.9 311.9L337.9 312.6L338.9 313.2L339.8 313.8L340.8 314.4L341.8 315L342.7 315.5L343.7 316L344.7 316.5L345.7 317"/>
<path class="k10 n" d="M273 299.1L273.9 297.4L274.9 291.2L275.9 285.1M299.2 296.4L300.2 293.4M308.9 295L309.9 297.6L310.9 299.9L311.9 301.9L312.8 303.8L313.8 305.5L314.8 307L315.8 308.4"/>
<path class="k12 n" d="M275.9 285.1L276.8 279L277.8 272.9M296.3 280.9L297.3 286L298.2 291.2L299.2 296.4M302.1 284L303.1 279.3L304.1 278.1L305.1 282.1"/>
<path class="k15 n" d="M277.8 272.9L278.8 266.8L279.8 260.7M294.4 270.5L295.3 275.7L296.3 280.9"/>
<path class="k18 n" d="M279.8 260.7L280.7 254.5L281.7 248.4L282.7 242.3L283.7 236.2L284.6 230.1L285.6 223.9L286.6 229.1L287.5 234.3L288.5 239.5L289.5 244.6L290.5 249.8L291.4 255L292.4 260.2L293.4 265.3L294.4 270.5"/>
<path class="k11 n" d="M300.2 293.4L301.2 288.7L302.1 284M305.1 282.1L306 285.8L307 289.2L308 292.2L308.9 295"/>
<path class="k9 n" d="M315.8 308.4L316.7 309.7L317.7 310.9L318.7 312L319.6 313L320.6 313.9L321.6 314.7L322.6 315.5L323.5 316.3L324.5 317L325.5 317.6L326.4 318.3L327.4 318.8L328.4 319.4L329.4 320L330.3 320.5L331.3 321L332.3 321.5"/>
<path class="k9 n" d="M265.4 305.9L266.4 301L267.4 295.6M302.4 313.1L303.3 314.4L304.3 315.5L305.3 316.6L306.3 317.6L307.2 318.5L308.2 319.3L309.2 320.1L310.2 320.9L311.1 321.6L312.1 322.2L313.1 322.8L314 323.4L315 324L316 324.5L317 325.1L317.9 325.6L318.9 326L319.9 326.5"/>
<path class="k12 n" d="M267.4 295.6L268.3 290.2L269.3 284.8M289.7 291.9L290.7 296.5L291.7 298.5"/>
<path class="k14 n" d="M269.3 284.8L270.3 279.5L271.2 274.1M286.8 278.1L287.8 282.7L288.8 287.3L289.7 291.9"/>
<path class="k18 n" d="M271.2 274.1L272.2 268.7L273.2 263.3L274.2 258L275.1 252.6L276.1 247.2L277.1 241.8L278.1 236.5L279 241.1L280 245.7L281 250.3L281.9 255L282.9 259.6L283.9 264.2L284.9 268.8L285.8 273.4L286.8 278.1"/>
<path class="k11 n" d="M291.7 298.5L292.6 295.4L293.6 294.7L294.6 297.5L295.6 300.1"/>
<path class="k10 n" d="M295.6 300.1L296.5 302.5L297.5 304.7L298.5 306.7L299.5 308.5L300.4 310.2L301.4 311.7L302.4 313.1"/>
<path class="k9 n" d="M255.9 312.1L256.9 309.7L257.9 305L258.8 300.3M288 317.3L289 318.5L290 319.7L290.9 320.7L291.9 321.7L292.9 322.6L293.9 323.5L294.8 324.3L295.8 325L296.8 325.7L297.8 326.4L298.7 327L299.7 327.6L300.7 328.2L301.6 328.7L302.6 329.2L303.6 329.7L304.6 330.2L305.5 330.7"/>
<path class="k12 n" d="M258.8 300.3L259.8 295.6L260.8 290.9M281.2 298L282.2 302.2L283.2 306.3L284.1 310.4"/>
<path class="k14 n" d="M260.8 290.9L261.8 286.2L262.7 281.5M278.3 285.7L279.3 289.8L280.2 293.9L281.2 298"/>
<path class="k17 n" d="M262.7 281.5L263.7 276.8L264.7 272.1L265.7 267.4L266.6 262.7L267.6 258L268.6 253.3L269.5 248.6L270.5 252.7L271.5 256.9L272.5 261L273.4 265.1L274.4 269.2L275.4 273.3L276.4 277.5L277.3 281.6L278.3 285.7"/>
<path class="k10 n" d="M284.1 310.4L285.1 312.8L286.1 314.4L287.1 315.9L288 317.3"/>
<path class="k9 n" d="M248.4 318.2L249.4 314.2L250.3 310.1M277.6 319.7L278.5 323.4L279.5 327L280.5 328.7L281.5 329.4L282.4 330.1L283.4 330.7L284.4 331.3L285.3 331.9L286.3 332.5L287.3 333L288.3 333.5L289.2 334L290.2 334.5"/>
<path class="k11 n" d="M250.3 310.1L251.3 306L252.3 301.9M274.6 308.7L275.6 312.4L276.6 316L277.6 319.7"/>
<path class="k14 n" d="M252.3 301.9L253.2 297.9L254.2 293.8L255.2 289.7M271.7 297.7L272.7 301.4L273.7 305.1L274.6 308.7"/>
<path class="k17 n" d="M255.2 289.7L256.2 285.6L257.1 281.5L258.1 277.5L259.1 273.4L260.1 269.3L261 265.2L262 261.2L263 264.8L263.9 268.5L264.9 272.1L265.9 275.8L266.9 279.5L267.8 283.1L268.8 286.8L269.8 290.4L270.8 294.1L271.7 297.7"/>
<path class="k9 n" d="M238.9 325L239.9 322.4L240.8 318.9L241.8 315.4M270 328.4L271 331.6L272 334.8L272.9 337.4L273.9 337.9L274.9 338.4"/>
<path class="k11 n" d="M241.8 315.4L242.8 311.9L243.8 308.4M266.1 315.4L267.1 318.7L268.1 321.9L269.1 325.1L270 328.4"/>
<path class="k13 n" d="M243.8 308.4L244.7 304.9L245.7 301.4M263.2 305.7L264.2 308.9L265.2 312.2L266.1 315.4"/>
<path class="k16 n" d="M245.7 301.4L246.7 297.9L247.7 294.4L248.6 290.9L249.6 287.3L250.6 283.8L251.5 280.3L252.5 276.8L253.5 273.3L254.5 276.6L255.4 279.8L256.4 283L257.4 286.3L258.4 289.5L259.3 292.7L260.3 296L261.3 299.2L262.2 302.5L263.2 305.7"/>
<path class="k9 n" d="M230.4 331.5L231.4 330.6L232.3 327.7L233.3 324.7M262.5 334.3L263.5 337.2L264.4 340L265.4 342.9L266.4 345.3"/>
<path class="k11 n" d="M233.3 324.7L234.3 321.7L235.3 318.7L236.2 315.7M259.6 325.8L260.5 328.6L261.5 331.5L262.5 334.3"/>
<path class="k13 n" d="M236.2 315.7L237.2 312.7L238.2 309.7M256.6 317.2L257.6 320.1L258.6 322.9L259.6 325.8"/>
<path class="k16 n" d="M238.2 309.7L239.1 306.7L240.1 303.8L241.1 300.8L242.1 297.8L243 294.8L244 291.8L245 288.8L245.9 285.8L246.9 288.7L247.9 291.5L248.9 294.4L249.8 297.3L250.8 300.1L251.8 303L252.8 305.8L253.7 308.7L254.7 311.5L255.7 314.4L256.6 317.2"/>
<path class="k9 n" d="M222.8 338.4L223.8 335.9L224.8 333.4L225.8 330.9M255.9 343.3L256.9 345.8L257.9 348.3L258.8 350.8L259.8 352.7"/>
<path class="k11 n" d="M225.8 330.9L226.7 328.4L227.7 325.9M252 333.3L253 335.8L254 338.3L254.9 340.8L255.9 343.3"/>
<path class="k13 n" d="M227.7 325.9L228.7 323.4L229.7 320.9L230.6 318.4M249.1 325.8L250.1 328.3L251.1 330.8L252 333.3"/>
<path class="k16 n" d="M230.6 318.4L231.6 315.9L232.6 313.4L233.5 310.9L234.5 308.4L235.5 305.9L236.5 303.4L237.4 300.9L238.4 298.4L239.4 300.9L240.4 303.4L241.3 305.9L242.3 308.4L243.3 310.9L244.2 313.4L245.2 315.8L246.2 318.3L247.2 320.8L248.1 323.3L249.1 325.8"/>
<path class="fz1" d="M326.5 159L328.5 155M330.1 156L332.2 151.7M333.6 153.1L335.8 148.7M337.2 150.1L339.5 145.3M340.7 147.1L343.3 141.8M344.3 144.1L347 138.6M347.9 141.2L350.5 135.9M351.4 138.2L354.2 132.6M355 135.2L357.8 129.5M358.5 132.3L361.6 126M362.1 129.3L365.1 123.1M365.6 126.3L369 119.5M369.2 123.4L372.8 116.1M372.8 120.4L376.3 113.3M376.3 117.4L380.2 109.6M379.9 114.4L383.8 106.5M383.4 111.5L387.2 103.9M387 108.5L391.2 100.1M390.6 105.5L394.7 97.2M394.1 102.6L398.5 93.8M397.7 99.6L402.1 90.7M401.2 96.6L406 87M404.8 93.6L409.5 84.1M408.4 90.7L413 81.2M411.9 87.7L417 77.5M415.5 84.7L420.8 73.9M419 81.8L424.2 71.4M422.6 78.8L427.8 68.3M426.1 75.8L431.6 64.8M429.7 72.9L435.7 60.7M433.3 69.9L439.4 57.3M436.8 66.9L442.9 54.6M440.4 63.9L446.8 51M443.9 61L450.4 47.8M447.5 58L453.7 45.5"/>
<path class="fz2" d="M328.5 155L330.1 151.9M332.2 151.7L334 148.1M335.8 148.7L337.4 145.5M339.5 145.3L341.4 141.6M343.3 141.8L345.8 137.1M347 138.6L349.6 133.5M350.5 135.9L352.3 132.3M354.2 132.6L356.2 128.6M357.8 129.5L359.7 125.7M361.6 126L364.2 121M365.1 123.1L367.2 119M369 119.5L371.8 114M372.8 116.1L376 109.8M376.3 113.3L379.1 107.8M380.2 109.6L383.7 102.7M383.8 106.5L387.3 99.5M387.2 103.9L389.8 98.7M391.2 100.1L394.9 92.7M394.7 97.2L398 90.7M398.5 93.8L402.2 86.5M402.1 90.7L405.6 83.7M406 87L410.5 78.1M409.5 84.1L413.6 76M413 81.2L416.6 74.1M417 77.5L421.5 68.4M420.8 73.9L426.1 63.5M424.2 71.4L428.4 63M427.8 68.3L432 60.1M431.6 64.8L436.3 55.6M435.7 60.7L441.9 48.4M439.4 57.3L445.9 44.6M442.9 54.6L448.7 43.2M446.8 51L453.3 38.1M450.4 47.8L457 34.9M453.7 45.5L459 34.9"/>
</g>
<path class="zax" d="M116.4 442.8L116.4 193.8"/>
<path class="ax" d="M116.4 442.8L530.3 602.6M530.3 602.6L876.9 412.4M116.4 442.8L106.3 448.3M530.3 602.6L541 606.7M219.9 482.8L209.8 488.3M616.9 555.1L627.7 559.2M323.4 522.7L313.3 528.2M703.6 507.5L714.3 511.6M426.8 562.6L416.7 568.2M790.2 460L801 464.1M530.3 602.6L520.2 608.1M876.9 412.4L887.6 416.5M116.4 442.8L105.7 438.7M116.4 393L105.7 388.9M116.4 343.2L105.7 339.1M116.4 293.4L105.7 289.3M116.4 243.6L105.7 239.5M116.4 193.8L105.7 189.7"/>
<text class="tag" x="20.5" y="43.6" letter-spacing="1.2">(a)</text>
<text class="tk" text-anchor="end" x="98.2" y="443.4">0</text>
<text class="tk" text-anchor="end" x="98.2" y="393.6">0.02</text>
<text class="tk" text-anchor="end" x="98.2" y="343.8">0.04</text>
<text class="tk" text-anchor="end" x="98.2" y="294">0.06</text>
<text class="tk" text-anchor="end" x="98.2" y="244.2">0.08</text>
<text class="tk" text-anchor="end" x="98.2" y="194.4">0.1</text>
<text class="tk" text-anchor="middle" x="92.5" y="475">0</text>
<text class="tk" text-anchor="middle" x="196" y="515">1</text>
<text class="tk" text-anchor="middle" x="299.5" y="554.9">2</text>
<text class="tk" text-anchor="middle" x="402.9" y="594.9">3</text>
<text class="tk" text-anchor="middle" x="506.4" y="634.8">4</text>
<text class="tk" x="548.9" y="631.3">0</text>
<text class="tk" x="635.5" y="583.8">500</text>
<text class="tk" x="722.2" y="536.2">1000</text>
<text class="tk" x="808.9" y="488.7">1500</text>
<text class="tk" x="895.5" y="441.1">2000</text>
<text class="tk" x="86" y="573.6"><tspan class="tm" dy="1.5">×</tspan><tspan dx="3" dy="-1.5">10</tspan><tspan class="sup" dy="-8">4</tspan></text>
<text class="lb" x="180" y="655.6">space(x/10<tspan class="sup2" dy="-9.5">2</tspan><tspan dy="9.5">m)</tspan></text>
<text class="lb" x="715.6" y="622.4">time(t/min)</text>
<text class="lb" text-anchor="middle" transform="translate(31.5 288) rotate(-90)">density(veh/m)</text>
<path class="grid" d="M1201.3 482.8L1547.9 292.6M1184.5 395.2L1598.3 555.1M1304.8 522.7L1651.3 332.5M1271.1 347.7L1685 507.5M1408.2 562.6L1754.8 372.4M1357.8 300.2L1771.7 460M1097.8 393L1444.4 202.8M1444.4 202.8L1858.3 362.6M1097.8 343.2L1444.4 153M1444.4 153L1858.3 312.8M1097.8 293.4L1444.4 103.2M1444.4 103.2L1858.3 263M1097.8 243.6L1444.4 53.4M1444.4 53.4L1858.3 213.2M1097.8 442.8L1444.4 252.6M1444.4 252.6L1858.3 412.4M1097.8 193.8L1444.4 3.6M1444.4 3.6L1858.3 163.4"/>
<path class="grid gv" d="M1184.5 395.2L1184.5 146.2M1547.9 292.6L1547.9 43.6M1271.1 347.7L1271.1 98.7M1651.3 332.5L1651.3 83.5M1357.8 300.2L1357.8 51.2M1754.8 372.4L1754.8 123.4M1444.4 252.6L1444.4 3.6M1858.3 412.4L1858.3 163.4"/>
<path class="sheet" fill-rule="evenodd" d="M1109.9 301.6L1440.6 430.5L1622.6 330.7L1625.6 329L1628.6 327.3L1631.7 325.6L1634.7 323.9L1637.7 322.2L1640.8 320.5L1643.8 318.8L1646.8 317.1L1649.9 315.3L1652.9 313.6L1655.9 311.8L1659 310L1662 308.2L1665 306.4L1668.1 304.5L1671.1 302.6L1674.1 300.7L1677.2 298.7L1680.2 296.7L1683.2 294.6L1686.3 292.4L1689.3 290.2L1692.3 287.8L1695.4 285.4L1698.4 282.8L1701.4 280L1704.5 277.1L1707.5 274L1710.5 270.6L1713.6 266.9L1716.6 262.9L1719.6 258.5L1722.7 253.6L1725.7 248.2L1728.7 242.2L1731.8 235.5L1734.8 227.9L1737.8 219.4L1740.9 209.7L1743.9 198.7L1742.2 201.8L1740.6 205L1738.9 208.2L1737.3 211.4L1735.6 214.6L1734 217.7L1732.3 220.9L1730.7 224.1L1729 227.3L1727.4 230.4L1725.7 233.6L1724.1 236.8L1722.4 240L1720.8 243.1L1719.1 246.3L1717.4 249.5L1715.8 252.7L1714.1 252.8L1712.5 252.2L1710.8 251.5L1709.2 250.9L1707.5 250.2L1705.9 249.6L1704.2 248.9L1702.6 248.3L1700.9 247.6L1699.3 247L1697.6 246.4L1695.9 245.7L1694.3 245.1L1413.2 135.5zM1218.2 343.8L1222.9 338.5L1227.5 333.2L1232.2 327.9L1236.9 322.7L1241.5 317.4L1246.2 312.1L1250.9 306.8L1255.5 301.5L1259.2 295.8L1263.9 290.5L1269.5 285.6L1274.2 280.3L1277.9 274.7L1282.5 269.4L1287.2 264.1L1292.8 259.2L1296.5 253.5L1301.2 248.2L1305.9 242.9L1310.5 237.6L1315.2 232.4L1319.9 227.1L1324.5 221.8L1329.2 216.5L1333.9 211.2L1339.5 206.3L1344.2 201L1348.8 195.7L1353.5 190.4L1358.2 185.1L1363.8 180.2L1368.5 174.9L1373.1 169.6L1376.8 164L1381.5 158.7L1387.1 153.8L1391.8 148.5L1399.4 144.3L1406.9 140.2L1414.5 136L1502 170.1L1494.4 174.3L1484.9 177.7L1466.6 177.6L1460 182.2L1453.4 186.7L1446.8 191.2L1441.2 196.2L1434.6 200.7L1427.9 205.2L1421.3 209.8L1414.7 214.3L1408.1 218.8L1401.5 223.3L1394.9 227.9L1388.3 232.4L1382.6 237.3L1376 241.9L1369.4 246.4L1362.8 250.9L1356.2 255.4L1349.6 260L1343 264.5L1336.4 269L1329.8 273.6L1324.1 278.5L1317.5 283L1310.9 287.5L1304.3 292.1L1297.7 296.6L1291.1 301.1L1284.5 305.7L1277.9 310.2L1271.3 314.7L1265.6 319.6L1259 324.2L1251.4 328.3L1240.9 331.3L1235.3 336.3L1228.7 340.8L1222.1 345.3z"/>
<g class="m">
<path class="w" d="M1405.6 91.1L1406.6 85.2L1407.6 79.4L1408.5 73.6L1409.5 79.8L1410.5 86L1411.5 92.3L1412.4 98.5L1413.4 104.7L1414.4 110.9L1415.3 117.1L1416.3 123.4L1417.3 129.6L1418.3 135.8L1419.2 142L1420.2 145.3L1421.2 145.7L1422.2 146.1L1423.1 146.5L1424.1 146.9L1425.1 147.2L1426 147.6L1427 148L1428 148.4L1429 148.8L1429.9 149.1L1430.9 149.5L1431.9 149.9L1432.9 150.3L1433.8 150.6L1434.8 151L1435.8 151.4L1436.7 151.8L1437.7 152.2L1438.7 152.5L1439.7 151.3L1440.6 137.9L1441.6 124.5L1442.6 111.1L1443.6 97.7L1444.5 84.3L1445.5 70.9L1446.5 57.5L1447.4 45.1L1448.4 56.3L1449.4 68.5L1450.4 80.7L1451.3 92.9L1452.3 105.1L1453.3 117.2L1454.2 129.4L1455.2 141.6L1456.2 153.8L1457.2 159.7L1458.1 160.1L1459.1 160.5L1460.1 160.9L1461.1 161.3L1462 161.6L1463 162L1464 162.4L1464.9 162.1L1465.9 156.5L1466.9 150.9L1467.9 145.3L1468.8 139.7L1469.8 134.1L1470.8 128.5L1471.8 122.9L1472.7 117.3L1473.7 123.2L1474.7 129.1L1475.6 135L1476.6 140.9L1477.6 146.8L1478.6 150.4L1479.5 155.2L1480.5 159L1481.5 162L1482.5 164.3L1483.4 166.1L1484.4 167.5L1485.4 168.7L1486.3 169.1L1487.3 166.7L1488.3 164.3L1489.3 161.9L1490.2 159.5L1491.2 157.1L1492.2 154.7L1493.2 158.4L1494.1 162.1L1495.1 165.2L1496.1 167.7L1497 169.7L1504.6 164.9L1503.7 162.6L1502.7 159.9L1501.7 156.5L1500.7 152.5L1499.8 148.3L1498.8 151.1L1497.8 153.8L1496.8 156.5L1495.9 159.3L1494.9 162L1493.9 164.7L1493 165.2L1492 164.2L1491 163.1L1490 161.7L1489.1 160L1488.1 157.7L1487.1 154.8L1486.1 151.1L1485.2 146.4L1484.2 142.1L1483.2 136.2L1482.3 130.3L1481.3 124.5L1480.3 118.6L1479.3 112.7L1478.4 118.3L1477.4 123.9L1476.4 129.4L1475.4 135L1474.5 140.6L1473.5 146.2L1472.5 151.7L1471.6 157.3L1470.6 157.9L1469.6 157.5L1468.6 157.1L1467.7 156.7L1466.7 156.4L1465.7 156L1464.8 155.6L1463.8 155.2L1462.8 154.8L1461.8 148.3L1460.9 136.2L1459.9 124L1458.9 111.9L1457.9 99.7L1457 87.6L1456 75.4L1455 63.3L1454.1 51.1L1453.1 40.2L1452.1 52.3L1451.1 65.7L1450.2 79.1L1449.2 92.4L1448.2 105.8L1447.2 119.1L1446.3 132.5L1445.3 145.8L1444.3 147.6L1443.4 147.3L1442.4 146.9L1441.4 146.5L1440.4 146.1L1439.5 145.7L1438.5 145.4L1437.5 145L1436.5 144.6L1435.6 144.2L1434.6 143.8L1433.6 143.5L1432.7 143.1L1431.7 142.7L1430.7 142.3L1429.7 141.9L1428.8 141.6L1427.8 141.2L1426.8 140.8L1425.8 140.4L1424.9 140L1423.9 136.4L1422.9 130.1L1422 123.7L1421 117.4L1420 111.1L1419 104.8L1418.1 98.5L1417.1 92.2L1416.1 85.9L1415.1 79.6L1414.2 73.3L1413.2 67z"/>
<path class="w" d="M1398 114.6L1399 108.9L1400 103.1L1401 97.4L1401.9 91.6L1402.9 85.9L1403.9 80.2L1404.8 86.3L1405.8 92.4L1406.8 98.6L1407.8 104.7L1408.7 110.9L1409.7 117L1410.7 123.1L1411.7 129.3L1412.6 135.4L1413.6 141.6L1414.6 147.7L1415.5 150.6L1416.5 151L1417.5 151.4L1418.5 151.8L1419.4 152.1L1420.4 152.5L1421.4 152.9L1422.4 153.3L1423.3 153.7L1424.3 154L1425.3 154.4L1426.2 154.8L1427.2 155.2L1428.2 155.6L1429.2 155.9L1430.1 156.3L1431.1 156.7L1432.1 157.1L1433.1 157.5L1434 156.8L1435 143.4L1436 130L1436.9 116.7L1437.9 103.3L1438.9 89.9L1439.9 76.6L1440.8 63.2L1441.8 50.1L1442.8 62L1443.7 74.1L1444.7 86.3L1445.7 98.5L1446.7 110.6L1447.6 122.8L1448.6 134.9L1449.6 147.1L1450.6 159.3L1451.5 164.7L1452.5 165L1453.5 165.4L1454.4 165.8L1455.4 166.2L1456.4 166.6L1457.4 166.9L1458.3 166.8L1459.3 161.2L1460.3 155.6L1461.3 149.9L1462.2 144.3L1463.2 138.7L1464.2 133.1L1465.1 127.4L1466.1 121.8L1467.1 127.7L1468.1 133.6L1469 139.6L1470 145.5L1471 151.4L1472 154.4L1472.9 159.3L1473.9 163.2L1474.9 166.3L1475.8 168.6L1476.8 170.5L1477.8 172L1478.8 173.1L1479.7 172.2L1480.7 170.6L1481.7 169L1482.7 167.4L1483.6 165.8L1484.6 164.1L1485.6 166.9L1486.5 169.7L1487.5 172L1495.1 165.2L1494.1 162.1L1493.2 158.4L1492.2 154.7L1491.2 157.1L1490.2 159.5L1489.3 161.9L1488.3 164.3L1487.3 166.7L1486.3 169.1L1485.4 168.7L1484.4 167.5L1483.4 166.1L1482.5 164.3L1481.5 162L1480.5 159L1479.5 155.2L1478.6 150.4L1477.6 146.8L1476.6 140.9L1475.6 135L1474.7 129.1L1473.7 123.2L1472.7 117.3L1471.8 122.9L1470.8 128.5L1469.8 134.1L1468.8 139.7L1467.9 145.3L1466.9 150.9L1465.9 156.5L1464.9 162.1L1464 162.4L1463 162L1462 161.6L1461.1 161.3L1460.1 160.9L1459.1 160.5L1458.1 160.1L1457.2 159.7L1456.2 153.8L1455.2 141.6L1454.2 129.4L1453.3 117.2L1452.3 105.1L1451.3 92.9L1450.4 80.7L1449.4 68.5L1448.4 56.3L1447.4 45.1L1446.5 57.5L1445.5 70.9L1444.5 84.3L1443.6 97.7L1442.6 111.1L1441.6 124.5L1440.6 137.9L1439.7 151.3L1438.7 152.5L1437.7 152.2L1436.7 151.8L1435.8 151.4L1434.8 151L1433.8 150.6L1432.9 150.3L1431.9 149.9L1430.9 149.5L1429.9 149.1L1429 148.8L1428 148.4L1427 148L1426 147.6L1425.1 147.2L1424.1 146.9L1423.1 146.5L1422.2 146.1L1421.2 145.7L1420.2 145.3L1419.2 142L1418.3 135.8L1417.3 129.6L1416.3 123.4L1415.3 117.1L1414.4 110.9L1413.4 104.7L1412.4 98.5L1411.5 92.3L1410.5 86L1409.5 79.8L1408.5 73.6L1407.6 79.4L1406.6 85.2L1405.6 91.1z"/>
<path class="w" d="M1390.5 137.6L1391.4 131.9L1392.4 126.3L1393.4 120.6L1394.3 115L1395.3 109.3L1396.3 103.7L1397.3 98L1398.2 92.4L1399.2 86.7L1400.2 92.8L1401.2 98.8L1402.1 104.9L1403.1 111L1404.1 117L1405 123.1L1406 129.1L1407 135.2L1408 141.2L1408.9 147.3L1409.9 153.3L1410.9 155.9L1411.9 156.3L1412.8 156.7L1413.8 157.1L1414.8 157.4L1415.7 157.8L1416.7 158.2L1417.7 158.6L1418.7 159L1419.6 159.3L1420.6 159.7L1421.6 160.1L1422.5 160.5L1423.5 160.8L1424.5 161.2L1425.5 161.6L1426.4 162L1427.4 162.4L1428.4 162.2L1429.4 148.9L1430.3 135.7L1431.3 122.4L1432.3 109.1L1433.2 95.8L1434.2 82.5L1435.2 69.2L1436.2 55.9L1437.1 68L1438.1 80.1L1439.1 92.2L1440.1 104.3L1441 116.4L1442 128.5L1443 140.6L1443.9 152.7L1444.9 164.8L1445.9 169.6L1446.9 169.9L1447.8 170.3L1448.8 170.7L1449.8 171.1L1450.8 171.5L1451.7 171.6L1452.7 166L1453.7 160.3L1454.6 154.6L1455.6 149L1456.6 143.3L1457.6 137.6L1458.5 132L1459.5 126.3L1460.5 132.3L1461.5 138.2L1462.4 144.2L1463.4 150.1L1464.4 156.1L1465.3 158.3L1466.3 163.3L1467.3 167.4L1468.3 170.5L1469.2 173L1470.2 174.9L1471.2 176.4L1472.2 177.6L1473.1 177.1L1474.1 176.3L1475.1 175.5L1476 174.8L1477 174L1478 175.8L1485.6 166.9L1484.6 164.1L1483.6 165.8L1482.7 167.4L1481.7 169L1480.7 170.6L1479.7 172.2L1478.8 173.1L1477.8 172L1476.8 170.5L1475.8 168.6L1474.9 166.3L1473.9 163.2L1472.9 159.3L1472 154.4L1471 151.4L1470 145.5L1469 139.6L1468.1 133.6L1467.1 127.7L1466.1 121.8L1465.1 127.4L1464.2 133.1L1463.2 138.7L1462.2 144.3L1461.3 149.9L1460.3 155.6L1459.3 161.2L1458.3 166.8L1457.4 166.9L1456.4 166.6L1455.4 166.2L1454.4 165.8L1453.5 165.4L1452.5 165L1451.5 164.7L1450.6 159.3L1449.6 147.1L1448.6 134.9L1447.6 122.8L1446.7 110.6L1445.7 98.5L1444.7 86.3L1443.7 74.1L1442.8 62L1441.8 50.1L1440.8 63.2L1439.9 76.6L1438.9 89.9L1437.9 103.3L1436.9 116.7L1436 130L1435 143.4L1434 156.8L1433.1 157.5L1432.1 157.1L1431.1 156.7L1430.1 156.3L1429.2 155.9L1428.2 155.6L1427.2 155.2L1426.2 154.8L1425.3 154.4L1424.3 154L1423.3 153.7L1422.4 153.3L1421.4 152.9L1420.4 152.5L1419.4 152.1L1418.5 151.8L1417.5 151.4L1416.5 151L1415.5 150.6L1414.6 147.7L1413.6 141.6L1412.6 135.4L1411.7 129.3L1410.7 123.1L1409.7 117L1408.7 110.9L1407.8 104.7L1406.8 98.6L1405.8 92.4L1404.8 86.3L1403.9 80.2L1402.9 85.9L1401.9 91.6L1401 97.4L1400 103.1L1399 108.9L1398 114.6z"/>
<path class="w" d="M1383.8 152.5L1384.8 148.9L1385.8 143.4L1386.8 137.8L1387.7 132.2L1388.7 126.7L1389.7 121.1L1390.7 115.5L1391.6 110L1392.6 104.4L1393.6 98.9L1394.5 93.3L1395.5 99.3L1396.5 105.2L1397.5 111.2L1398.4 117.2L1399.4 123.2L1400.4 129.1L1401.4 135.1L1402.3 141.1L1403.3 147L1404.3 153L1405.2 159L1406.2 161.2L1407.2 161.6L1408.2 162L1409.1 162.3L1410.1 162.7L1411.1 163.1L1412 163.5L1413 163.9L1414 164.2L1415 164.6L1415.9 165L1416.9 165.4L1417.9 165.8L1418.9 166.1L1419.8 166.5L1420.8 166.9L1421.8 167.3L1422.7 167.7L1423.7 154.5L1424.7 141.4L1425.7 128.2L1426.6 115.1L1427.6 101.9L1428.6 88.8L1429.6 75.6L1430.5 62.5L1431.5 74.5L1432.5 86.4L1433.4 98.4L1434.4 110.4L1435.4 122.4L1436.4 134.3L1437.3 146.3L1438.3 158.3L1439.3 170.3L1440.3 174.5L1441.2 174.9L1442.2 175.2L1443.2 175.6L1444.1 176L1445.1 176.4L1446.1 176.8L1447.1 171.1L1448 165.4L1449 159.7L1450 154L1451 148.3L1451.9 142.6L1452.9 136.9L1453.9 131.2L1454.8 137.2L1455.8 143.2L1456.8 149.2L1457.8 155.2L1458.7 161.1L1459.7 167.1L1460.7 171.5L1461.7 174.8L1469.2 173L1468.3 170.5L1467.3 167.4L1466.3 163.3L1465.3 158.3L1464.4 156.1L1463.4 150.1L1462.4 144.2L1461.5 138.2L1460.5 132.3L1459.5 126.3L1458.5 132L1457.6 137.6L1456.6 143.3L1455.6 149L1454.6 154.6L1453.7 160.3L1452.7 166L1451.7 171.6L1450.8 171.5L1449.8 171.1L1448.8 170.7L1447.8 170.3L1446.9 169.9L1445.9 169.6L1444.9 164.8L1443.9 152.7L1443 140.6L1442 128.5L1441 116.4L1440.1 104.3L1439.1 92.2L1438.1 80.1L1437.1 68L1436.2 55.9L1435.2 69.2L1434.2 82.5L1433.2 95.8L1432.3 109.1L1431.3 122.4L1430.3 135.7L1429.4 148.9L1428.4 162.2L1427.4 162.4L1426.4 162L1425.5 161.6L1424.5 161.2L1423.5 160.8L1422.5 160.5L1421.6 160.1L1420.6 159.7L1419.6 159.3L1418.7 159L1417.7 158.6L1416.7 158.2L1415.7 157.8L1414.8 157.4L1413.8 157.1L1412.8 156.7L1411.9 156.3L1410.9 155.9L1409.9 153.3L1408.9 147.3L1408 141.2L1407 135.2L1406 129.1L1405 123.1L1404.1 117L1403.1 111L1402.1 104.9L1401.2 98.8L1400.2 92.8L1399.2 86.7L1398.2 92.4L1397.3 98L1396.3 103.7L1395.3 109.3L1394.3 115L1393.4 120.6L1392.4 126.3L1391.4 131.9z"/>
<path class="w" d="M1379.2 154.2L1380.2 148.7L1381.1 143.3L1382.1 137.8L1383.1 132.3L1384 126.9L1385 121.4L1386 115.9L1387 110.4L1387.9 105L1388.9 99.5L1389.9 105.4L1390.8 111.3L1391.8 117.1L1392.8 123L1393.8 128.9L1394.7 134.8L1395.7 140.7L1396.7 146.6L1397.7 152.5L1398.6 158.4L1399.6 164.2L1400.6 166.1L1401.5 166.5L1402.5 166.9L1403.5 167.3L1404.5 167.6L1405.4 168L1406.4 168.4L1407.4 168.8L1408.4 169.2L1409.3 169.5L1410.3 169.9L1411.3 170.3L1412.2 170.7L1413.2 171L1414.2 171.4L1415.2 171.8L1416.1 172.2L1417.1 159.8L1418.1 146.8L1419.1 133.9L1420 120.9L1421 107.9L1422 95L1422.9 82L1423.9 69L1424.9 80.9L1425.9 92.7L1426.8 104.5L1427.8 116.3L1428.8 128.1L1429.8 140L1430.7 151.8L1431.7 163.6L1432.7 175.4L1433.6 179L1434.6 179.4L1435.6 179.8L1436.6 180.1L1437.5 180.5L1438.5 180.9L1439.5 181.3L1440.5 175.8L1441.4 170.1L1442.4 164.4L1443.4 158.7L1444.3 152.9L1445.3 147.2L1446.3 141.5L1447.3 135.8L1448.2 141.8L1449.2 147.8L1450.2 153.8L1451.2 159.8L1452.1 165.8L1453.1 171.4L1454.1 175.7L1455 179L1462.6 177.3L1461.7 174.8L1460.7 171.5L1459.7 167.1L1458.7 161.1L1457.8 155.2L1456.8 149.2L1455.8 143.2L1454.8 137.2L1453.9 131.2L1452.9 136.9L1451.9 142.6L1451 148.3L1450 154L1449 159.7L1448 165.4L1447.1 171.1L1446.1 176.8L1445.1 176.4L1444.1 176L1443.2 175.6L1442.2 175.2L1441.2 174.9L1440.3 174.5L1439.3 170.3L1438.3 158.3L1437.3 146.3L1436.4 134.3L1435.4 122.4L1434.4 110.4L1433.4 98.4L1432.5 86.4L1431.5 74.5L1430.5 62.5L1429.6 75.6L1428.6 88.8L1427.6 101.9L1426.6 115.1L1425.7 128.2L1424.7 141.4L1423.7 154.5L1422.7 167.7L1421.8 167.3L1420.8 166.9L1419.8 166.5L1418.9 166.1L1417.9 165.8L1416.9 165.4L1415.9 165L1415 164.6L1414 164.2L1413 163.9L1412 163.5L1411.1 163.1L1410.1 162.7L1409.1 162.3L1408.2 162L1407.2 161.6L1406.2 161.2L1405.2 159L1404.3 153L1403.3 147L1402.3 141.1L1401.4 135.1L1400.4 129.1L1399.4 123.2L1398.4 117.2L1397.5 111.2L1396.5 105.2L1395.5 99.3L1394.5 93.3L1393.6 98.9L1392.6 104.4L1391.6 110L1390.7 115.5L1389.7 121.1L1388.7 126.7L1387.7 132.2L1386.8 137.8z"/>
<path class="w" d="M1373.5 162.7L1374.5 159.9L1375.5 154.5L1376.5 149.1L1377.4 143.7L1378.4 138.3L1379.4 133L1380.3 127.6L1381.3 122.2L1382.3 116.8L1383.3 111.4L1384.2 106L1385.2 111.8L1386.2 117.7L1387.2 123.5L1388.1 129.3L1389.1 135.1L1390.1 140.9L1391 146.7L1392 152.5L1393 158.3L1394 164.1L1394.9 169.9L1395.9 171.4L1396.9 171.8L1397.9 172.2L1398.8 172.5L1399.8 172.9L1400.8 173.3L1401.7 173.7L1402.7 174.1L1403.7 174.4L1404.7 174.8L1405.6 175.2L1406.6 175.6L1407.6 176L1408.6 176.3L1409.5 176.7L1410.5 177.1L1411.5 165.5L1412.4 152.7L1413.4 140L1414.4 127.3L1415.4 114.6L1416.3 101.8L1417.3 89.1L1418.3 76.4L1419.3 88L1420.2 99.6L1421.2 111.2L1422.2 122.8L1423.1 134.4L1424.1 146.1L1425.1 157.7L1426.1 169.3L1427 180.9L1428 183.9L1429 184.3L1430 184.7L1430.9 185.1L1431.9 185.4L1432.9 185.8L1433.8 180.6L1434.8 174.8L1435.8 169.1L1436.8 163.3L1437.7 157.6L1438.7 151.8L1439.7 146L1440.7 140.3L1441.6 146.3L1442.6 152.4L1443.6 158.4L1444.5 164.5L1445.5 170.5L1446.5 175.5L1447.5 179.8L1448.4 183.2L1456 181.6L1455 179L1454.1 175.7L1453.1 171.4L1452.1 165.8L1451.2 159.8L1450.2 153.8L1449.2 147.8L1448.2 141.8L1447.3 135.8L1446.3 141.5L1445.3 147.2L1444.3 152.9L1443.4 158.7L1442.4 164.4L1441.4 170.1L1440.5 175.8L1439.5 181.3L1438.5 180.9L1437.5 180.5L1436.6 180.1L1435.6 179.8L1434.6 179.4L1433.6 179L1432.7 175.4L1431.7 163.6L1430.7 151.8L1429.8 140L1428.8 128.1L1427.8 116.3L1426.8 104.5L1425.9 92.7L1424.9 80.9L1423.9 69L1422.9 82L1422 95L1421 107.9L1420 120.9L1419.1 133.9L1418.1 146.8L1417.1 159.8L1416.1 172.2L1415.2 171.8L1414.2 171.4L1413.2 171L1412.2 170.7L1411.3 170.3L1410.3 169.9L1409.3 169.5L1408.4 169.2L1407.4 168.8L1406.4 168.4L1405.4 168L1404.5 167.6L1403.5 167.3L1402.5 166.9L1401.5 166.5L1400.6 166.1L1399.6 164.2L1398.6 158.4L1397.7 152.5L1396.7 146.6L1395.7 140.7L1394.7 134.8L1393.8 128.9L1392.8 123L1391.8 117.1L1390.8 111.3L1389.9 105.4L1388.9 99.5L1387.9 105L1387 110.4L1386 115.9L1385 121.4L1384 126.9L1383.1 132.3L1382.1 137.8L1381.1 143.3z"/>
<path class="w" d="M1369.8 165.5L1370.8 160.2L1371.8 154.9L1372.8 149.7L1373.7 144.4L1374.7 139.1L1375.7 133.8L1376.7 128.5L1377.6 123.2L1378.6 117.9L1379.6 112.6L1380.5 118.3L1381.5 124L1382.5 129.8L1383.5 135.5L1384.4 141.2L1385.4 146.9L1386.4 152.6L1387.4 158.3L1388.3 164.1L1389.3 169.8L1390.3 175.5L1391.2 176.7L1392.2 177.1L1393.2 177.5L1394.2 177.8L1395.1 178.2L1396.1 178.6L1397.1 179L1398.1 179.4L1399 179.7L1400 180.1L1401 180.5L1401.9 180.9L1402.9 181.2L1403.9 181.6L1404.9 182L1405.8 171.2L1406.8 158.7L1407.8 146.3L1408.8 133.8L1409.7 121.4L1410.7 108.9L1411.7 96.5L1412.6 84L1413.6 95.4L1414.6 106.8L1415.6 118.1L1416.5 129.5L1417.5 140.9L1418.5 152.3L1419.5 163.6L1420.4 175L1421.4 186.4L1422.4 188.8L1423.3 189.2L1424.3 189.6L1425.3 190L1426.3 190.3L1427.2 185.3L1428.2 179.5L1429.2 173.8L1430.2 168L1431.1 162.2L1432.1 156.4L1433.1 150.6L1434 144.8L1435 150.9L1436 157L1437 163L1437.9 169.1L1438.9 175.2L1439.9 179.5L1440.9 183.9L1441.8 187.5L1449.4 185.9L1448.4 183.2L1447.5 179.8L1446.5 175.5L1445.5 170.5L1444.5 164.5L1443.6 158.4L1442.6 152.4L1441.6 146.3L1440.7 140.3L1439.7 146L1438.7 151.8L1437.7 157.6L1436.8 163.3L1435.8 169.1L1434.8 174.8L1433.8 180.6L1432.9 185.8L1431.9 185.4L1430.9 185.1L1430 184.7L1429 184.3L1428 183.9L1427 180.9L1426.1 169.3L1425.1 157.7L1424.1 146.1L1423.1 134.4L1422.2 122.8L1421.2 111.2L1420.2 99.6L1419.3 88L1418.3 76.4L1417.3 89.1L1416.3 101.8L1415.4 114.6L1414.4 127.3L1413.4 140L1412.4 152.7L1411.5 165.5L1410.5 177.1L1409.5 176.7L1408.6 176.3L1407.6 176L1406.6 175.6L1405.6 175.2L1404.7 174.8L1403.7 174.4L1402.7 174.1L1401.7 173.7L1400.8 173.3L1399.8 172.9L1398.8 172.5L1397.9 172.2L1396.9 171.8L1395.9 171.4L1394.9 169.9L1394 164.1L1393 158.3L1392 152.5L1391 146.7L1390.1 140.9L1389.1 135.1L1388.1 129.3L1387.2 123.5L1386.2 117.7L1385.2 111.8L1384.2 106L1383.3 111.4L1382.3 116.8L1381.3 122.2L1380.3 127.6L1379.4 133L1378.4 138.3L1377.4 143.7z"/>
<path class="w" d="M1365.2 171.2L1366.2 166L1367.1 160.8L1368.1 155.6L1369.1 150.4L1370 145.2L1371 140L1372 134.8L1373 129.6L1373.9 124.4L1374.9 119.2L1375.9 124.8L1376.9 130.4L1377.8 136.1L1378.8 141.7L1379.8 147.3L1380.7 153L1381.7 158.6L1382.7 164.2L1383.7 169.8L1384.6 175.5L1385.6 181.1L1386.6 182L1387.6 182.4L1388.5 182.7L1389.5 183.1L1390.5 183.5L1391.4 183.9L1392.4 184.3L1393.4 184.6L1394.4 185L1395.3 185.4L1396.3 185.8L1397.3 186.2L1398.3 186.5L1399.2 186.9L1400.2 176.9L1401.2 164.7L1402.1 152.6L1403.1 140.5L1404.1 128.4L1405.1 116.2L1406 104.1L1407 92L1408 103.1L1409 114.2L1409.9 125.3L1410.9 136.4L1411.9 147.5L1412.8 158.6L1413.8 169.7L1414.8 180.8L1415.8 191.9L1416.7 193.7L1417.7 194.1L1418.7 194.5L1419.7 194.9L1420.6 190.1L1421.6 184.3L1422.6 178.5L1423.5 172.6L1424.5 166.8L1425.5 161L1426.5 155.2L1427.4 149.4L1428.4 155.5L1429.4 161.6L1430.4 167.7L1431.3 173.8L1432.3 179.9L1433.3 183.5L1434.2 188.1L1435.2 191.7L1442.8 190.2L1441.8 187.5L1440.9 183.9L1439.9 179.5L1438.9 175.2L1437.9 169.1L1437 163L1436 157L1435 150.9L1434 144.8L1433.1 150.6L1432.1 156.4L1431.1 162.2L1430.2 168L1429.2 173.8L1428.2 179.5L1427.2 185.3L1426.3 190.3L1425.3 190L1424.3 189.6L1423.3 189.2L1422.4 188.8L1421.4 186.4L1420.4 175L1419.5 163.6L1418.5 152.3L1417.5 140.9L1416.5 129.5L1415.6 118.1L1414.6 106.8L1413.6 95.4L1412.6 84L1411.7 96.5L1410.7 108.9L1409.7 121.4L1408.8 133.8L1407.8 146.3L1406.8 158.7L1405.8 171.2L1404.9 182L1403.9 181.6L1402.9 181.2L1401.9 180.9L1401 180.5L1400 180.1L1399 179.7L1398.1 179.4L1397.1 179L1396.1 178.6L1395.1 178.2L1394.2 177.8L1393.2 177.5L1392.2 177.1L1391.2 176.7L1390.3 175.5L1389.3 169.8L1388.3 164.1L1387.4 158.3L1386.4 152.6L1385.4 146.9L1384.4 141.2L1383.5 135.5L1382.5 129.8L1381.5 124L1380.5 118.3L1379.6 112.6L1378.6 117.9L1377.6 123.2L1376.7 128.5L1375.7 133.8L1374.7 139.1L1373.7 144.4L1372.8 149.7z"/>
<path class="w" d="M1360.5 176.8L1361.5 171.7L1362.5 166.6L1363.4 161.5L1364.4 156.4L1365.4 151.3L1366.4 146.2L1367.3 141.1L1368.3 136L1369.3 130.9L1370.2 125.7L1371.2 131.3L1372.2 136.8L1373.2 142.4L1374.1 147.9L1375.1 153.5L1376.1 159L1377.1 164.5L1378 170.1L1379 175.6L1380 181.2L1380.9 186.7L1381.9 187.3L1382.9 187.7L1383.9 188L1384.8 188.4L1385.8 188.8L1386.8 189.2L1387.8 189.6L1388.7 189.9L1389.7 190.3L1390.7 190.7L1391.6 191.1L1392.6 191.4L1393.6 182.2L1394.6 170.4L1395.5 158.7L1396.5 146.9L1397.5 135.1L1398.5 123.4L1399.4 111.6L1400.4 99.8L1401.4 110.6L1402.3 121.4L1403.3 132.2L1404.3 143L1405.3 153.8L1406.2 164.6L1407.2 175.4L1408.2 186.2L1409.2 196.9L1410.1 198.3L1411.1 198.7L1412.1 199L1413 199.4L1414 194.9L1415 189L1416 183.1L1416.9 177.3L1417.9 171.4L1418.9 165.6L1419.9 159.7L1420.8 153.9L1421.8 160L1422.8 166.1L1423.7 172.3L1424.7 178.4L1425.7 184.5L1426.7 187.5L1427.6 192.2L1428.6 195.9L1436.2 194.5L1435.2 191.7L1434.2 188.1L1433.3 183.5L1432.3 179.9L1431.3 173.8L1430.4 167.7L1429.4 161.6L1428.4 155.5L1427.4 149.4L1426.5 155.2L1425.5 161L1424.5 166.8L1423.5 172.6L1422.6 178.5L1421.6 184.3L1420.6 190.1L1419.7 194.9L1418.7 194.5L1417.7 194.1L1416.7 193.7L1415.8 191.9L1414.8 180.8L1413.8 169.7L1412.8 158.6L1411.9 147.5L1410.9 136.4L1409.9 125.3L1409 114.2L1408 103.1L1407 92L1406 104.1L1405.1 116.2L1404.1 128.4L1403.1 140.5L1402.1 152.6L1401.2 164.7L1400.2 176.9L1399.2 186.9L1398.3 186.5L1397.3 186.2L1396.3 185.8L1395.3 185.4L1394.4 185L1393.4 184.6L1392.4 184.3L1391.4 183.9L1390.5 183.5L1389.5 183.1L1388.5 182.7L1387.6 182.4L1386.6 182L1385.6 181.1L1384.6 175.5L1383.7 169.8L1382.7 164.2L1381.7 158.6L1380.7 153L1379.8 147.3L1378.8 141.7L1377.8 136.1L1376.9 130.4L1375.9 124.8L1374.9 119.2L1373.9 124.4L1373 129.6L1372 134.8L1371 140L1370 145.2L1369.1 150.4L1368.1 155.6z"/>
<path class="w" d="M1355.9 177L1356.8 172L1357.8 167L1358.8 162L1359.7 157L1360.7 152L1361.7 147L1362.7 142L1363.6 136.9L1364.6 131.9L1365.6 137.4L1366.6 142.8L1367.5 148.3L1368.5 153.7L1369.5 159.2L1370.4 164.6L1371.4 170.1L1372.4 175.5L1373.4 181L1374.3 186.5L1375.3 191.8L1376.3 192.2L1377.3 192.6L1378.2 192.9L1379.2 193.3L1380.2 193.7L1381.1 194.1L1382.1 194.5L1383.1 194.8L1384.1 195.2L1385 195.6L1386 196L1387 196.4L1388 187.9L1388.9 176.5L1389.9 165.2L1390.9 153.8L1391.8 142.4L1392.8 131.1L1393.8 119.7L1394.8 108.3L1395.7 118.8L1396.7 129.2L1397.7 139.7L1398.7 150.1L1399.6 160.6L1400.6 171L1401.6 181.5L1402.5 191.9L1403.5 202.4L1404.5 203.2L1405.5 203.6L1406.4 203.9L1407.4 199.6L1408.4 193.7L1409.4 187.8L1410.3 182L1411.3 176.1L1412.3 170.2L1413.2 164.3L1414.2 158.4L1415.2 164.6L1416.2 170.7L1417.1 176.9L1418.1 183.1L1419.1 189.2L1420 191.6L1421 196.3L1422 200.1L1429.6 198.8L1428.6 195.9L1427.6 192.2L1426.7 187.5L1425.7 184.5L1424.7 178.4L1423.7 172.3L1422.8 166.1L1421.8 160L1420.8 153.9L1419.9 159.7L1418.9 165.6L1417.9 171.4L1416.9 177.3L1416 183.1L1415 189L1414 194.9L1413 199.4L1412.1 199L1411.1 198.7L1410.1 198.3L1409.2 196.9L1408.2 186.2L1407.2 175.4L1406.2 164.6L1405.3 153.8L1404.3 143L1403.3 132.2L1402.3 121.4L1401.4 110.6L1400.4 99.8L1399.4 111.6L1398.5 123.4L1397.5 135.1L1396.5 146.9L1395.5 158.7L1394.6 170.4L1393.6 182.2L1392.6 191.4L1391.6 191.1L1390.7 190.7L1389.7 190.3L1388.7 189.9L1387.8 189.6L1386.8 189.2L1385.8 188.8L1384.8 188.4L1383.9 188L1382.9 187.7L1381.9 187.3L1380.9 186.7L1380 181.2L1379 175.6L1378 170.1L1377.1 164.5L1376.1 159L1375.1 153.5L1374.1 147.9L1373.2 142.4L1372.2 136.8L1371.2 131.3L1370.2 125.7L1369.3 130.9L1368.3 136L1367.3 141.1L1366.4 146.2L1365.4 151.3L1364.4 156.4L1363.4 161.5z"/>
<path class="w" d="M1350.2 187.6L1351.2 182.7L1352.2 177.8L1353.1 172.9L1354.1 168L1355.1 163.1L1356.1 158.2L1357 153.2L1358 148.3L1359 143.4L1359.9 138.5L1360.9 143.9L1361.9 149.2L1362.9 154.6L1363.8 159.9L1364.8 165.3L1365.8 170.7L1366.8 176L1367.7 181.4L1368.7 186.8L1369.7 192.1L1370.6 197.1L1371.6 197.5L1372.6 197.9L1373.6 198.2L1374.5 198.6L1375.5 199L1376.5 199.4L1377.5 199.8L1378.4 200.1L1379.4 200.5L1380.4 200.9L1381.3 201.3L1382.3 193.6L1383.3 182.7L1384.3 171.7L1385.2 160.8L1386.2 149.8L1387.2 138.9L1388.2 127.9L1389.1 117L1390.1 127.1L1391.1 137.2L1392 147.3L1393 157.3L1394 167.4L1395 177.5L1395.9 187.6L1396.9 197.7L1397.9 207.7L1398.9 208.1L1399.8 208.5L1400.8 208.9L1401.8 204.8L1402.7 198.8L1403.7 192.9L1404.7 187L1405.7 181.1L1406.6 175.2L1407.6 169.2L1408.6 163.3L1409.5 169.5L1410.5 175.7L1411.5 181.9L1412.5 188.1L1413.4 194.3L1414.4 200.4L1415.4 204.3L1423 203.1L1422 200.1L1421 196.3L1420 191.6L1419.1 189.2L1418.1 183.1L1417.1 176.9L1416.2 170.7L1415.2 164.6L1414.2 158.4L1413.2 164.3L1412.3 170.2L1411.3 176.1L1410.3 182L1409.4 187.8L1408.4 193.7L1407.4 199.6L1406.4 203.9L1405.5 203.6L1404.5 203.2L1403.5 202.4L1402.5 191.9L1401.6 181.5L1400.6 171L1399.6 160.6L1398.7 150.1L1397.7 139.7L1396.7 129.2L1395.7 118.8L1394.8 108.3L1393.8 119.7L1392.8 131.1L1391.8 142.4L1390.9 153.8L1389.9 165.2L1388.9 176.5L1388 187.9L1387 196.4L1386 196L1385 195.6L1384.1 195.2L1383.1 194.8L1382.1 194.5L1381.1 194.1L1380.2 193.7L1379.2 193.3L1378.2 192.9L1377.3 192.6L1376.3 192.2L1375.3 191.8L1374.3 186.5L1373.4 181L1372.4 175.5L1371.4 170.1L1370.4 164.6L1369.5 159.2L1368.5 153.7L1367.5 148.3L1366.6 142.8L1365.6 137.4L1364.6 131.9L1363.6 136.9L1362.7 142L1361.7 147L1360.7 152L1359.7 157L1358.8 162L1357.8 167z"/>
<path class="w" d="M1345.6 193.2L1346.5 188.4L1347.5 183.6L1348.5 178.8L1349.4 174L1350.4 169.2L1351.4 164.3L1352.4 159.5L1353.3 154.7L1354.3 149.9L1355.3 145.1L1356.3 150.3L1357.2 155.6L1358.2 160.9L1359.2 166.2L1360.1 171.4L1361.1 176.7L1362.1 182L1363.1 187.2L1364 192.5L1365 197.8L1366 202.4L1367 202.8L1367.9 203.1L1368.9 203.5L1369.9 203.9L1370.8 204.3L1371.8 204.7L1372.8 205L1373.8 205.4L1374.7 205.8L1375.7 206.2L1376.7 199.3L1377.7 188.8L1378.6 178.3L1379.6 167.8L1380.6 157.3L1381.5 146.8L1382.5 136.4L1383.5 125.9L1384.5 135.6L1385.4 145.3L1386.4 154.9L1387.4 164.6L1388.3 174.3L1389.3 184L1390.3 193.7L1391.3 203.4L1392.2 212.6L1393.2 213L1394.2 213.4L1395.2 209.5L1396.1 203.6L1397.1 197.6L1398.1 191.7L1399 185.7L1400 179.8L1401 173.8L1402 167.9L1402.9 174.1L1403.9 180.3L1404.9 186.5L1405.9 192.8L1406.8 199L1407.8 204.4L1408.8 208.5L1409.7 211.6L1417.3 209.7L1416.4 207.3L1415.4 204.3L1414.4 200.4L1413.4 194.3L1412.5 188.1L1411.5 181.9L1410.5 175.7L1409.5 169.5L1408.6 163.3L1407.6 169.2L1406.6 175.2L1405.7 181.1L1404.7 187L1403.7 192.9L1402.7 198.8L1401.8 204.8L1400.8 208.9L1399.8 208.5L1398.9 208.1L1397.9 207.7L1396.9 197.7L1395.9 187.6L1395 177.5L1394 167.4L1393 157.3L1392 147.3L1391.1 137.2L1390.1 127.1L1389.1 117L1388.2 127.9L1387.2 138.9L1386.2 149.8L1385.2 160.8L1384.3 171.7L1383.3 182.7L1382.3 193.6L1381.3 201.3L1380.4 200.9L1379.4 200.5L1378.4 200.1L1377.5 199.8L1376.5 199.4L1375.5 199L1374.5 198.6L1373.6 198.2L1372.6 197.9L1371.6 197.5L1370.6 197.1L1369.7 192.1L1368.7 186.8L1367.7 181.4L1366.8 176L1365.8 170.7L1364.8 165.3L1363.8 159.9L1362.9 154.6L1361.9 149.2L1360.9 143.9L1359.9 138.5L1359 143.4L1358 148.3L1357 153.2L1356.1 158.2L1355.1 163.1L1354.1 168L1353.1 172.9z"/>
<path class="w" d="M1340.9 198.8L1341.9 194.1L1342.8 189.4L1343.8 184.7L1344.8 180L1345.8 175.2L1346.7 170.5L1347.7 165.8L1348.7 161.1L1349.6 156.4L1350.6 151.6L1351.6 156.8L1352.6 162L1353.5 167.2L1354.5 172.3L1355.5 177.5L1356.5 182.7L1357.4 187.9L1358.4 193.1L1359.4 198.2L1360.3 203.4L1361.3 207.7L1362.3 208.1L1363.3 208.4L1364.2 208.8L1365.2 209.2L1366.2 209.6L1367.2 210L1368.1 210.3L1369.1 210.7L1370.1 211.1L1371 204.9L1372 194.9L1373 184.9L1374 174.9L1374.9 164.9L1375.9 154.9L1376.9 144.9L1377.8 134.9L1378.8 144.2L1379.8 153.4L1380.8 162.7L1381.7 172L1382.7 181.3L1383.7 190.6L1384.7 199.9L1385.6 209.1L1386.6 217.5L1387.6 217.9L1388.5 214.3L1389.5 208.3L1390.5 202.3L1391.5 196.3L1392.4 190.3L1393.4 184.4L1394.4 178.4L1395.4 172.4L1396.3 178.6L1397.3 184.9L1398.3 191.2L1399.2 197.4L1400.2 203.7L1401.2 208.5L1402.2 212.6L1403.1 215.9L1410.7 214.1L1409.7 211.6L1408.8 208.5L1407.8 204.4L1406.8 199L1405.9 192.8L1404.9 186.5L1403.9 180.3L1402.9 174.1L1402 167.9L1401 173.8L1400 179.8L1399 185.7L1398.1 191.7L1397.1 197.6L1396.1 203.6L1395.2 209.5L1394.2 213.4L1393.2 213L1392.2 212.6L1391.3 203.4L1390.3 193.7L1389.3 184L1388.3 174.3L1387.4 164.6L1386.4 154.9L1385.4 145.3L1384.5 135.6L1383.5 125.9L1382.5 136.4L1381.5 146.8L1380.6 157.3L1379.6 167.8L1378.6 178.3L1377.7 188.8L1376.7 199.3L1375.7 206.2L1374.7 205.8L1373.8 205.4L1372.8 205L1371.8 204.7L1370.8 204.3L1369.9 203.9L1368.9 203.5L1367.9 203.1L1367 202.8L1366 202.4L1365 197.8L1364 192.5L1363.1 187.2L1362.1 182L1361.1 176.7L1360.1 171.4L1359.2 166.2L1358.2 160.9L1357.2 155.6L1356.3 150.3L1355.3 145.1L1354.3 149.9L1353.3 154.7L1352.4 159.5L1351.4 164.3L1350.4 169.2L1349.4 174L1348.5 178.8z"/>
<path class="w" d="M1336.2 204.4L1337.2 199.8L1338.2 195.2L1339.1 190.6L1340.1 185.9L1341.1 181.3L1342.1 176.7L1343 172.1L1344 167.4L1345 162.8L1346 158.2L1346.9 163.3L1347.9 168.4L1348.9 173.5L1349.8 178.5L1350.8 183.6L1351.8 188.7L1352.8 193.8L1353.7 198.9L1354.7 204L1355.7 209.1L1356.7 213L1357.6 213.3L1358.6 213.7L1359.6 214.1L1360.5 214.5L1361.5 214.9L1362.5 215.2L1363.5 215.6L1364.4 210.2L1365.4 200.7L1366.4 191.2L1367.3 181.7L1368.3 172.2L1369.3 162.6L1370.3 153.1L1371.2 143.6L1372.2 152.5L1373.2 161.3L1374.2 170.2L1375.1 179L1376.1 187.9L1377.1 196.8L1378 205.6L1379 214.5L1380 222.1L1381 222.4L1381.9 219.1L1382.9 213L1383.9 207L1384.9 201L1385.8 195L1386.8 189L1387.8 182.9L1388.7 176.9L1389.7 183.2L1390.7 189.5L1391.7 195.8L1392.6 202.1L1393.6 208.4L1394.6 212.6L1395.6 216.8L1396.5 220.1L1404.1 218.4L1403.1 215.9L1402.2 212.6L1401.2 208.5L1400.2 203.7L1399.2 197.4L1398.3 191.2L1397.3 184.9L1396.3 178.6L1395.4 172.4L1394.4 178.4L1393.4 184.4L1392.4 190.3L1391.5 196.3L1390.5 202.3L1389.5 208.3L1388.5 214.3L1387.6 217.9L1386.6 217.5L1385.6 209.1L1384.7 199.9L1383.7 190.6L1382.7 181.3L1381.7 172L1380.8 162.7L1379.8 153.4L1378.8 144.2L1377.8 134.9L1376.9 144.9L1375.9 154.9L1374.9 164.9L1374 174.9L1373 184.9L1372 194.9L1371 204.9L1370.1 211.1L1369.1 210.7L1368.1 210.3L1367.2 210L1366.2 209.6L1365.2 209.2L1364.2 208.8L1363.3 208.4L1362.3 208.1L1361.3 207.7L1360.3 203.4L1359.4 198.2L1358.4 193.1L1357.4 187.9L1356.5 182.7L1355.5 177.5L1354.5 172.3L1353.5 167.2L1352.6 162L1351.6 156.8L1350.6 151.6L1349.6 156.4L1348.7 161.1L1347.7 165.8L1346.7 170.5L1345.8 175.2L1344.8 180L1343.8 184.7z"/>
<path class="w" d="M1331.6 205.1L1332.5 200.6L1333.5 196L1334.5 191.5L1335.5 187L1336.4 182.5L1337.4 178L1338.4 173.4L1339.3 168.9L1340.3 164.4L1341.3 169.4L1342.3 174.4L1343.2 179.4L1344.2 184.4L1345.2 189.3L1346.1 194.3L1347.1 199.3L1348.1 204.3L1349.1 209.3L1350 214.3L1351 217.9L1352 218.3L1353 218.6L1353.9 219L1354.9 219.4L1355.9 219.8L1356.8 220.2L1357.8 220.5L1358.8 215.8L1359.8 206.8L1360.7 197.8L1361.7 188.8L1362.7 179.8L1363.7 170.8L1364.6 161.8L1365.6 152.9L1366.6 161.3L1367.5 169.7L1368.5 178.1L1369.5 186.5L1370.5 194.9L1371.4 203.3L1372.4 211.7L1373.4 220.1L1374.4 227L1375.3 223.8L1376.3 217.8L1377.3 211.7L1378.2 205.7L1379.2 199.6L1380.2 193.6L1381.2 187.5L1382.1 181.5L1383.1 187.8L1384.1 194.1L1385.1 200.4L1386 206.7L1387 213L1388 216.7L1388.9 220.9L1389.9 224.4L1397.5 222.7L1396.5 220.1L1395.6 216.8L1394.6 212.6L1393.6 208.4L1392.6 202.1L1391.7 195.8L1390.7 189.5L1389.7 183.2L1388.7 176.9L1387.8 182.9L1386.8 189L1385.8 195L1384.9 201L1383.9 207L1382.9 213L1381.9 219.1L1381 222.4L1380 222.1L1379 214.5L1378 205.6L1377.1 196.8L1376.1 187.9L1375.1 179L1374.2 170.2L1373.2 161.3L1372.2 152.5L1371.2 143.6L1370.3 153.1L1369.3 162.6L1368.3 172.2L1367.3 181.7L1366.4 191.2L1365.4 200.7L1364.4 210.2L1363.5 215.6L1362.5 215.2L1361.5 214.9L1360.5 214.5L1359.6 214.1L1358.6 213.7L1357.6 213.3L1356.7 213L1355.7 209.1L1354.7 204L1353.7 198.9L1352.8 193.8L1351.8 188.7L1350.8 183.6L1349.8 178.5L1348.9 173.5L1347.9 168.4L1346.9 163.3L1346 158.2L1345 162.8L1344 167.4L1343 172.1L1342.1 176.7L1341.1 181.3L1340.1 185.9L1339.1 190.6z"/>
<path class="w" d="M1325.9 215.2L1326.9 210.7L1327.9 206.2L1328.8 201.8L1329.8 197.3L1330.8 192.9L1331.8 188.4L1332.7 184L1333.7 179.5L1334.7 175L1335.6 170.6L1336.6 175.5L1337.6 180.4L1338.6 185.4L1339.5 190.3L1340.5 195.2L1341.5 200.2L1342.5 205.1L1343.4 210L1344.4 215L1345.4 219.9L1346.3 223.2L1347.3 223.5L1348.3 223.9L1349.3 224.3L1350.2 224.7L1351.2 225.1L1352.2 225.4L1353.2 221.3L1354.1 212.9L1355.1 204.4L1356.1 196L1357 187.5L1358 179L1359 170.6L1360 162.1L1360.9 170.1L1361.9 178L1362.9 186L1363.9 193.9L1364.8 201.9L1365.8 209.9L1366.8 217.8L1367.7 225.8L1368.7 228.6L1369.7 222.5L1370.7 216.4L1371.6 210.3L1372.6 204.3L1373.6 198.2L1374.6 192.1L1375.5 186L1376.5 192.3L1377.5 198.7L1378.4 205L1379.4 211.4L1380.4 217.7L1381.4 220.7L1382.3 225.1L1383.3 228.6L1390.9 227L1389.9 224.4L1388.9 220.9L1388 216.7L1387 213L1386 206.7L1385.1 200.4L1384.1 194.1L1383.1 187.8L1382.1 181.5L1381.2 187.5L1380.2 193.6L1379.2 199.6L1378.2 205.7L1377.3 211.7L1376.3 217.8L1375.3 223.8L1374.4 227L1373.4 220.1L1372.4 211.7L1371.4 203.3L1370.5 194.9L1369.5 186.5L1368.5 178.1L1367.5 169.7L1366.6 161.3L1365.6 152.9L1364.6 161.8L1363.7 170.8L1362.7 179.8L1361.7 188.8L1360.7 197.8L1359.8 206.8L1358.8 215.8L1357.8 220.5L1356.8 220.2L1355.9 219.8L1354.9 219.4L1353.9 219L1353 218.6L1352 218.3L1351 217.9L1350 214.3L1349.1 209.3L1348.1 204.3L1347.1 199.3L1346.1 194.3L1345.2 189.3L1344.2 184.4L1343.2 179.4L1342.3 174.4L1341.3 169.4L1340.3 164.4L1339.3 168.9L1338.4 173.4L1337.4 178L1336.4 182.5L1335.5 187L1334.5 191.5L1333.5 196z"/>
<path class="w" d="M1322.2 216.3L1323.2 211.8L1324.2 207.4L1325.1 202.9L1326.1 198.5L1327.1 194L1328.1 189.6L1329 185.1L1330 180.7L1331 176.2L1332 181.1L1332.9 186.1L1333.9 191L1334.9 195.9L1335.8 200.8L1336.8 205.8L1337.8 210.7L1338.8 215.6L1339.7 220.5L1340.7 225.5L1341.7 228.5L1342.7 228.8L1343.6 229.2L1344.6 229.6L1345.6 230L1346.5 230.4L1347.5 226.9L1348.5 218.9L1349.5 211L1350.4 203.1L1351.4 195.2L1352.4 187.3L1353.4 179.3L1354.3 171.4L1355.3 178.9L1356.3 186.4L1357.2 193.9L1358.2 201.4L1359.2 208.9L1360.2 216.4L1361.1 223.9L1362.1 231.4L1363.1 233.8L1364.1 227.7L1365 221.6L1366 215.6L1367 209.5L1367.9 203.4L1368.9 197.3L1369.9 191.3L1370.9 197.6L1371.8 203.9L1372.8 210.3L1373.8 216.6L1374.8 222.9L1375.7 229.2L1376.7 232.8L1384.3 231.3L1383.3 228.6L1382.3 225.1L1381.4 220.7L1380.4 217.7L1379.4 211.4L1378.4 205L1377.5 198.7L1376.5 192.3L1375.5 186L1374.6 192.1L1373.6 198.2L1372.6 204.3L1371.6 210.3L1370.7 216.4L1369.7 222.5L1368.7 228.6L1367.7 225.8L1366.8 217.8L1365.8 209.9L1364.8 201.9L1363.9 193.9L1362.9 186L1361.9 178L1360.9 170.1L1360 162.1L1359 170.6L1358 179L1357 187.5L1356.1 196L1355.1 204.4L1354.1 212.9L1353.2 221.3L1352.2 225.4L1351.2 225.1L1350.2 224.7L1349.3 224.3L1348.3 223.9L1347.3 223.5L1346.3 223.2L1345.4 219.9L1344.4 215L1343.4 210L1342.5 205.1L1341.5 200.2L1340.5 195.2L1339.5 190.3L1338.6 185.4L1337.6 180.4L1336.6 175.5L1335.6 170.6L1334.7 175L1333.7 179.5L1332.7 184L1331.8 188.4L1330.8 192.9L1329.8 197.3z"/>
<path class="w" d="M1317.6 221.8L1318.5 217.4L1319.5 212.9L1320.5 208.5L1321.5 204.1L1322.4 199.6L1323.4 195.2L1324.4 190.7L1325.3 186.3L1326.3 181.9L1327.3 186.8L1328.3 191.7L1329.2 196.6L1330.2 201.5L1331.2 206.4L1332.2 211.4L1333.1 216.3L1334.1 221.2L1335.1 226.1L1336 231L1337 233.8L1338 234.1L1339 234.5L1339.9 234.9L1340.9 232L1341.9 224.6L1342.9 217.2L1343.8 209.8L1344.8 202.5L1345.8 195.1L1346.7 187.7L1347.7 180.3L1348.7 187.4L1349.7 194.4L1350.6 201.4L1351.6 208.4L1352.6 215.5L1353.6 222.5L1354.5 229.5L1355.5 236.5L1356.5 238.6L1357.4 232.7L1358.4 226.7L1359.4 220.7L1360.4 214.7L1361.3 208.7L1362.3 202.8L1363.3 196.8L1364.3 203L1365.2 209.3L1366.2 215.5L1367.2 221.8L1368.1 228L1369.1 233.4L1370.1 237L1377.7 235.6L1376.7 232.8L1375.7 229.2L1374.8 222.9L1373.8 216.6L1372.8 210.3L1371.8 203.9L1370.9 197.6L1369.9 191.3L1368.9 197.3L1367.9 203.4L1367 209.5L1366 215.6L1365 221.6L1364.1 227.7L1363.1 233.8L1362.1 231.4L1361.1 223.9L1360.2 216.4L1359.2 208.9L1358.2 201.4L1357.2 193.9L1356.3 186.4L1355.3 178.9L1354.3 171.4L1353.4 179.3L1352.4 187.3L1351.4 195.2L1350.4 203.1L1349.5 211L1348.5 218.9L1347.5 226.9L1346.5 230.4L1345.6 230L1344.6 229.6L1343.6 229.2L1342.7 228.8L1341.7 228.5L1340.7 225.5L1339.7 220.5L1338.8 215.6L1337.8 210.7L1336.8 205.8L1335.8 200.8L1334.9 195.9L1333.9 191L1332.9 186.1L1332 181.1L1331 176.2L1330 180.7L1329 185.1L1328.1 189.6L1327.1 194L1326.1 198.5L1325.1 202.9z"/>
<path class="w" d="M1312.9 227.4L1313.9 223L1314.8 218.5L1315.8 214.1L1316.8 209.7L1317.8 205.2L1318.7 200.8L1319.7 196.4L1320.7 191.9L1321.7 187.5L1322.6 192.4L1323.6 197.3L1324.6 202.2L1325.5 207.1L1326.5 212L1327.5 216.9L1328.5 221.8L1329.4 226.8L1330.4 231.7L1331.4 236.6L1332.4 239L1333.3 239.4L1334.3 239.8L1335.3 237.4L1336.2 230.6L1337.2 223.7L1338.2 216.9L1339.2 210.1L1340.1 203.2L1341.1 196.4L1342.1 189.6L1343.1 196.1L1344 202.7L1345 209.3L1346 215.8L1346.9 222.4L1347.9 228.9L1348.9 235.5L1349.9 242.1L1350.8 237.7L1351.8 231.9L1352.8 226.1L1353.8 220.3L1354.7 214.5L1355.7 208.7L1356.7 202.9L1357.6 209L1358.6 215.1L1359.6 221.2L1360.6 227.2L1361.5 233.3L1362.5 237.5L1363.5 241.2L1371.1 239.9L1370.1 237L1369.1 233.4L1368.1 228L1367.2 221.8L1366.2 215.5L1365.2 209.3L1364.3 203L1363.3 196.8L1362.3 202.8L1361.3 208.7L1360.4 214.7L1359.4 220.7L1358.4 226.7L1357.4 232.7L1356.5 238.6L1355.5 236.5L1354.5 229.5L1353.6 222.5L1352.6 215.5L1351.6 208.4L1350.6 201.4L1349.7 194.4L1348.7 187.4L1347.7 180.3L1346.7 187.7L1345.8 195.1L1344.8 202.5L1343.8 209.8L1342.9 217.2L1341.9 224.6L1340.9 232L1339.9 234.9L1339 234.5L1338 234.1L1337 233.8L1336 231L1335.1 226.1L1334.1 221.2L1333.1 216.3L1332.2 211.4L1331.2 206.4L1330.2 201.5L1329.2 196.6L1328.3 191.7L1327.3 186.8L1326.3 181.9L1325.3 186.3L1324.4 190.7L1323.4 195.2L1322.4 199.6L1321.5 204.1L1320.5 208.5z"/>
<path class="w" d="M1308.2 228.1L1309.2 223.7L1310.2 219.3L1311.2 214.9L1312.1 210.4L1313.1 206L1314.1 201.6L1315 197.2L1316 192.7L1317 197.6L1318 202.5L1318.9 207.4L1319.9 212.3L1320.9 217.2L1321.9 222.1L1322.8 227L1323.8 231.9L1324.8 236.8L1325.7 241.7L1326.7 244L1327.7 244.3L1328.7 244.7L1329.6 242.8L1330.6 236.5L1331.6 230.2L1332.6 223.9L1333.5 217.6L1334.5 211.4L1335.5 205.1L1336.4 198.8L1337.4 204.9L1338.4 211L1339.4 217.1L1340.3 223.2L1341.3 229.2L1342.3 235.3L1343.3 241.4L1344.2 242.8L1345.2 237.3L1346.2 231.7L1347.1 226.2L1348.1 220.6L1349.1 215.1L1350.1 209.5L1351 215.4L1352 221.2L1353 227.1L1354 232.9L1354.9 238.8L1355.9 241.6L1356.9 245.4L1364.5 244.2L1363.5 241.2L1362.5 237.5L1361.5 233.3L1360.6 227.2L1359.6 221.2L1358.6 215.1L1357.6 209L1356.7 202.9L1355.7 208.7L1354.7 214.5L1353.8 220.3L1352.8 226.1L1351.8 231.9L1350.8 237.7L1349.9 242.1L1348.9 235.5L1347.9 228.9L1346.9 222.4L1346 215.8L1345 209.3L1344 202.7L1343.1 196.1L1342.1 189.6L1341.1 196.4L1340.1 203.2L1339.2 210.1L1338.2 216.9L1337.2 223.7L1336.2 230.6L1335.3 237.4L1334.3 239.8L1333.3 239.4L1332.4 239L1331.4 236.6L1330.4 231.7L1329.4 226.8L1328.5 221.8L1327.5 216.9L1326.5 212L1325.5 207.1L1324.6 202.2L1323.6 197.3L1322.6 192.4L1321.7 187.5L1320.7 191.9L1319.7 196.4L1318.7 200.8L1317.8 205.2L1316.8 209.7L1315.8 214.1z"/>
<path class="w" d="M1302.6 239.3L1303.6 234.7L1304.5 230.2L1305.5 225.7L1306.5 221.1L1307.5 216.6L1308.4 212L1309.4 207.5L1310.4 202.9L1311.4 198.4L1312.3 203.4L1313.3 208.4L1314.3 213.4L1315.2 218.4L1316.2 223.5L1317.2 228.5L1318.2 233.5L1319.1 238.5L1320.1 243.5L1321.1 248.5L1322.1 249.2L1323 249.6L1324 249.3L1325 243.4L1325.9 237.5L1326.9 231.5L1327.9 225.6L1328.9 219.7L1329.8 213.8L1330.8 207.9L1331.8 213.6L1332.8 219.4L1333.7 225.2L1334.7 231L1335.7 236.8L1336.6 242.5L1337.6 248.3L1338.6 243.5L1339.6 238.1L1340.5 232.8L1341.5 227.4L1342.5 222L1343.5 216.6L1344.4 222.3L1345.4 228L1346.4 233.7L1347.3 239.4L1348.3 245.1L1349.3 245.7L1350.3 249.6L1351.2 252.8L1358.8 250.9L1357.8 248.5L1356.9 245.4L1355.9 241.6L1354.9 238.8L1354 232.9L1353 227.1L1352 221.2L1351 215.4L1350.1 209.5L1349.1 215.1L1348.1 220.6L1347.1 226.2L1346.2 231.7L1345.2 237.3L1344.2 242.8L1343.3 241.4L1342.3 235.3L1341.3 229.2L1340.3 223.2L1339.4 217.1L1338.4 211L1337.4 204.9L1336.4 198.8L1335.5 205.1L1334.5 211.4L1333.5 217.6L1332.6 223.9L1331.6 230.2L1330.6 236.5L1329.6 242.8L1328.7 244.7L1327.7 244.3L1326.7 244L1325.7 241.7L1324.8 236.8L1323.8 231.9L1322.8 227L1321.9 222.1L1320.9 217.2L1319.9 212.3L1318.9 207.4L1318 202.5L1317 197.6L1316 192.7L1315 197.2L1314.1 201.6L1313.1 206L1312.1 210.4L1311.2 214.9L1310.2 219.3z"/>
<path class="w" d="M1297.9 246.1L1298.9 241.4L1299.9 236.7L1300.9 232.1L1301.8 227.4L1302.8 222.7L1303.8 218L1304.7 213.4L1305.7 208.7L1306.7 204L1307.7 209.2L1308.6 214.3L1309.6 219.4L1310.6 224.6L1311.6 229.7L1312.5 234.8L1313.5 240L1314.5 245.1L1315.4 250.2L1316.4 254.2L1317.4 254.5L1318.4 254.9L1319.3 250.1L1320.3 244.5L1321.3 239L1322.3 233.5L1323.2 227.9L1324.2 222.4L1325.2 216.8L1326.1 222.3L1327.1 227.7L1328.1 233.2L1329.1 238.7L1330 244.1L1331 249.6L1332 249.8L1333 244.7L1333.9 239.5L1334.9 234.4L1335.9 229.2L1336.8 224L1337.8 229.5L1338.8 235L1339.8 240.5L1340.7 246L1341.7 250.9L1342.7 249.8L1343.6 253.8L1344.6 257L1352.2 255.2L1351.2 252.8L1350.3 249.6L1349.3 245.7L1348.3 245.1L1347.3 239.4L1346.4 233.7L1345.4 228L1344.4 222.3L1343.5 216.6L1342.5 222L1341.5 227.4L1340.5 232.8L1339.6 238.1L1338.6 243.5L1337.6 248.3L1336.6 242.5L1335.7 236.8L1334.7 231L1333.7 225.2L1332.8 219.4L1331.8 213.6L1330.8 207.9L1329.8 213.8L1328.9 219.7L1327.9 225.6L1326.9 231.5L1325.9 237.5L1325 243.4L1324 249.3L1323 249.6L1322.1 249.2L1321.1 248.5L1320.1 243.5L1319.1 238.5L1318.2 233.5L1317.2 228.5L1316.2 223.5L1315.2 218.4L1314.3 213.4L1313.3 208.4L1312.3 203.4L1311.4 198.4L1310.4 202.9L1309.4 207.5L1308.4 212L1307.5 216.6L1306.5 221.1L1305.5 225.7z"/>
<path class="w" d="M1293.3 252.2L1294.2 248.2L1295.2 243.3L1296.2 238.5L1297.2 233.7L1298.1 228.9L1299.1 224.1L1300.1 219.3L1301.1 214.5L1302 209.7L1303 214.9L1304 220.2L1304.9 225.5L1305.9 230.7L1306.9 236L1307.9 241.2L1308.8 246.5L1309.8 251.8L1310.8 257L1311.8 259.4L1312.7 256.2L1313.7 251.1L1314.7 245.9L1315.6 240.8L1316.6 235.6L1317.6 230.4L1318.6 225.3L1319.5 230.4L1320.5 235.5L1321.5 240.7L1322.5 245.8L1323.4 250.9L1324.4 256L1325.4 256.1L1326.3 251.2L1327.3 246.4L1328.3 241.5L1329.3 236.6L1330.2 231.8L1331.2 237L1332.2 242.2L1333.1 247.4L1334.1 252.7L1335.1 256.1L1336.1 253.9L1337 258L1338 261.3L1345.6 259.6L1344.6 257L1343.6 253.8L1342.7 249.8L1341.7 250.9L1340.7 246L1339.8 240.5L1338.8 235L1337.8 229.5L1336.8 224L1335.9 229.2L1334.9 234.4L1333.9 239.5L1333 244.7L1332 249.8L1331 249.6L1330 244.1L1329.1 238.7L1328.1 233.2L1327.1 227.7L1326.1 222.3L1325.2 216.8L1324.2 222.4L1323.2 227.9L1322.3 233.5L1321.3 239L1320.3 244.5L1319.3 250.1L1318.4 254.9L1317.4 254.5L1316.4 254.2L1315.4 250.2L1314.5 245.1L1313.5 240L1312.5 234.8L1311.6 229.7L1310.6 224.6L1309.6 219.4L1308.6 214.3L1307.7 209.2L1306.7 204L1305.7 208.7L1304.7 213.4L1303.8 218L1302.8 222.7L1301.8 227.4L1300.9 232.1z"/>
<path class="w" d="M1289.6 255L1290.6 250L1291.5 245.1L1292.5 240.1L1293.5 235.1L1294.4 230.2L1295.4 225.2L1296.4 220.3L1297.4 215.3L1298.3 220.7L1299.3 226.1L1300.3 231.5L1301.3 236.9L1302.2 242.3L1303.2 247.7L1304.2 253.1L1305.1 258.5L1306.1 263.9L1307.1 262.6L1308.1 257.8L1309 253L1310 248.3L1311 243.5L1311.9 238.7L1312.9 233.9L1313.9 238.7L1314.9 243.5L1315.8 248.3L1316.8 253.1L1317.8 257.9L1318.8 262.7L1319.7 262.7L1320.7 258.2L1321.7 253.7L1322.6 249.1L1323.6 244.6L1324.6 240.1L1325.6 245L1326.5 249.9L1327.5 254.8L1328.5 259.7L1329.5 258.1L1330.4 262.2L1331.4 265.6L1339 263.9L1338 261.3L1337 258L1336.1 253.9L1335.1 256.1L1334.1 252.7L1333.1 247.4L1332.2 242.2L1331.2 237L1330.2 231.8L1329.3 236.6L1328.3 241.5L1327.3 246.4L1326.3 251.2L1325.4 256.1L1324.4 256L1323.4 250.9L1322.5 245.8L1321.5 240.7L1320.5 235.5L1319.5 230.4L1318.6 225.3L1317.6 230.4L1316.6 235.6L1315.6 240.8L1314.7 245.9L1313.7 251.1L1312.7 256.2L1311.8 259.4L1310.8 257L1309.8 251.8L1308.8 246.5L1307.9 241.2L1306.9 236L1305.9 230.7L1304.9 225.5L1304 220.2L1303 214.9L1302 209.7L1301.1 214.5L1300.1 219.3L1299.1 224.1L1298.1 228.9L1297.2 233.7z"/>
<path class="w" d="M1284.9 256.4L1285.9 251.3L1286.9 246.1L1287.8 241L1288.8 235.9L1289.8 230.8L1290.8 225.7L1291.7 220.5L1292.7 226.1L1293.7 231.7L1294.6 237.2L1295.6 242.8L1296.6 248.3L1297.6 253.9L1298.5 259.4L1299.5 265L1300.5 269.3L1301.4 268.8L1302.4 264.4L1303.4 260L1304.4 255.6L1305.3 251.2L1306.3 246.8L1307.3 242.4L1308.3 246.8L1309.2 251.3L1310.2 255.8L1311.2 260.3L1312.1 264.8L1313.1 268.9L1314.1 264.7L1315.1 260.6L1316 256.5L1317 252.3L1318 248.2L1319 252.7L1319.9 257.3L1320.9 261.8L1321.9 266.4L1322.8 263.2L1323.8 266.4L1324.8 269.8L1332.4 268.2L1331.4 265.6L1330.4 262.2L1329.5 258.1L1328.5 259.7L1327.5 254.8L1326.5 249.9L1325.6 245L1324.6 240.1L1323.6 244.6L1322.6 249.1L1321.7 253.7L1320.7 258.2L1319.7 262.7L1318.8 262.7L1317.8 257.9L1316.8 253.1L1315.8 248.3L1314.9 243.5L1313.9 238.7L1312.9 233.9L1311.9 238.7L1311 243.5L1310 248.3L1309 253L1308.1 257.8L1307.1 262.6L1306.1 263.9L1305.1 258.5L1304.2 253.1L1303.2 247.7L1302.2 242.3L1301.3 236.9L1300.3 231.5L1299.3 226.1L1298.3 220.7L1297.4 215.3L1296.4 220.3L1295.4 225.2L1294.4 230.2L1293.5 235.1L1292.5 240.1z"/>
<path class="w" d="M1279.3 268.1L1280.2 263.2L1281.2 257.9L1282.2 252.6L1283.2 247.4L1284.1 242.1L1285.1 236.8L1286.1 231.5L1287.1 226.2L1288 231.9L1289 237.6L1290 243.3L1290.9 249.1L1291.9 254.8L1292.9 260.5L1293.9 266.2L1294.8 271.9L1295.8 274.6L1296.8 270.8L1297.8 266.7L1298.7 262.7L1299.7 258.6L1300.7 254.6L1301.6 250.6L1302.6 254.7L1303.6 258.9L1304.6 263.1L1305.5 267.2L1306.5 271.4L1307.5 271.2L1308.5 267.5L1309.4 263.7L1310.4 260L1311.4 256.3L1312.3 260.5L1313.3 264.6L1314.3 268.8L1315.3 271.8L1316.2 268.5L1317.2 270.5L1318.2 274L1325.8 272.5L1324.8 269.8L1323.8 266.4L1322.8 263.2L1321.9 266.4L1320.9 261.8L1319.9 257.3L1319 252.7L1318 248.2L1317 252.3L1316 256.5L1315.1 260.6L1314.1 264.7L1313.1 268.9L1312.1 264.8L1311.2 260.3L1310.2 255.8L1309.2 251.3L1308.3 246.8L1307.3 242.4L1306.3 246.8L1305.3 251.2L1304.4 255.6L1303.4 260L1302.4 264.4L1301.4 268.8L1300.5 269.3L1299.5 265L1298.5 259.4L1297.6 253.9L1296.6 248.3L1295.6 242.8L1294.6 237.2L1293.7 231.7L1292.7 226.1L1291.7 220.5L1290.8 225.7L1289.8 230.8L1288.8 235.9L1287.8 241L1286.9 246.1z"/>
<path class="w" d="M1274.6 273.4L1275.6 270.2L1276.6 264.7L1277.5 259.3L1278.5 253.8L1279.5 248.4L1280.4 242.9L1281.4 237.4L1282.4 232L1283.4 237.9L1284.3 243.7L1285.3 249.6L1286.3 255.5L1287.3 261.3L1288.2 267.2L1289.2 273.1L1290.2 276.6L1291.1 272.9L1292.1 269.2L1293.1 265.5L1294.1 261.8L1295 258.1L1296 262L1297 265.9L1298 269.7L1298.9 273.6L1299.9 277.5L1300.9 277.4L1301.8 274.2L1302.8 271L1303.8 267.7L1304.8 264.5L1305.7 268.2L1306.7 271.9L1307.7 275.6L1308.7 277L1309.6 273.7L1310.6 274.7L1311.6 278.3L1319.2 276.8L1318.2 274L1317.2 270.5L1316.2 268.5L1315.3 271.8L1314.3 268.8L1313.3 264.6L1312.3 260.5L1311.4 256.3L1310.4 260L1309.4 263.7L1308.5 267.5L1307.5 271.2L1306.5 271.4L1305.5 267.2L1304.6 263.1L1303.6 258.9L1302.6 254.7L1301.6 250.6L1300.7 254.6L1299.7 258.6L1298.7 262.7L1297.8 266.7L1296.8 270.8L1295.8 274.6L1294.8 271.9L1293.9 266.2L1292.9 260.5L1291.9 254.8L1290.9 249.1L1290 243.3L1289 237.6L1288 231.9L1287.1 226.2L1286.1 231.5L1285.1 236.8L1284.1 242.1L1283.2 247.4L1282.2 252.6z"/>
<path class="w" d="M1269.9 278.7L1270.9 277.2L1271.9 271.6L1272.9 266L1273.8 260.4L1274.8 254.8L1275.8 249.1L1276.8 243.5L1277.7 237.9L1278.7 243.9L1279.7 249.9L1280.6 256L1281.6 262L1282.6 268L1283.6 274L1284.5 280.1L1285.5 279.2L1286.5 275.9L1287.5 272.5L1288.4 269.2L1289.4 265.8L1290.4 269.4L1291.3 273L1292.3 276.6L1293.3 280.1L1294.3 283.6L1295.2 280.8L1296.2 278.1L1297.2 275.3L1298.2 272.6L1299.1 275.8L1300.1 279.1L1301.1 282.4L1302 282.2L1303 278.9L1304 278.8L1305 282.5L1312.5 281.1L1311.6 278.3L1310.6 274.7L1309.6 273.7L1308.7 277L1307.7 275.6L1306.7 271.9L1305.7 268.2L1304.8 264.5L1303.8 267.7L1302.8 271L1301.8 274.2L1300.9 277.4L1299.9 277.5L1298.9 273.6L1298 269.7L1297 265.9L1296 262L1295 258.1L1294.1 261.8L1293.1 265.5L1292.1 269.2L1291.1 272.9L1290.2 276.6L1289.2 273.1L1288.2 267.2L1287.3 261.3L1286.3 255.5L1285.3 249.6L1284.3 243.7L1283.4 237.9L1282.4 232L1281.4 237.4L1280.4 242.9L1279.5 248.4L1278.5 253.8L1277.5 259.3z"/>
<path class="w" d="M1266.3 284.4L1267.2 278.6L1268.2 272.8L1269.2 267L1270.1 261.2L1271.1 255.4L1272.1 249.6L1273.1 243.8L1274 250L1275 256.2L1276 262.4L1277 268.6L1277.9 274.8L1278.9 281L1279.9 285.4L1280.8 282.4L1281.8 279.3L1282.8 276.3L1283.8 273.2L1284.7 276.5L1285.7 279.9L1286.7 283.2L1287.7 286.5L1288.6 287.2L1289.6 285L1290.6 282.8L1291.5 280.5L1292.5 283.3L1293.5 286.1L1294.5 288.9L1295.4 287.3L1296.4 284.2L1297.4 283L1298.4 286.7L1305.9 285.4L1305 282.5L1304 278.8L1303 278.9L1302 282.2L1301.1 282.4L1300.1 279.1L1299.1 275.8L1298.2 272.6L1297.2 275.3L1296.2 278.1L1295.2 280.8L1294.3 283.6L1293.3 280.1L1292.3 276.6L1291.3 273L1290.4 269.4L1289.4 265.8L1288.4 269.2L1287.5 272.5L1286.5 275.9L1285.5 279.2L1284.5 280.1L1283.6 274L1282.6 268L1281.6 262L1280.6 256L1279.7 249.9L1278.7 243.9L1277.7 237.9L1276.8 243.5L1275.8 249.1L1274.8 254.8L1273.8 260.4z"/>
<path class="w" d="M1261.6 285.3L1262.6 279.3L1263.5 273.3L1264.5 267.3L1265.5 261.3L1266.5 255.3L1267.4 249.3L1268.4 255.7L1269.4 262.1L1270.3 268.5L1271.3 274.8L1272.3 281.2L1273.3 287.6L1274.2 291.4L1275.2 288.6L1276.2 285.8L1277.2 283.1L1278.1 280.3L1279.1 283.4L1280.1 286.5L1281 289.5L1282 292.6L1283 291.7L1284 290L1284.9 288.3L1285.9 290.6L1286.9 292.9L1287.9 295.2L1288.8 292.5L1289.8 289.4L1290.8 287.2L1291.7 291L1292.7 294L1300.3 292.1L1299.3 289.7L1298.4 286.7L1297.4 283L1296.4 284.2L1295.4 287.3L1294.5 288.9L1293.5 286.1L1292.5 283.3L1291.5 280.5L1290.6 282.8L1289.6 285L1288.6 287.2L1287.7 286.5L1286.7 283.2L1285.7 279.9L1284.7 276.5L1283.8 273.2L1282.8 276.3L1281.8 279.3L1280.8 282.4L1279.9 285.4L1278.9 281L1277.9 274.8L1277 268.6L1276 262.4L1275 256.2L1274 250L1273.1 243.8L1272.1 249.6L1271.1 255.4L1270.1 261.2L1269.2 267z"/>
<path class="w" d="M1256 294.6L1256.9 292.5L1257.9 286.3L1258.9 280.1L1259.8 273.9L1260.8 267.7L1261.8 261.5L1262.8 255.3L1263.7 261.8L1264.7 268.4L1265.7 275L1266.7 281.6L1267.6 288.1L1268.6 294.7L1269.6 294.7L1270.5 292.1L1271.5 289.6L1272.5 287L1273.5 289.9L1274.4 292.8L1275.4 295.7L1276.4 298.6L1277.4 298.5L1278.3 297.3L1279.3 296.1L1280.3 297.9L1281.2 299.8L1282.2 297.6L1283.2 294.5L1284.2 291.5L1285.1 295.2L1286.1 298.3L1293.7 296.4L1292.7 294L1291.7 291L1290.8 287.2L1289.8 289.4L1288.8 292.5L1287.9 295.2L1286.9 292.9L1285.9 290.6L1284.9 288.3L1284 290L1283 291.7L1282 292.6L1281 289.5L1280.1 286.5L1279.1 283.4L1278.1 280.3L1277.2 283.1L1276.2 285.8L1275.2 288.6L1274.2 291.4L1273.3 287.6L1272.3 281.2L1271.3 274.8L1270.3 268.5L1269.4 262.1L1268.4 255.7L1267.4 249.3L1266.5 255.3L1265.5 261.3L1264.5 267.3L1263.5 273.3z"/>
<path class="w" d="M1251.3 299.8L1252.3 299.8L1253.2 293.4L1254.2 286.9L1255.2 280.5L1256.2 274L1257.1 267.6L1258.1 261.2L1259.1 268L1260 274.8L1261 281.6L1262 288.4L1263 295.2L1263.9 297.8L1264.9 295.4L1265.9 293.1L1266.9 295.8L1267.8 298.5L1268.8 301.3L1269.8 304L1270.7 303.9L1271.7 303L1272.7 302L1273.7 303.6L1274.6 305.2L1275.6 302.8L1276.6 299.7L1277.6 296.7L1278.5 299.4L1279.5 302.6L1287.1 300.8L1286.1 298.3L1285.1 295.2L1284.2 291.5L1283.2 294.5L1282.2 297.6L1281.2 299.8L1280.3 297.9L1279.3 296.1L1278.3 297.3L1277.4 298.5L1276.4 298.6L1275.4 295.7L1274.4 292.8L1273.5 289.9L1272.5 287L1271.5 289.6L1270.5 292.1L1269.6 294.7L1268.6 294.7L1267.6 288.1L1266.7 281.6L1265.7 275L1264.7 268.4L1263.7 261.8L1262.8 255.3L1261.8 261.5L1260.8 267.7L1259.8 273.9L1258.9 280.1z"/>
<path class="w" d="M1247.6 305.5L1248.6 300.6L1249.5 293.9L1250.5 287.2L1251.5 280.5L1252.5 273.8L1253.4 267.1L1254.4 274.1L1255.4 281.2L1256.4 288.2L1257.3 295.2L1258.3 301.9L1259.3 298.9L1260.2 295.9L1261.2 299.2L1262.2 302.5L1263.2 305.7L1264.1 307L1265.1 305.2L1266.1 303.4L1267.1 305.8L1268 308.1L1269 307.9L1270 304.9L1270.9 301.9L1271.9 303.6L1272.9 306.9L1280.5 305.1L1279.5 302.6L1278.5 299.4L1277.6 296.7L1276.6 299.7L1275.6 302.8L1274.6 305.2L1273.7 303.6L1272.7 302L1271.7 303L1270.7 303.9L1269.8 304L1268.8 301.3L1267.8 298.5L1266.9 295.8L1265.9 293.1L1264.9 295.4L1263.9 297.8L1263 295.2L1262 288.4L1261 281.6L1260 274.8L1259.1 268L1258.1 261.2L1257.1 267.6L1256.2 274L1255.2 280.5z"/>
<path class="w" d="M1242.9 310.8L1243.9 307.9L1244.9 301L1245.9 294L1246.8 287L1247.8 280L1248.8 273L1249.7 280.3L1250.7 287.6L1251.7 294.9L1252.7 302.3L1253.6 301.8L1254.6 297.9L1255.6 302L1256.6 306L1257.5 310L1258.5 307.5L1259.5 304.8L1260.4 308L1261.4 311.2L1262.4 313L1263.4 310L1264.3 307.1L1265.3 307.8L1266.3 311.1L1273.9 309.5L1272.9 306.9L1271.9 303.6L1270.9 301.9L1270 304.9L1269 307.9L1268 308.1L1267.1 305.8L1266.1 303.4L1265.1 305.2L1264.1 307L1263.2 305.7L1262.2 302.5L1261.2 299.2L1260.2 295.9L1259.3 298.9L1258.3 301.9L1257.3 295.2L1256.4 288.2L1255.4 281.2L1254.4 274.1L1253.4 267.1L1252.5 273.8L1251.5 280.5L1250.5 287.2z"/>
<path class="w" d="M1238.3 316.1L1239.2 314.8L1240.2 307.6L1241.2 300.4L1242.2 293.3L1243.1 286.1L1244.1 278.9L1245.1 286.4L1246 293.9L1247 301.4L1248 304.7L1249 299.9L1249.9 304.8L1250.9 309.6L1251.9 309.8L1252.9 306.2L1253.8 310.3L1254.8 314.3L1255.8 318.1L1256.7 315.2L1257.7 312.3L1258.7 312L1259.7 315.4L1267.2 313.8L1266.3 311.1L1265.3 307.8L1264.3 307.1L1263.4 310L1262.4 313L1261.4 311.2L1260.4 308L1259.5 304.8L1258.5 307.5L1257.5 310L1256.6 306L1255.6 302L1254.6 297.9L1253.6 301.8L1252.7 302.3L1251.7 294.9L1250.7 287.6L1249.7 280.3L1248.8 273L1247.8 280L1246.8 287L1245.9 294z"/>
<path class="w" d="M1233.6 321.3L1234.6 314L1235.5 306.6L1236.5 299.2L1237.5 291.8L1238.5 284.4L1239.4 292.1L1240.4 299.8L1241.4 307.4L1242.4 301.6L1243.3 307.2L1244.3 312.9L1245.3 312.2L1246.2 307.6L1247.2 312.6L1248.2 317.6L1249.2 322.6L1250.1 320.9L1251.1 318.2L1252.1 317.1L1253.1 320.4L1260.6 318.1L1259.7 315.4L1258.7 312L1257.7 312.3L1256.7 315.2L1255.8 318.1L1254.8 314.3L1253.8 310.3L1252.9 306.2L1251.9 309.8L1250.9 309.6L1249.9 304.8L1249 299.9L1248 304.7L1247 301.4L1246 293.9L1245.1 286.4L1244.1 278.9L1243.1 286.1L1242.2 293.3L1241.2 300.4z"/>
<path class="w" d="M1228 326.3L1228.9 326.7L1229.9 320.8L1230.9 313.2L1231.9 305.6L1232.8 298L1233.8 290.3L1234.8 298.2L1235.7 306.1L1236.7 303.6L1237.7 310.2L1238.7 314.7L1239.6 309.1L1240.6 315L1241.6 321L1242.6 327L1243.5 327.6L1244.5 325.8L1245.5 324.4L1246.4 327L1254 323L1253.1 320.4L1252.1 317.1L1251.1 318.2L1250.1 320.9L1249.2 322.6L1248.2 317.6L1247.2 312.6L1246.2 307.6L1245.3 312.2L1244.3 312.9L1243.3 307.2L1242.4 301.6L1241.4 307.4L1240.4 299.8L1239.4 292.1L1238.5 284.4L1237.5 291.8L1236.5 299.2L1235.5 306.6z"/>
<path class="w" d="M1224.3 332L1225.2 327.7L1226.2 319.8L1227.2 312L1228.2 304.1L1229.1 296.3L1230.1 304.4L1231.1 305.6L1232.1 313.2L1233 317.7L1234 310.9L1235 317.9L1242.6 327L1241.6 321L1240.6 315L1239.6 309.1L1238.7 314.7L1237.7 310.2L1236.7 303.6L1235.7 306.1L1234.8 298.2L1233.8 290.3L1232.8 298L1231.9 305.6z"/>
<path class="w" d="M1219.6 337.3L1220.6 334.6L1221.6 326.5L1222.5 318.4L1223.5 310.3L1224.5 302.2L1225.4 307.6L1226.4 316.3L1227.4 312.3L1228.4 320.6L1235.9 325L1235 317.9L1234 310.9L1233 317.7L1232.1 313.2L1231.1 305.6L1230.1 304.4L1229.1 296.3L1228.2 304.1L1227.2 312z"/>
<path class="w" d="M1214.9 342.5L1215.9 341.7L1216.9 333.3L1217.9 324.9L1218.8 316.5L1219.8 308.1L1220.8 313.7L1221.8 323.3L1229.3 328.9L1228.4 320.6L1227.4 312.3L1226.4 316.3L1225.4 307.6L1224.5 302.2L1223.5 310.3L1222.5 318.4z"/>
<path class="k9 n" d="M1470 169.1L1473.1 166.2L1476.1 162.3L1479.2 158.4L1482.3 154.4"/>
<path class="k9 n" d="M1462.3 174.7L1465.3 171.3L1468.4 167.4L1471.5 163.5"/>
<path class="k10 n" d="M1471.5 163.5L1474.5 159.6L1477.6 155.6L1480.7 151.6L1483.7 147.7"/>
<path class="k9 n" d="M1454.5 180.3L1457.6 176.5L1460.7 172.6L1463.7 168.7"/>
<path class="k10 n" d="M1463.7 168.7L1466.8 164.8L1469.9 160.8L1472.9 156.9L1476 152.9L1479 148.9"/>
<path class="k11 n" d="M1479 148.9L1482.1 145.9L1485.2 146.4"/>
<path class="k9 n" d="M1446.8 185.4L1449.9 181.6L1452.9 177.7L1456 173.8"/>
<path class="k10 n" d="M1456 173.8L1459.1 169.9L1462.1 166L1465.2 162.1L1468.3 158.2L1471.3 154.2L1474.4 152.2L1477.4 152.7L1480.5 153.1L1483.6 153.2L1486.6 153.1"/>
<path class="k9 n" d="M1436 193.2L1439.1 190.5L1442.1 186.7L1445.2 182.9L1448.3 179M1485 158.4L1488.1 157.7"/>
<path class="k10 n" d="M1448.3 179L1451.3 175.1L1454.4 171.3L1457.5 167.4L1460.5 163.4L1463.6 159.5L1466.6 158.6L1469.7 159L1472.8 159.3L1475.8 159.3L1478.9 159.2L1482 158.8L1485 158.4"/>
<path class="k9 n" d="M1428.3 198.8L1431.3 195.6L1434.4 191.8L1437.5 188L1440.5 184.2M1477.3 164.3L1480.4 163.6L1483.4 162.8L1486.5 161.9L1489.6 160.9"/>
<path class="k10 n" d="M1440.5 184.2L1443.6 180.4L1446.7 176.5L1449.7 172.6L1452.8 168.7L1455.9 164.8L1458.9 164.9L1462 165.3L1465 165.5L1468.1 165.4L1471.2 165.2L1474.2 164.8L1477.3 164.3"/>
<path class="k9 n" d="M1420.5 204.4L1423.6 200.8L1426.7 197L1429.7 193.2M1469.6 170.2L1472.6 169.5L1475.7 168.7L1478.8 167.7L1481.8 166.7L1484.9 165.6L1487.9 164.4L1491 163.1"/>
<path class="k10 n" d="M1429.7 193.2L1432.8 189.4L1435.9 185.6L1438.9 181.8L1442 177.9L1445.1 174L1448.1 170.8L1451.2 171.2L1454.2 171.5L1457.3 171.6L1460.4 171.5L1463.4 171.3L1466.5 170.8L1469.6 170.2"/>
<path class="k9 n" d="M1412.8 209.6L1415.9 205.9L1418.9 202.2L1422 198.4M1458.8 176.8L1461.8 176.2L1464.9 175.4L1468 174.5L1471 173.6L1474.1 172.5L1477.2 171.3L1480.2 170.1L1483.3 168.8L1486.3 167.5L1489.4 166.1L1492.5 164.7"/>
<path class="k10 n" d="M1422 198.4L1425.1 194.6L1428.1 190.8L1431.2 187L1434.3 183.2L1437.3 179.3L1440.4 177.1L1443.5 177.5L1446.5 177.7L1449.6 177.8L1452.6 177.6L1455.7 177.3L1458.8 176.8"/>
<path class="k9 n" d="M1405.1 214.8L1408.1 211.1L1411.2 207.3L1414.3 203.6M1451 182.8L1454.1 182.1L1457.2 181.3L1460.2 180.4L1463.3 179.4L1466.4 178.3L1469.4 177.1L1472.5 175.9L1475.5 174.6L1478.6 173.2L1481.7 171.8L1484.7 170.1L1487.8 168.2L1490.9 166.4L1493.9 164.7"/>
<path class="k10 n" d="M1414.3 203.6L1417.3 199.9L1420.4 196.1L1423.5 192.3L1426.5 188.5L1429.6 184.7L1432.7 183.4L1435.7 183.8L1438.8 183.9L1441.8 183.9L1444.9 183.7L1448 183.3L1451 182.8"/>
<path class="k9 n" d="M1394.3 222.9L1397.4 219.9L1400.4 216.2L1403.5 212.5L1406.5 208.8M1443.3 188.7L1446.4 188L1449.4 187.1L1452.5 186.2L1455.6 185.2L1458.6 184L1461.7 182.8L1464.8 181.6L1467.8 180.3L1470.9 178.8L1473.9 176.4L1477 174L1480.1 171.5L1483.1 169.1L1486.2 166.7L1489.3 164.5L1492.3 162.4L1495.4 160.6"/>
<path class="k10 n" d="M1406.5 208.8L1409.6 205.1L1412.7 201.3L1415.7 197.6L1418.8 193.8L1421.9 190L1424.9 189.7L1428 190L1431.1 190.1L1434.1 190L1437.2 189.7L1440.2 189.3L1443.3 188.7"/>
<path class="k9 n" d="M1386.6 228.5L1389.6 225.1L1392.7 221.4L1395.7 217.7L1398.8 214.1M1432.5 195.3L1435.6 194.6L1438.6 193.9L1441.7 193L1444.8 192L1447.8 191L1450.9 189.8L1454 188.6L1457 187.3L1460.1 186L1463.1 184.6L1466.2 183L1469.3 180.5L1472.3 177.9L1475.4 175.1L1478.5 172.1L1481.5 169.1"/>
<path class="k10 n" d="M1398.8 214.1L1401.9 210.3L1404.9 206.6L1408 202.9L1411.1 199.1L1414.1 195.7L1417.2 196L1420.3 196.3L1423.3 196.3L1426.4 196.1L1429.4 195.8L1432.5 195.3M1481.5 169.1L1484.6 166.2L1487.7 163.3L1490.7 160.7L1493.8 158.4L1496.8 156.5"/>
<path class="k9 n" d="M1378.8 233.9L1381.9 230.2L1385 226.6L1388 223M1424.8 201.2L1427.8 200.6L1430.9 199.8L1434 198.8L1437 197.8L1440.1 196.7L1443.2 195.6L1446.2 194.3L1449.3 193L1452.4 191.7L1455.4 190.3L1458.5 188.9L1461.5 187.4L1464.6 185.3L1467.7 182.8L1470.7 180L1473.8 177L1476.9 173.7"/>
<path class="k10 n" d="M1388 223L1391.1 219.3L1394.1 215.6L1397.2 211.9L1400.3 208.2L1403.3 204.5L1406.4 202L1409.5 202.3L1412.5 202.5L1415.6 202.4L1418.7 202.2L1421.7 201.8L1424.8 201.2M1476.9 173.7L1479.9 170.3L1483 166.7L1486.1 163.2L1489.1 159.9L1492.2 156.9L1495.2 154.4L1498.3 152.4"/>
<path class="k9 n" d="M1371.1 239L1374.2 235.4L1377.2 231.8L1380.3 228.2M1417 207.2L1420.1 206.5L1423.2 205.6L1426.2 204.7L1429.3 203.6L1432.4 202.5L1435.4 201.3L1438.5 200.1L1441.6 198.8L1444.6 197.4L1447.7 196L1450.7 194.6L1453.8 193.1L1456.9 191.6L1459.9 190.1"/>
<path class="k10 n" d="M1380.3 228.2L1383.3 224.5L1386.4 220.9L1389.5 217.2L1392.5 213.5L1395.6 209.8L1398.7 208.3L1401.7 208.6L1404.8 208.6L1407.9 208.5L1410.9 208.2L1414 207.8L1417 207.2"/>
<path class="k9 n" d="M1459.9 190.1L1463 187.8L1466.1 185.4L1469.1 182.6L1472.2 179.5L1475.3 176.1"/>
<path class="k10 n" d="M1475.3 176.1L1478.3 172.4L1481.4 168.4L1484.4 164.3L1487.5 160.3L1490.6 156.5"/>
<path class="k11 n" d="M1490.6 156.5L1493.6 153.1L1496.7 150.4L1499.8 148.3"/>
<path class="k9 n" d="M1360.3 247L1363.4 244.2L1366.4 240.6L1369.5 237L1372.6 233.4M1406.3 213.8L1409.3 213.1L1412.4 212.4L1415.4 211.5L1418.5 210.5L1421.6 209.4L1424.6 208.3L1427.7 207.1L1430.8 205.8L1433.8 204.5L1436.9 203.1L1440 201.7L1443 200.2L1446.1 198.7L1449.1 197.2L1452.2 195.7"/>
<path class="k10 n" d="M1372.6 233.4L1375.6 229.8L1378.7 226.2L1381.7 222.5L1384.8 218.8L1387.9 215.2L1390.9 214.6L1394 214.8L1397.1 214.8L1400.1 214.6L1403.2 214.3L1406.3 213.8"/>
<path class="k9 n" d="M1461.4 190.9L1464.5 188.8L1467.5 186.6L1470.6 184.1L1473.7 181.4L1476.7 178.5L1479.8 175.3L1482.8 172"/>
<path class="k10 n" d="M1482.8 172L1485.9 168.5L1489 165.1L1492 161.9L1495.1 159L1498.2 156.5L1501.2 154.6"/>
<path class="k9 n" d="M1352.6 252.6L1355.6 249.4L1358.7 245.8L1361.8 242.3L1364.8 238.7M1398.5 219.7L1401.6 219.1L1404.6 218.2L1407.7 217.3L1410.8 216.3L1413.8 215.2L1416.9 214L1420 212.8L1423 211.5L1426.1 210.2L1429.2 208.8L1432.2 207.4L1435.3 205.9L1438.3 204.4L1441.4 202.9L1444.5 201.4"/>
<path class="k10 n" d="M1364.8 238.7L1367.9 235.1L1370.9 231.5L1374 227.8L1377.1 224.2L1380.1 220.6L1383.2 220.9L1386.3 221L1389.3 220.9L1392.4 220.7L1395.5 220.3L1398.5 219.7"/>
<path class="k9 n" d="M1465.9 189.7L1469 187.7L1472 185.4L1475.1 183.1L1478.2 180.5L1481.2 177.8L1484.3 175L1487.4 172.1L1490.4 169.3"/>
<path class="k10 n" d="M1490.4 169.3L1493.5 166.5L1496.6 164L1499.6 161.8L1502.7 159.9"/>
<path class="k9 n" d="M1344.8 258.1L1347.9 254.6L1351 251L1354 247.5L1357.1 243.9M1390.8 225.7L1393.9 225L1396.9 224.1L1400 223.2L1403 222.1L1406.1 221L1409.2 219.8L1412.2 218.5L1415.3 217.2L1418.4 215.9L1421.4 214.5L1424.5 213L1427.6 211.6L1430.6 210.1L1433.7 208.5"/>
<path class="k10 n" d="M1357.1 243.9L1360.2 240.4L1363.2 236.8L1366.3 233.2L1369.3 229.6L1372.4 226.9L1375.5 227.1L1378.5 227.2L1381.6 227L1384.7 226.7L1387.7 226.3L1390.8 225.7"/>
<path class="k9 n" d="M1470.4 188.6L1473.5 186.6L1476.6 184.4L1479.6 182.1L1482.7 179.8L1485.8 177.3L1488.8 174.8L1491.9 172.3L1495 169.9L1498 167.7L1501.1 165.6L1504.1 163.8"/>
<path class="k9 n" d="M1337.1 263.3L1340.2 259.8L1343.2 256.3L1346.3 252.8L1349.4 249.2M1380 232.3L1383.1 231.6L1386.1 230.9L1389.2 230L1392.2 229L1395.3 227.9L1398.4 226.8L1401.4 225.5L1404.5 224.3L1407.6 222.9L1410.6 221.6L1413.7 220.2L1416.8 218.7L1419.8 217.2L1422.9 215.7L1425.9 214.2"/>
<path class="k10 n" d="M1349.4 249.2L1352.4 245.7L1355.5 242.1L1358.5 238.5L1361.6 234.9L1364.7 233.2L1367.7 233.3L1370.8 233.3L1373.9 233.1L1376.9 232.8L1380 232.3"/>
<path class="k9 n" d="M1475 187.5L1478 185.5L1481.1 183.4L1484.2 181.3L1487.2 179.1L1490.3 176.8L1493.3 174.6L1496.4 172.5L1499.5 170.4L1502.5 168.5L1505.6 166.7"/>
<path class="k9 n" d="M1329.4 268.4L1332.4 265L1335.5 261.5L1338.6 258M1372.3 238.2L1375.3 237.5L1378.4 236.7L1381.5 235.8L1384.5 234.8L1387.6 233.7L1390.6 232.5L1393.7 231.3L1396.8 230L1399.8 228.7L1402.9 227.3L1406 225.8L1409 224.4L1412.1 222.9L1415.2 221.4L1418.2 219.8"/>
<path class="k10 n" d="M1338.6 258L1341.6 254.5L1344.7 251L1347.8 247.4L1350.8 243.9L1353.9 240.3L1356.9 239.5L1360 239.5L1363.1 239.5L1366.1 239.2L1369.2 238.8L1372.3 238.2"/>
<path class="k9 n" d="M1479.5 186.4L1482.6 184.5L1485.6 182.5L1488.7 180.5L1491.7 178.4L1494.8 176.4L1497.9 174.4L1500.9 172.4L1504 170.6L1507.1 168.8"/>
<path class="k9 n" d="M1318.6 276.7L1321.6 273.7L1324.7 270.2L1327.8 266.8L1330.8 263.3M1364.5 244.2L1367.6 243.5L1370.7 242.6L1373.7 241.7L1376.8 240.6L1379.8 239.5L1382.9 238.3L1386 237L1389 235.7L1392.1 234.4L1395.2 233L1398.2 231.5L1401.3 230L1404.4 228.5L1407.4 227"/>
<path class="k10 n" d="M1330.8 263.3L1333.9 259.8L1337 256.3L1340 252.8L1343.1 249.3L1346.1 245.7L1349.2 245.7L1352.3 245.7L1355.3 245.6L1358.4 245.3L1361.5 244.8L1364.5 244.2"/>
<path class="k9 n" d="M1487.1 183.5L1490.1 181.6L1493.2 179.7L1496.3 177.7L1499.3 175.8L1502.4 174L1505.5 172.2L1508.5 170.5"/>
<path class="k9 n" d="M1310.8 282.3L1313.9 278.9L1317 275.5L1320 272L1323.1 268.6M1353.7 250.8L1356.8 250.1L1359.9 249.4L1362.9 248.5L1366 247.5L1369.1 246.4L1372.1 245.3L1375.2 244L1378.2 242.8L1381.3 241.4L1384.4 240.1L1387.4 238.6L1390.5 237.2L1393.6 235.7L1396.6 234.2L1399.7 232.7"/>
<path class="k10 n" d="M1323.1 268.6L1326.2 265.1L1329.2 261.7L1332.3 258.2L1335.4 254.6L1338.4 251.9L1341.5 251.9L1344.5 251.9L1347.6 251.7L1350.7 251.3L1353.7 250.8"/>
<path class="k9 n" d="M1494.7 180.7L1497.7 178.8L1500.8 177L1503.9 175.2L1506.9 173.5L1510 171.8"/>
<path class="k9 n" d="M1303.1 287.5L1306.2 284.1L1309.2 280.7L1312.3 277.3L1315.4 273.9M1346 256.8L1349.1 256.1L1352.1 255.2L1355.2 254.3L1358.3 253.3L1361.3 252.2L1364.4 251L1367.4 249.8L1370.5 248.5L1373.6 247.1L1376.6 245.7L1379.7 244.3L1382.8 242.9L1385.8 241.4L1388.9 239.9L1392 238.3"/>
<path class="k10 n" d="M1315.4 273.9L1318.4 270.5L1321.5 267L1324.6 263.5L1327.6 260L1330.7 258.1L1333.7 258.1L1336.8 258L1339.9 257.8L1342.9 257.3L1346 256.8"/>
<path class="k9 n" d="M1295.4 292.7L1298.4 289.3L1301.5 286L1304.6 282.6L1307.6 279.2M1338.3 262.7L1341.3 262L1344.4 261.1L1347.5 260.2L1350.5 259.1L1353.6 258L1356.7 256.8L1359.7 255.5L1362.8 254.2L1365.8 252.8L1368.9 251.4L1372 250L1375 248.5L1378.1 247L1381.2 245.5"/>
<path class="k10 n" d="M1307.6 279.2L1310.7 275.8L1313.8 272.4L1316.8 268.9L1319.9 265.4L1323 264.3L1326 264.3L1329.1 264.1L1332.1 263.8L1335.2 263.3L1338.3 262.7"/>
<path class="k9 n" d="M1284.6 300.8L1287.6 297.9L1290.7 294.6L1293.8 291.3L1296.8 287.9L1299.9 284.5M1327.5 269.3L1330.5 268.7L1333.6 267.9L1336.7 267L1339.7 266L1342.8 264.9L1345.9 263.8L1348.9 262.5L1352 261.2L1355 259.9L1358.1 258.5L1361.2 257.1L1364.2 255.7L1367.3 254.2L1370.4 252.7L1373.4 251.2"/>
<path class="k10 n" d="M1299.9 284.5L1303 281.1L1306 277.7L1309.1 274.3L1312.2 270.9L1315.2 270.6L1318.3 270.5L1321.3 270.3L1324.4 269.9L1327.5 269.3"/>
<path class="k9 n" d="M1276.9 306.4L1279.9 303.2L1283 299.9L1286 296.6L1289.1 293.2M1319.7 275.3L1322.8 274.6L1325.9 273.8L1328.9 272.8L1332 271.8L1335.1 270.7L1338.1 269.5L1341.2 268.3L1344.3 267L1347.3 265.6L1350.4 264.2L1353.4 262.8L1356.5 261.3L1359.6 259.9L1362.6 258.3L1365.7 256.8"/>
<path class="k10 n" d="M1289.1 293.2L1292.2 289.9L1295.2 286.5L1298.3 283.1L1301.4 279.7L1304.4 276.8L1307.5 276.8L1310.6 276.6L1313.6 276.3L1316.7 275.9L1319.7 275.3"/>
<path class="k9 n" d="M1269.1 311.7L1272.2 308.4L1275.2 305.1L1278.3 301.9L1281.4 298.5M1312 281.3L1315.1 280.5L1318.1 279.6L1321.2 278.7L1324.3 277.6L1327.3 276.5L1330.4 275.3L1333.5 274L1336.5 272.7L1339.6 271.3L1342.6 269.9L1345.7 268.5L1348.8 267L1351.8 265.5L1354.9 264"/>
<path class="k10 n" d="M1281.4 298.5L1284.4 295.2L1287.5 291.9L1290.6 288.5L1293.6 285.1L1296.7 283L1299.8 282.9L1302.8 282.7L1305.9 282.4L1308.9 281.9L1312 281.3"/>
<path class="k9 n" d="M1261.4 316.9L1264.5 313.7L1267.5 310.4L1270.6 307.2L1273.6 303.9M1301.2 287.9L1304.3 287.2L1307.3 286.4L1310.4 285.5L1313.5 284.5L1316.5 283.4L1319.6 282.3L1322.7 281L1325.7 279.7L1328.8 278.4L1331.9 277L1334.9 275.6L1338 274.2L1341 272.7L1344.1 271.2L1347.2 269.6"/>
<path class="k10 n" d="M1273.6 303.9L1276.7 300.6L1279.8 297.3L1282.8 293.9L1285.9 290.6L1289 289.2L1292 289.1L1295.1 288.8L1298.2 288.4L1301.2 287.9"/>
<path class="k9 n" d="M1253.7 322.2L1256.7 319L1259.8 315.7L1262.8 312.5L1265.9 309.2M1293.5 293.9L1296.5 293.1L1299.6 292.3L1302.7 291.4L1305.7 290.3L1308.8 289.2L1311.9 288L1314.9 286.8L1318 285.5L1321.1 284.1L1324.1 282.7L1327.2 281.3L1330.2 279.8L1333.3 278.3L1336.4 276.8L1339.4 275.3"/>
<path class="k10 n" d="M1265.9 309.2L1269 306L1272 302.7L1275.1 299.3L1278.2 296L1281.2 295.4L1284.3 295.2L1287.4 294.9L1290.4 294.5L1293.5 293.9"/>
<path class="k9 n" d="M1242.9 330.4L1245.9 327.6L1249 324.4L1252.1 321.1L1255.1 317.8L1258.2 314.6M1285.8 299.8L1288.8 299.1L1291.9 298.2L1294.9 297.2L1298 296.1L1301.1 295L1304.1 293.8L1307.2 292.5L1310.3 291.2L1313.3 289.8L1316.4 288.4L1319.5 287L1322.5 285.5L1325.6 284L1328.6 282.5"/>
<path class="k10 n" d="M1258.2 314.6L1261.2 311.3L1264.3 308.1L1267.4 304.8L1270.4 301.8L1273.5 301.6L1276.6 301.4L1279.6 301L1282.7 300.5L1285.8 299.8"/>
<path class="k9 n" d="M1238.2 333.5L1241.3 330.7L1244.3 327.5L1247.4 324.1L1250.4 320.5M1275 306.5L1278 305.8L1281.1 305L1284.1 304L1287.2 303L1290.3 301.9L1293.3 300.8L1296.4 299.5L1299.5 298.3L1302.5 296.9L1305.6 295.5L1308.7 294.1L1311.7 292.7L1314.8 291.2L1317.8 289.7L1320.9 288.1"/>
<path class="k10 n" d="M1250.4 320.5L1253.5 316.9L1256.6 313.5L1259.6 310.2L1262.7 307.9L1265.8 307.8L1268.8 307.5L1271.9 307L1275 306.5"/>
<path class="k9 n" d="M1233.5 337.4L1236.6 334.7L1239.6 331.7L1242.7 328.3L1245.8 324.5M1267.2 312.4L1270.3 311.7L1273.3 310.8L1276.4 309.9L1279.5 308.8L1282.5 307.7L1285.6 306.5L1288.7 305.3L1291.7 304L1294.8 302.6L1297.9 301.2L1300.9 299.8L1304 298.3L1307 296.8L1310.1 295.3L1313.2 293.8"/>
<path class="k10 n" d="M1245.8 324.5L1248.8 320.6L1251.9 316.5L1255 314.3L1258 313.9L1261.1 313.6L1264.2 313.1L1267.2 312.4"/>
<path class="k9 n" d="M1228.9 341.8L1231.9 339.5L1235 336.7L1238 333.5L1241.1 329.9L1244.2 325.8M1256.4 319.2L1259.5 318.4L1262.6 317.6L1265.6 316.7L1268.7 315.7L1271.7 314.7L1274.8 313.5L1277.9 312.3L1280.9 311L1284 309.7L1287.1 308.3L1290.1 306.9L1293.2 305.5L1296.3 304L1299.3 302.5L1302.4 301"/>
<path class="k10 n" d="M1244.2 325.8L1247.2 323.3L1250.3 321.6L1253.4 320.2L1256.4 319.2"/>
<path class="k9 n" d="M1230.3 342.1L1233.4 339.3L1236.4 336.1L1239.5 333.4L1242.6 331L1245.6 328.9L1248.7 327L1251.8 325.3L1254.8 323.9L1257.9 322.7L1260.9 321.6L1264 320.5L1267.1 319.3L1270.1 318.1L1273.2 316.8L1276.3 315.4L1279.3 314L1282.4 312.6L1285.5 311.2L1288.5 309.7L1291.6 308.2L1294.6 306.6"/>
<path class="k9 n" d="M1231.8 342.5L1234.8 340.2L1237.9 337.8L1241 335.5L1244 333.4L1247.1 331.5L1250.2 329.7L1253.2 328L1256.3 326.5L1259.3 325.1L1262.4 323.8L1265.5 322.5L1268.5 321.1L1271.6 319.7L1274.7 318.3L1277.7 316.8L1280.8 315.3L1283.9 313.8L1286.9 312.3"/>
<path class="k9 n" d="M1236.3 341.3L1239.4 339.2L1242.4 337.1L1245.5 335.2L1248.5 333.3L1251.6 331.6L1254.7 329.9L1257.7 328.4L1260.8 326.9L1263.9 325.4L1266.9 324L1270 322.5L1273.1 321L1276.1 319.5"/>
<path class="k9 n" d="M1240.8 340.3L1243.9 338.4L1246.9 336.5L1250 334.7L1253.1 333L1256.1 331.4L1259.2 329.7L1262.3 328.2L1265.3 326.7L1268.4 325.1"/>
<path class="k22 n" d="M1413.2 67L1414.2 73.3L1415.1 79.6L1416.1 85.9L1417.1 92.2L1418.1 98.5L1419 104.8M1447.2 119.1L1448.2 105.8L1449.2 92.4M1457.9 99.7L1458.9 111.9L1459.9 124"/>
<path class="k17 n" d="M1419 104.8L1420 111.1L1421 117.4"/>
<path class="k13 n" d="M1421 117.4L1422 123.7L1422.9 130.1"/>
<path class="k10 n" d="M1422.9 130.1L1423.9 136.4L1424.9 140M1470.6 157.9L1471.6 157.3L1472.5 151.7M1485.2 146.4L1486.1 151.1L1487.1 154.8L1488.1 157.7M1494.9 162L1495.9 159.3L1496.8 156.5L1497.8 153.8L1498.8 151.1M1500.7 152.5L1501.7 156.5L1502.7 159.9L1503.7 162.6L1504.6 164.9"/>
<path class="k11 n" d="M1444.3 147.6L1445.3 145.8L1446.3 132.5M1460.9 136.2L1461.8 148.3L1462.8 154.8M1498.8 151.1L1499.8 148.3L1500.7 152.5"/>
<path class="k16 n" d="M1446.3 132.5L1447.2 119.1M1459.9 124L1460.9 136.2"/>
<path class="k31 n" d="M1449.2 92.4L1450.2 79.1L1451.1 65.7L1452.1 52.3L1453 40.2M1453.2 40.3L1454.1 51.1L1455 63.3L1456 75.4L1457 87.6L1457.9 99.7"/>
<path class="k12 n" d="M1472.5 151.7L1473.5 146.2"/>
<path class="k15 n" d="M1473.5 146.2L1474.5 140.6L1475.4 135M1484.2 142.1L1485.2 146.4"/>
<path class="k18 n" d="M1475.4 135L1476.4 129.4L1477.4 123.9L1478.4 118.3L1479.3 112.7L1480.3 118.6L1481.3 124.5L1482.3 130.3L1483.2 136.2L1484.2 142.1"/>
<path class="k9 n" d="M1488.1 157.7L1489.1 160L1490 161.7L1491 163.1L1492 164.2L1493 165.2L1493.9 164.7L1494.9 162M1504.6 164.9L1505.6 166.7L1506.6 168.2L1507.5 169.4L1508.5 170.5L1509.5 171.4L1510.5 172.1L1511.4 172.8L1512.4 173.4"/>
<path class="k22 n" d="M1405.6 91.1L1406.6 85.2L1407.6 79.4L1408.5 73.6L1409.5 79.8L1410.5 86L1411.5 92.3L1412.4 98.5L1413.4 104.7L1414.4 110.9M1441.6 124.5L1442.6 111.1L1443.6 97.7M1452.3 105.1L1453.3 117.2L1454.2 129.4"/>
<path class="k17 n" d="M1414.4 110.9L1415.3 117.1L1416.3 123.4"/>
<path class="k13 n" d="M1416.3 123.4L1417.3 129.6L1418.3 135.8"/>
<path class="k10 n" d="M1418.3 135.8L1419.2 142L1420.2 145.3M1464 162.4L1464.9 162.1L1465.9 156.5M1478.6 150.4L1479.5 155.2L1480.5 159L1481.5 162M1488.3 164.3L1489.3 161.9L1490.2 159.5L1491.2 157.1L1492.2 154.7L1493.2 158.4L1494.1 162.1L1495.1 165.2L1496.1 167.7"/>
<path class="k11 n" d="M1438.7 152.5L1439.7 151.3L1440.6 137.9M1455.2 141.6L1456.2 153.8L1457.2 159.7"/>
<path class="k16 n" d="M1440.6 137.9L1441.6 124.5M1454.2 129.4L1455.2 141.6"/>
<path class="k30 n" d="M1443.6 97.7L1444.5 84.3L1445.5 70.9L1446.5 57.5L1447.4 45.1M1447.5 45.2L1448.4 56.3L1449.4 68.5L1450.4 80.7L1451.3 92.9L1452.3 105.1"/>
<path class="k12 n" d="M1465.9 156.5L1466.9 150.9"/>
<path class="k14 n" d="M1466.9 150.9L1467.9 145.3L1468.8 139.7M1477.6 146.8L1478.6 150.4"/>
<path class="k18 n" d="M1468.8 139.7L1469.8 134.1L1470.8 128.5L1471.8 122.9L1472.7 117.3L1473.7 123.2L1474.7 129.1L1475.6 135L1476.6 140.9L1477.6 146.8"/>
<path class="k9 n" d="M1481.5 162L1482.5 164.3L1483.4 166.1L1484.4 167.5L1485.4 168.7L1486.3 169.1L1487.3 166.7L1488.3 164.3M1496.1 167.7L1497 169.7L1498 171.3L1499 172.7L1500 173.9L1500.9 174.9L1501.9 175.7L1502.9 176.4L1503.9 177.1L1504.8 177.7"/>
<path class="k22 n" d="M1398 114.6L1399 108.9L1400 103.1L1401 97.4L1401.9 91.6L1402.9 85.9L1403.9 80.2L1404.8 86.3L1405.8 92.4L1406.8 98.6L1407.8 104.7L1408.7 110.9L1409.7 117M1436 130L1436.9 116.7L1437.9 103.3M1446.7 110.6L1447.6 122.8L1448.6 134.9"/>
<path class="k17 n" d="M1409.7 117L1410.7 123.1L1411.7 129.3"/>
<path class="k13 n" d="M1411.7 129.3L1412.6 135.4L1413.6 141.6"/>
<path class="k10 n" d="M1413.6 141.6L1414.6 147.7L1415.5 150.6M1433.1 157.5L1434 156.8L1435 143.4M1449.6 147.1L1450.6 159.3L1451.5 164.7M1457.4 166.9L1458.3 166.8L1459.3 161.2M1472 154.4L1472.9 159.3L1473.9 163.2L1474.9 166.3M1481.7 169L1482.7 167.4L1483.6 165.8L1484.6 164.1L1485.6 166.9L1486.5 169.7L1487.5 172"/>
<path class="k16 n" d="M1435 143.4L1436 130M1448.6 134.9L1449.6 147.1"/>
<path class="k30 n" d="M1437.9 103.3L1438.9 89.9L1439.9 76.6L1440.8 63.2L1441.8 50.1L1442.8 62L1443.7 74.1L1444.7 86.3L1445.7 98.5L1446.7 110.6"/>
<path class="k12 n" d="M1459.3 161.2L1460.3 155.6"/>
<path class="k14 n" d="M1460.3 155.6L1461.3 149.9L1462.2 144.3M1471 151.4L1472 154.4"/>
<path class="k18 n" d="M1462.2 144.3L1463.2 138.7L1464.2 133.1L1465.1 127.4L1466.1 121.8L1467.1 127.7L1468.1 133.6L1469 139.6L1470 145.5L1471 151.4"/>
<path class="k9 n" d="M1474.9 166.3L1475.8 168.6L1476.8 170.5L1477.8 172L1478.8 173.1L1479.7 172.2L1480.7 170.6L1481.7 169M1487.5 172L1488.5 173.9L1489.5 175.4L1490.4 176.7L1491.4 177.8L1492.4 178.8L1493.4 179.6L1494.3 180.3L1495.3 180.9L1496.3 181.5"/>
<path class="k13 n" d="M1390.5 137.6L1391.4 131.9L1392.4 126.3M1407 135.2L1408 141.2L1408.9 147.3"/>
<path class="k17 n" d="M1392.4 126.3L1393.4 120.6M1405 123.1L1406 129.1L1407 135.2"/>
<path class="k21 n" d="M1393.4 120.6L1394.3 115L1395.3 109.3L1396.3 103.7L1397.3 98L1398.2 92.4L1399.2 86.7L1400.2 92.8L1401.2 98.8L1402.1 104.9L1403.1 111L1404.1 117L1405 123.1"/>
<path class="k10 n" d="M1408.9 147.3L1409.9 153.3L1410.9 155.9M1427.4 162.4L1428.4 162.2L1429.4 148.9M1443.9 152.7L1444.9 164.8L1445.9 169.6M1465.3 158.3L1466.3 163.3L1467.3 167.4L1468.3 170.5"/>
<path class="k16 n" d="M1429.4 148.9L1430.3 135.7M1443 140.6L1443.9 152.7"/>
<path class="k22 n" d="M1430.3 135.7L1431.3 122.4L1432.3 109.1M1441 116.4L1442 128.5L1443 140.6"/>
<path class="k30 n" d="M1432.3 109.1L1433.2 95.8L1434.2 82.5L1435.2 69.2L1436.2 55.9L1437.1 68L1438.1 80.1L1439.1 92.2L1440.1 104.3L1441 116.4"/>
<path class="k9 n" d="M1450.8 171.5L1451.7 171.6L1452.7 166M1468.3 170.5L1469.2 173L1470.2 174.9L1471.2 176.4L1472.2 177.6L1473.1 177.1L1474.1 176.3L1475.1 175.5L1476 174.8L1477 174L1478 175.8L1479 177.5L1479.9 179L1480.9 180.2L1481.9 181.3L1482.9 182.2L1483.8 183L1484.8 183.7L1485.8 184.3L1486.7 184.9"/>
<path class="k12 n" d="M1452.7 166L1453.7 160.3"/>
<path class="k14 n" d="M1453.7 160.3L1454.6 154.6L1455.6 149M1464.4 156.1L1465.3 158.3"/>
<path class="k18 n" d="M1455.6 149L1456.6 143.3L1457.6 137.6L1458.5 132L1459.5 126.3L1460.5 132.3L1461.5 138.2L1462.4 144.2L1463.4 150.1L1464.4 156.1"/>
<path class="k10 n" d="M1383.8 152.5L1384.8 148.9L1385.8 143.4M1404.3 153L1405.2 159L1406.2 161.2M1422.7 167.7L1423.7 154.5M1438.3 158.3L1439.3 170.3L1440.3 174.5M1460.7 171.5L1461.7 174.8"/>
<path class="k13 n" d="M1385.8 143.4L1386.8 137.8L1387.7 132.2M1402.3 141.1L1403.3 147L1404.3 153"/>
<path class="k17 n" d="M1387.7 132.2L1388.7 126.7M1400.4 129.1L1401.4 135.1L1402.3 141.1"/>
<path class="k21 n" d="M1388.7 126.7L1389.7 121.1L1390.7 115.5L1391.6 110L1392.6 104.4L1393.6 98.9L1394.5 93.3L1395.5 99.3L1396.5 105.2L1397.5 111.2L1398.4 117.2L1399.4 123.2L1400.4 129.1"/>
<path class="k16 n" d="M1423.7 154.5L1424.7 141.4M1436.4 134.3L1437.3 146.3L1438.3 158.3"/>
<path class="k22 n" d="M1424.7 141.4L1425.7 128.2L1426.6 115.1M1435.4 122.4L1436.4 134.3"/>
<path class="k29 n" d="M1426.6 115.1L1427.6 101.9L1428.6 88.8L1429.6 75.6L1430.5 62.5L1431.5 74.5L1432.5 86.4L1433.4 98.4L1434.4 110.4L1435.4 122.4"/>
<path class="k9 n" d="M1446.1 176.8L1447.1 171.1M1461.7 174.8L1462.6 177.3L1463.6 179.3L1464.6 180.8L1465.5 182L1466.5 182.8L1467.5 182.6L1468.5 182.5L1469.4 182.3L1470.4 183.3L1471.4 184.3L1472.4 185.2L1473.3 186L1474.3 186.7L1475.3 187.3L1476.2 187.9"/>
<path class="k12 n" d="M1447.1 171.1L1448 165.4M1459.7 167.1L1460.7 171.5"/>
<path class="k14 n" d="M1448 165.4L1449 159.7L1450 154M1458.7 161.1L1459.7 167.1"/>
<path class="k18 n" d="M1450 154L1451 148.3L1451.9 142.6L1452.9 136.9L1453.9 131.2L1454.8 137.2L1455.8 143.2L1456.8 149.2L1457.8 155.2L1458.7 161.1"/>
<path class="k10 n" d="M1378.2 157.4L1379.2 154.2L1380.2 148.7M1398.6 158.4L1399.6 164.2L1400.6 166.1M1416.1 172.2L1417.1 159.8M1431.7 163.6L1432.7 175.4L1433.6 179M1453.1 171.4L1454.1 175.7L1455 179L1456 181.6"/>
<path class="k13 n" d="M1380.2 148.7L1381.1 143.3L1382.1 137.8M1396.7 146.6L1397.7 152.5L1398.6 158.4"/>
<path class="k16 n" d="M1382.1 137.8L1383.1 132.3M1394.7 134.8L1395.7 140.7L1396.7 146.6"/>
<path class="k21 n" d="M1383.1 132.3L1384 126.9L1385 121.4L1386 115.9L1387 110.4L1387.9 105L1388.9 99.5L1389.9 105.4L1390.8 111.3L1391.8 117.1L1392.8 123L1393.8 128.9L1394.7 134.8M1418.1 146.8L1419.1 133.9L1420 120.9M1428.8 128.1L1429.8 140"/>
<path class="k15 n" d="M1417.1 159.8L1418.1 146.8M1429.8 140L1430.7 151.8L1431.7 163.6"/>
<path class="k29 n" d="M1420 120.9L1421 107.9L1422 95L1422.9 82L1423.9 69L1424.9 80.9L1425.9 92.7L1426.8 104.5L1427.8 116.3L1428.8 128.1"/>
<path class="k9 n" d="M1439.5 181.3L1440.5 175.8M1456 181.6L1457 183.6L1458 185.2L1458.9 186.5L1459.9 187.5L1460.9 188.4L1461.9 188.7L1462.8 189.3L1463.8 189.9L1464.8 190.5"/>
<path class="k12 n" d="M1440.5 175.8L1441.4 170.1"/>
<path class="k14 n" d="M1441.4 170.1L1442.4 164.4L1443.4 158.7M1452.1 165.8L1453.1 171.4"/>
<path class="k17 n" d="M1443.4 158.7L1444.3 152.9L1445.3 147.2L1446.3 141.5L1447.3 135.8L1448.2 141.8L1449.2 147.8L1450.2 153.8L1451.2 159.8L1452.1 165.8"/>
<path class="k10 n" d="M1373.5 162.7L1374.5 159.9L1375.5 154.5M1393 158.3L1394 164.1L1394.9 169.9L1395.9 171.4M1410.5 177.1L1411.5 165.5M1426.1 169.3L1427 180.9L1428 183.9M1446.5 175.5L1447.5 179.8L1448.4 183.2L1449.4 185.9"/>
<path class="k13 n" d="M1375.5 154.5L1376.5 149.1L1377.4 143.7M1392 152.5L1393 158.3"/>
<path class="k16 n" d="M1377.4 143.7L1378.4 138.3M1390.1 140.9L1391 146.7L1392 152.5"/>
<path class="k21 n" d="M1378.4 138.3L1379.4 133L1380.3 127.6L1381.3 122.2L1382.3 116.8L1383.3 111.4L1384.2 106L1385.2 111.8L1386.2 117.7L1387.2 123.5L1388.1 129.3L1389.1 135.1L1390.1 140.9M1412.4 152.7L1413.4 140L1414.4 127.3M1423.1 134.4L1424.1 146.1"/>
<path class="k15 n" d="M1411.5 165.5L1412.4 152.7M1424.1 146.1L1425.1 157.7L1426.1 169.3"/>
<path class="k28 n" d="M1414.4 127.3L1415.4 114.6L1416.3 101.8L1417.3 89.1L1418.3 76.4L1419.3 88L1420.2 99.6L1421.2 111.2L1422.2 122.8L1423.1 134.4"/>
<path class="k9 n" d="M1432.9 185.8L1433.8 180.6M1449.4 185.9L1450.4 188L1451.4 189.6L1452.3 190.9L1453.3 192L1454.3 192.9L1455.2 193.6L1456.2 194.2"/>
<path class="k12 n" d="M1433.8 180.6L1434.8 174.8"/>
<path class="k14 n" d="M1434.8 174.8L1435.8 169.1L1436.8 163.3M1445.5 170.5L1446.5 175.5"/>
<path class="k17 n" d="M1436.8 163.3L1437.7 157.6L1438.7 151.8L1439.7 146L1440.7 140.3L1441.6 146.3L1442.6 152.4L1443.6 158.4L1444.5 164.5L1445.5 170.5"/>
<path class="k10 n" d="M1368.9 168L1369.8 165.5L1370.8 160.2M1388.3 164.1L1389.3 169.8L1390.3 175.5L1391.2 176.7M1404.9 182L1405.8 171.2M1420.4 175L1421.4 186.4L1422.4 188.8M1439.9 179.5L1440.9 183.9L1441.8 187.5L1442.8 190.2"/>
<path class="k13 n" d="M1370.8 160.2L1371.8 154.9L1372.8 149.7M1387.4 158.3L1388.3 164.1"/>
<path class="k16 n" d="M1372.8 149.7L1373.7 144.4M1385.4 146.9L1386.4 152.6L1387.4 158.3"/>
<path class="k21 n" d="M1373.7 144.4L1374.7 139.1L1375.7 133.8L1376.7 128.5L1377.6 123.2L1378.6 117.9L1379.6 112.6L1380.5 118.3L1381.5 124L1382.5 129.8L1383.5 135.5L1384.4 141.2L1385.4 146.9"/>
<path class="k15 n" d="M1405.8 171.2L1406.8 158.7M1418.5 152.3L1419.5 163.6L1420.4 175"/>
<path class="k20 n" d="M1406.8 158.7L1407.8 146.3L1408.8 133.8M1417.5 140.9L1418.5 152.3"/>
<path class="k28 n" d="M1408.8 133.8L1409.7 121.4L1410.7 108.9L1411.7 96.5L1412.6 84L1413.6 95.4L1414.6 106.8L1415.6 118.1L1416.5 129.5L1417.5 140.9"/>
<path class="k9 n" d="M1426.3 190.3L1427.2 185.3M1442.8 190.2L1443.8 192.4L1444.7 194L1445.7 195.4L1446.7 196.4L1447.7 197.3L1448.6 198.1L1449.6 198.7"/>
<path class="k12 n" d="M1427.2 185.3L1428.2 179.5"/>
<path class="k14 n" d="M1428.2 179.5L1429.2 173.8L1430.2 168M1438.9 175.2L1439.9 179.5"/>
<path class="k17 n" d="M1430.2 168L1431.1 162.2L1432.1 156.4L1433.1 150.6L1434 144.8L1435 150.9L1436 157L1437 163L1437.9 169.1L1438.9 175.2"/>
<path class="k10 n" d="M1364.2 173.3L1365.2 171.2L1366.2 166M1383.7 169.8L1384.6 175.5L1385.6 181.1L1386.6 182M1399.2 186.9L1400.2 176.9M1414.8 180.8L1415.8 191.9L1416.7 193.7M1433.3 183.5L1434.2 188.1L1435.2 191.7L1436.2 194.5"/>
<path class="k13 n" d="M1366.2 166L1367.1 160.8L1368.1 155.6M1382.7 164.2L1383.7 169.8"/>
<path class="k16 n" d="M1368.1 155.6L1369.1 150.4M1380.7 153L1381.7 158.6L1382.7 164.2"/>
<path class="k21 n" d="M1369.1 150.4L1370 145.2L1371 140L1372 134.8L1373 129.6L1373.9 124.4L1374.9 119.2L1375.9 124.8L1376.9 130.4L1377.8 136.1L1378.8 141.7L1379.8 147.3L1380.7 153"/>
<path class="k15 n" d="M1400.2 176.9L1401.2 164.7M1412.8 158.6L1413.8 169.7L1414.8 180.8"/>
<path class="k20 n" d="M1401.2 164.7L1402.1 152.6L1403.1 140.5M1411.9 147.5L1412.8 158.6"/>
<path class="k27 n" d="M1403.1 140.5L1404.1 128.4L1405.1 116.2L1406 104.1L1407 92L1408 103.1L1409 114.2L1409.9 125.3L1410.9 136.4L1411.9 147.5"/>
<path class="k9 n" d="M1419.7 194.9L1420.6 190.1M1436.2 194.5L1437.2 196.7L1438.1 198.4L1439.1 199.8L1440.1 200.9L1441.1 201.8L1442 202.6L1443 203.2"/>
<path class="k12 n" d="M1420.6 190.1L1421.6 184.3"/>
<path class="k14 n" d="M1421.6 184.3L1422.6 178.5L1423.5 172.6M1432.3 179.9L1433.3 183.5"/>
<path class="k17 n" d="M1423.5 172.6L1424.5 166.8L1425.5 161L1426.5 155.2L1427.4 149.4L1428.4 155.5L1429.4 161.6L1430.4 167.7L1431.3 173.8L1432.3 179.9"/>
<path class="k10 n" d="M1359.5 178.6L1360.5 176.8L1361.5 171.7M1379 175.6L1380 181.2L1380.9 186.7L1381.9 187.3M1392.6 191.4L1393.6 182.2M1408.2 186.2L1409.2 196.9L1410.1 198.3M1426.7 187.5L1427.6 192.2L1428.6 195.9L1429.6 198.8"/>
<path class="k13 n" d="M1361.5 171.7L1362.5 166.6L1363.4 161.5M1378 170.1L1379 175.6"/>
<path class="k16 n" d="M1363.4 161.5L1364.4 156.4L1365.4 151.3M1376.1 159L1377.1 164.5L1378 170.1"/>
<path class="k20 n" d="M1365.4 151.3L1366.4 146.2L1367.3 141.1L1368.3 136L1369.3 130.9L1370.2 125.7L1371.2 131.3L1372.2 136.8L1373.2 142.4L1374.1 147.9L1375.1 153.5L1376.1 159M1395.5 158.7L1396.5 146.9M1405.3 153.8L1406.2 164.6"/>
<path class="k15 n" d="M1393.6 182.2L1394.6 170.4L1395.5 158.7M1406.2 164.6L1407.2 175.4L1408.2 186.2"/>
<path class="k27 n" d="M1396.5 146.9L1397.5 135.1L1398.5 123.4L1399.4 111.6L1400.4 99.8L1401.4 110.6L1402.3 121.4L1403.3 132.2L1404.3 143L1405.3 153.8"/>
<path class="k9 n" d="M1413 199.4L1414 194.9M1429.6 198.8L1430.6 201.1L1431.5 202.8L1432.5 204.2L1433.5 205.4L1434.4 206.3L1435.4 207.1L1436.4 207.8L1437.4 208.3"/>
<path class="k11 n" d="M1414 194.9L1415 189L1416 183.1"/>
<path class="k14 n" d="M1416 183.1L1416.9 177.3M1425.7 184.5L1426.7 187.5"/>
<path class="k17 n" d="M1416.9 177.3L1417.9 171.4L1418.9 165.6L1419.9 159.7L1420.8 153.9L1421.8 160L1422.8 166.1L1423.7 172.3L1424.7 178.4L1425.7 184.5"/>
<path class="k10 n" d="M1353.9 183.5L1354.9 182L1355.9 177M1373.4 181L1374.3 186.5L1375.3 191.8M1387 196.4L1388 187.9M1402.5 191.9L1403.5 202.4L1404.5 203.2M1420 191.6L1421 196.3L1422 200.1L1423 203.1"/>
<path class="k13 n" d="M1355.9 177L1356.8 172L1357.8 167M1372.4 175.5L1373.4 181"/>
<path class="k16 n" d="M1357.8 167L1358.8 162L1359.7 157M1370.4 164.6L1371.4 170.1L1372.4 175.5"/>
<path class="k20 n" d="M1359.7 157L1360.7 152L1361.7 147L1362.7 142L1363.6 136.9L1364.6 131.9L1365.6 137.4L1366.6 142.8L1367.5 148.3L1368.5 153.7L1369.5 159.2L1370.4 164.6"/>
<path class="k14 n" d="M1388 187.9L1388.9 176.5L1389.9 165.2M1400.6 171L1401.6 181.5L1402.5 191.9M1409.4 187.8L1410.3 182M1419.1 189.2L1420 191.6"/>
<path class="k19 n" d="M1389.9 165.2L1390.9 153.8M1399.6 160.6L1400.6 171"/>
<path class="k26 n" d="M1390.9 153.8L1391.8 142.4L1392.8 131.1L1393.8 119.7L1394.8 108.3L1395.7 118.8L1396.7 129.2L1397.7 139.7L1398.7 150.1L1399.6 160.6"/>
<path class="k9 n" d="M1406.4 203.9L1407.4 199.6M1423 203.1L1423.9 205.4L1424.9 207.2L1425.9 208.7L1426.9 209.8L1427.8 210.8L1428.8 211.6L1429.8 212.3L1430.7 212.9"/>
<path class="k11 n" d="M1407.4 199.6L1408.4 193.7L1409.4 187.8"/>
<path class="k17 n" d="M1410.3 182L1411.3 176.1L1412.3 170.2L1413.2 164.3L1414.2 158.4L1415.2 164.6L1416.2 170.7L1417.1 176.9L1418.1 183.1L1419.1 189.2"/>
<path class="k10 n" d="M1349.2 188.8L1350.2 187.6L1351.2 182.7M1368.7 186.8L1369.7 192.1L1370.6 197.1M1381.3 201.3L1382.3 193.6M1396.9 197.7L1397.9 207.7M1414.4 200.4L1415.4 204.3L1416.4 207.3"/>
<path class="k13 n" d="M1351.2 182.7L1352.2 177.8L1353.1 172.9M1366.8 176L1367.7 181.4L1368.7 186.8"/>
<path class="k16 n" d="M1353.1 172.9L1354.1 168L1355.1 163.1M1365.8 170.7L1366.8 176"/>
<path class="k20 n" d="M1355.1 163.1L1356.1 158.2L1357 153.2L1358 148.3L1359 143.4L1359.9 138.5L1360.9 143.9L1361.9 149.2L1362.9 154.6L1363.8 159.9L1364.8 165.3L1365.8 170.7"/>
<path class="k14 n" d="M1382.3 193.6L1383.3 182.7L1384.3 171.7M1395 177.5L1395.9 187.6L1396.9 197.7M1403.7 192.9L1404.7 187M1413.4 194.3L1414.4 200.4"/>
<path class="k19 n" d="M1384.3 171.7L1385.2 160.8M1394 167.4L1395 177.5"/>
<path class="k26 n" d="M1385.2 160.8L1386.2 149.8L1387.2 138.9L1388.2 127.9L1389.1 117L1390.1 127.1L1391.1 137.2L1392 147.3L1393 157.3L1394 167.4"/>
<path class="k9 n" d="M1400.8 208.9L1401.8 204.8M1416.4 207.3L1417.3 209.7L1418.3 211.6L1419.3 213.1L1420.2 214.3L1421.2 215.3L1422.2 216.1L1423.2 216.8L1424.1 217.4"/>
<path class="k11 n" d="M1401.8 204.8L1402.7 198.8L1403.7 192.9"/>
<path class="k17 n" d="M1404.7 187L1405.7 181.1L1406.6 175.2L1407.6 169.2L1408.6 163.3L1409.5 169.5L1410.5 175.7L1411.5 181.9L1412.5 188.1L1413.4 194.3"/>
<path class="k10 n" d="M1344.6 194L1345.6 193.2L1346.5 188.4M1364 192.5L1365 197.8L1366 202.4M1375.7 206.2L1376.7 199.3M1391.3 203.4L1392.2 212.6M1407.8 204.4L1408.8 208.5L1409.7 211.6"/>
<path class="k12 n" d="M1346.5 188.4L1347.5 183.6L1348.5 178.8M1362.1 182L1363.1 187.2L1364 192.5"/>
<path class="k16 n" d="M1348.5 178.8L1349.4 174L1350.4 169.2M1361.1 176.7L1362.1 182"/>
<path class="k20 n" d="M1350.4 169.2L1351.4 164.3L1352.4 159.5L1353.3 154.7L1354.3 149.9L1355.3 145.1L1356.3 150.3L1357.2 155.6L1358.2 160.9L1359.2 166.2L1360.1 171.4L1361.1 176.7"/>
<path class="k14 n" d="M1376.7 199.3L1377.7 188.8L1378.6 178.3M1389.3 184L1390.3 193.7L1391.3 203.4M1397.1 197.6L1398.1 191.7M1405.9 192.8L1406.8 199L1407.8 204.4"/>
<path class="k19 n" d="M1378.6 178.3L1379.6 167.8M1388.3 174.3L1389.3 184"/>
<path class="k25 n" d="M1379.6 167.8L1380.6 157.3L1381.5 146.8L1382.5 136.4L1383.5 125.9L1384.5 135.6L1385.4 145.3L1386.4 154.9L1387.4 164.6L1388.3 174.3"/>
<path class="k9 n" d="M1394.2 213.4L1395.2 209.5M1409.7 211.6L1410.7 214.1L1411.7 216L1412.7 217.5L1413.6 218.7L1414.6 219.7L1415.6 220.6L1416.6 221.3L1417.5 221.9"/>
<path class="k11 n" d="M1395.2 209.5L1396.1 203.6L1397.1 197.6"/>
<path class="k17 n" d="M1398.1 191.7L1399 185.7L1400 179.8L1401 173.8L1402 167.9L1402.9 174.1L1403.9 180.3L1404.9 186.5L1405.9 192.8"/>
<path class="k10 n" d="M1339.9 199.3L1340.9 198.8L1341.9 194.1M1359.4 198.2L1360.3 203.4L1361.3 207.7M1370.1 211.1L1371 204.9M1385.6 209.1L1386.6 217.5M1401.2 208.5L1402.2 212.6L1403.1 215.9L1404.1 218.4"/>
<path class="k12 n" d="M1341.9 194.1L1342.8 189.4L1343.8 184.7M1357.4 187.9L1358.4 193.1L1359.4 198.2"/>
<path class="k16 n" d="M1343.8 184.7L1344.8 180L1345.8 175.2M1356.5 182.7L1357.4 187.9M1391.5 196.3L1392.4 190.3L1393.4 184.4L1394.4 178.4L1395.4 172.4L1396.3 178.6L1397.3 184.9L1398.3 191.2L1399.2 197.4"/>
<path class="k20 n" d="M1345.8 175.2L1346.7 170.5L1347.7 165.8L1348.7 161.1L1349.6 156.4L1350.6 151.6L1351.6 156.8L1352.6 162L1353.5 167.2L1354.5 172.3L1355.5 177.5L1356.5 182.7"/>
<path class="k14 n" d="M1371 204.9L1372 194.9L1373 184.9M1383.7 190.6L1384.7 199.9L1385.6 209.1M1390.5 202.3L1391.5 196.3M1399.2 197.4L1400.2 203.7L1401.2 208.5"/>
<path class="k19 n" d="M1373 184.9L1374 174.9M1382.7 181.3L1383.7 190.6"/>
<path class="k25 n" d="M1374 174.9L1374.9 164.9L1375.9 154.9L1376.9 144.9L1377.8 134.9L1378.8 144.2L1379.8 153.4L1380.8 162.7L1381.7 172L1382.7 181.3"/>
<path class="k9 n" d="M1387.6 217.9L1388.5 214.3M1404.1 218.4L1405.1 220.4L1406.1 221.9L1407 223.2L1408 224.2L1409 225L1409.9 225.8L1410.9 226.4"/>
<path class="k11 n" d="M1388.5 214.3L1389.5 208.3L1390.5 202.3"/>
<path class="k10 n" d="M1336.2 204.4L1337.2 199.8M1354.7 204L1355.7 209.1L1356.7 213M1363.5 215.6L1364.4 210.2M1379 214.5L1380 222.1M1394.6 212.6L1395.6 216.8L1396.5 220.1L1397.5 222.7"/>
<path class="k12 n" d="M1337.2 199.8L1338.2 195.2L1339.1 190.6M1352.8 193.8L1353.7 198.9L1354.7 204"/>
<path class="k16 n" d="M1339.1 190.6L1340.1 185.9L1341.1 181.3M1351.8 188.7L1352.8 193.8M1384.9 201L1385.8 195L1386.8 189L1387.8 182.9L1388.7 176.9L1389.7 183.2L1390.7 189.5L1391.7 195.8L1392.6 202.1"/>
<path class="k20 n" d="M1341.1 181.3L1342.1 176.7L1343 172.1L1344 167.4L1345 162.8L1346 158.2L1346.9 163.3L1347.9 168.4L1348.9 173.5L1349.8 178.5L1350.8 183.6L1351.8 188.7"/>
<path class="k14 n" d="M1364.4 210.2L1365.4 200.7L1366.4 191.2M1377.1 196.8L1378 205.6L1379 214.5"/>
<path class="k18 n" d="M1366.4 191.2L1367.3 181.7M1376.1 187.9L1377.1 196.8"/>
<path class="k24 n" d="M1367.3 181.7L1368.3 172.2L1369.3 162.6L1370.3 153.1L1371.2 143.6L1372.2 152.5L1373.2 161.3L1374.2 170.2L1375.1 179L1376.1 187.9"/>
<path class="k9 n" d="M1381 222.4L1381.9 219.1M1397.5 222.7L1398.5 224.7L1399.4 226.3L1400.4 227.6L1401.4 228.7L1402.4 229.5L1403.3 230.3L1404.3 230.9"/>
<path class="k11 n" d="M1381.9 219.1L1382.9 213L1383.9 207"/>
<path class="k13 n" d="M1383.9 207L1384.9 201M1392.6 202.1L1393.6 208.4L1394.6 212.6"/>
<path class="k10 n" d="M1330.6 209.6L1331.6 205.1M1349.1 209.3L1350 214.3L1351 217.9M1357.8 220.5L1358.8 215.8M1373.4 220.1L1374.4 227M1388 216.7L1388.9 220.9L1389.9 224.4L1390.9 227"/>
<path class="k12 n" d="M1331.6 205.1L1332.5 200.6L1333.5 196M1347.1 199.3L1348.1 204.3L1349.1 209.3"/>
<path class="k15 n" d="M1333.5 196L1334.5 191.5L1335.5 187M1346.1 194.3L1347.1 199.3"/>
<path class="k20 n" d="M1335.5 187L1336.4 182.5L1337.4 178L1338.4 173.4L1339.3 168.9L1340.3 164.4L1341.3 169.4L1342.3 174.4L1343.2 179.4L1344.2 184.4L1345.2 189.3L1346.1 194.3"/>
<path class="k14 n" d="M1358.8 215.8L1359.8 206.8L1360.7 197.8M1371.4 203.3L1372.4 211.7L1373.4 220.1"/>
<path class="k18 n" d="M1360.7 197.8L1361.7 188.8M1370.5 194.9L1371.4 203.3"/>
<path class="k24 n" d="M1361.7 188.8L1362.7 179.8L1363.7 170.8L1364.6 161.8L1365.6 152.9L1366.6 161.3L1367.5 169.7L1368.5 178.1L1369.5 186.5L1370.5 194.9"/>
<path class="k9 n" d="M1374.4 227L1375.3 223.8M1390.9 227L1391.9 229.1L1392.8 230.8L1393.8 232.1L1394.8 233.1L1395.8 234L1396.7 234.7L1397.7 235.4"/>
<path class="k11 n" d="M1375.3 223.8L1376.3 217.8L1377.3 211.7"/>
<path class="k13 n" d="M1377.3 211.7L1378.2 205.7M1386 206.7L1387 213L1388 216.7"/>
<path class="k16 n" d="M1378.2 205.7L1379.2 199.6L1380.2 193.6L1381.2 187.5L1382.1 181.5L1383.1 187.8L1384.1 194.1L1385.1 200.4L1386 206.7"/>
<path class="k10 n" d="M1325.9 215.2L1326.9 210.7M1344.4 215L1345.4 219.9L1346.3 223.2M1352.2 225.4L1353.2 221.3M1367.7 225.8L1368.7 228.6M1381.4 220.7L1382.3 225.1L1383.3 228.6L1384.3 231.3"/>
<path class="k12 n" d="M1326.9 210.7L1327.9 206.2L1328.8 201.8M1342.5 205.1L1343.4 210L1344.4 215"/>
<path class="k15 n" d="M1328.8 201.8L1329.8 197.3L1330.8 192.9M1341.5 200.2L1342.5 205.1"/>
<path class="k19 n" d="M1330.8 192.9L1331.8 188.4L1332.7 184L1333.7 179.5L1334.7 175L1335.6 170.6L1336.6 175.5L1337.6 180.4L1338.6 185.4L1339.5 190.3L1340.5 195.2L1341.5 200.2"/>
<path class="k14 n" d="M1353.2 221.3L1354.1 212.9L1355.1 204.4M1365.8 209.9L1366.8 217.8L1367.7 225.8"/>
<path class="k18 n" d="M1355.1 204.4L1356.1 196M1364.8 201.9L1365.8 209.9"/>
<path class="k23 n" d="M1356.1 196L1357 187.5L1358 179L1359 170.6L1360 162.1L1360.9 170.1L1361.9 178L1362.9 186L1363.9 193.9L1364.8 201.9"/>
<path class="k11 n" d="M1368.7 228.6L1369.7 222.5L1370.7 216.4"/>
<path class="k13 n" d="M1370.7 216.4L1371.6 210.3M1379.4 211.4L1380.4 217.7L1381.4 220.7"/>
<path class="k16 n" d="M1371.6 210.3L1372.6 204.3L1373.6 198.2L1374.6 192.1L1375.5 186L1376.5 192.3L1377.5 198.7L1378.4 205L1379.4 211.4"/>
<path class="k9 n" d="M1384.3 231.3L1385.3 233.5L1386.2 235.2L1387.2 236.5L1388.2 237.6L1389.1 238.5L1390.1 239.2L1391.1 239.9"/>
<path class="k10 n" d="M1321.3 220.5L1322.2 216.3L1323.2 211.8M1339.7 220.5L1340.7 225.5L1341.7 228.5M1346.5 230.4L1347.5 226.9L1348.5 218.9M1361.1 223.9L1362.1 231.4L1363.1 233.8M1375.7 229.2L1376.7 232.8L1377.7 235.6"/>
<path class="k12 n" d="M1323.2 211.8L1324.2 207.4M1337.8 210.7L1338.8 215.6L1339.7 220.5"/>
<path class="k15 n" d="M1324.2 207.4L1325.1 202.9L1326.1 198.5M1336.8 205.8L1337.8 210.7"/>
<path class="k19 n" d="M1326.1 198.5L1327.1 194L1328.1 189.6L1329 185.1L1330 180.7L1331 176.2L1332 181.1L1332.9 186.1L1333.9 191L1334.9 195.9L1335.8 200.8L1336.8 205.8"/>
<path class="k13 n" d="M1348.5 218.9L1349.5 211M1360.2 216.4L1361.1 223.9M1365 221.6L1366 215.6M1373.8 216.6L1374.8 222.9L1375.7 229.2"/>
<path class="k17 n" d="M1349.5 211L1350.4 203.1M1359.2 208.9L1360.2 216.4"/>
<path class="k23 n" d="M1350.4 203.1L1351.4 195.2L1352.4 187.3L1353.4 179.3L1354.3 171.4L1355.3 178.9L1356.3 186.4L1357.2 193.9L1358.2 201.4L1359.2 208.9"/>
<path class="k9 n" d="M1363.1 233.8L1364.1 227.7M1377.7 235.6L1378.6 237.8L1379.6 239.6L1380.6 240.9L1381.6 242.1L1382.5 243L1383.5 243.7L1384.5 244.4"/>
<path class="k11 n" d="M1364.1 227.7L1365 221.6"/>
<path class="k16 n" d="M1366 215.6L1367 209.5L1367.9 203.4L1368.9 197.3L1369.9 191.3L1370.9 197.6L1371.8 203.9L1372.8 210.3L1373.8 216.6"/>
<path class="k10 n" d="M1316.6 225.8L1317.6 221.8L1318.5 217.4M1335.1 226.1L1336 231L1337 233.8M1339.9 234.9L1340.9 232L1341.9 224.6M1354.5 229.5L1355.5 236.5L1356.5 238.6M1369.1 233.4L1370.1 237L1371.1 239.9"/>
<path class="k12 n" d="M1318.5 217.4L1319.5 212.9M1333.1 216.3L1334.1 221.2L1335.1 226.1"/>
<path class="k15 n" d="M1319.5 212.9L1320.5 208.5L1321.5 204.1M1332.2 211.4L1333.1 216.3"/>
<path class="k19 n" d="M1321.5 204.1L1322.4 199.6L1323.4 195.2L1324.4 190.7L1325.3 186.3L1326.3 181.9L1327.3 186.8L1328.3 191.7L1329.2 196.6L1330.2 201.5L1331.2 206.4L1332.2 211.4"/>
<path class="k13 n" d="M1341.9 224.6L1342.9 217.2M1353.6 222.5L1354.5 229.5M1358.4 226.7L1359.4 220.7M1367.2 221.8L1368.1 228L1369.1 233.4"/>
<path class="k17 n" d="M1342.9 217.2L1343.8 209.8M1352.6 215.5L1353.6 222.5"/>
<path class="k22 n" d="M1343.8 209.8L1344.8 202.5L1345.8 195.1L1346.7 187.7L1347.7 180.3L1348.7 187.4L1349.7 194.4L1350.6 201.4L1351.6 208.4L1352.6 215.5"/>
<path class="k9 n" d="M1356.5 238.6L1357.4 232.7M1371.1 239.9L1372 242.2L1373 244L1374 245.4L1375 246.5L1375.9 247.5L1376.9 248.2L1377.9 248.9L1378.8 249.5"/>
<path class="k11 n" d="M1357.4 232.7L1358.4 226.7"/>
<path class="k16 n" d="M1359.4 220.7L1360.4 214.7L1361.3 208.7L1362.3 202.8L1363.3 196.8L1364.3 203L1365.2 209.3L1366.2 215.5L1367.2 221.8"/>
<path class="k10 n" d="M1311.9 231.1L1312.9 227.4L1313.9 223M1330.4 231.7L1331.4 236.6L1332.4 239M1334.3 239.8L1335.3 237.4L1336.2 230.6M1348.9 235.5L1349.9 242.1L1350.8 237.7M1362.5 237.5L1363.5 241.2L1364.5 244.2"/>
<path class="k12 n" d="M1313.9 223L1314.8 218.5M1328.5 221.8L1329.4 226.8L1330.4 231.7"/>
<path class="k15 n" d="M1314.8 218.5L1315.8 214.1L1316.8 209.7M1327.5 216.9L1328.5 221.8"/>
<path class="k19 n" d="M1316.8 209.7L1317.8 205.2L1318.7 200.8L1319.7 196.4L1320.7 191.9L1321.7 187.5L1322.6 192.4L1323.6 197.3L1324.6 202.2L1325.5 207.1L1326.5 212L1327.5 216.9"/>
<path class="k13 n" d="M1336.2 230.6L1337.2 223.7M1347.9 228.9L1348.9 235.5M1351.8 231.9L1352.8 226.1M1360.6 227.2L1361.5 233.3L1362.5 237.5"/>
<path class="k17 n" d="M1337.2 223.7L1338.2 216.9M1346.9 222.4L1347.9 228.9"/>
<path class="k21 n" d="M1338.2 216.9L1339.2 210.1L1340.1 203.2L1341.1 196.4L1342.1 189.6L1343.1 196.1L1344 202.7L1345 209.3L1346 215.8L1346.9 222.4"/>
<path class="k11 n" d="M1350.8 237.7L1351.8 231.9"/>
<path class="k16 n" d="M1352.8 226.1L1353.8 220.3L1354.7 214.5L1355.7 208.7L1356.7 202.9L1357.6 209L1358.6 215.1L1359.6 221.2L1360.6 227.2"/>
<path class="k9 n" d="M1364.5 244.2L1365.4 246.5L1366.4 248.4L1367.4 249.8L1368.3 251L1369.3 251.9L1370.3 252.7L1371.3 253.4L1372.2 254"/>
<path class="k10 n" d="M1306.3 236L1307.3 232.6L1308.2 228.1M1324.8 236.8L1325.7 241.7L1326.7 244M1328.7 244.7L1329.6 242.8L1330.6 236.5M1343.3 241.4L1344.2 242.8M1355.9 241.6L1356.9 245.4L1357.8 248.5"/>
<path class="k12 n" d="M1308.2 228.1L1309.2 223.7M1322.8 227L1323.8 231.9L1324.8 236.8"/>
<path class="k15 n" d="M1309.2 223.7L1310.2 219.3L1311.2 214.9M1320.9 217.2L1321.9 222.1L1322.8 227"/>
<path class="k19 n" d="M1311.2 214.9L1312.1 210.4L1313.1 206L1314.1 201.6L1315 197.2L1316 192.7L1317 197.6L1318 202.5L1318.9 207.4L1319.9 212.3L1320.9 217.2"/>
<path class="k13 n" d="M1330.6 236.5L1331.6 230.2M1342.3 235.3L1343.3 241.4M1345.2 237.3L1346.2 231.7M1354 232.9L1354.9 238.8L1355.9 241.6"/>
<path class="k16 n" d="M1331.6 230.2L1332.6 223.9M1341.3 229.2L1342.3 235.3M1346.2 231.7L1347.1 226.2L1348.1 220.6L1349.1 215.1L1350.1 209.5L1351 215.4L1352 221.2L1353 227.1L1354 232.9"/>
<path class="k21 n" d="M1332.6 223.9L1333.5 217.6L1334.5 211.4L1335.5 205.1L1336.4 198.8L1337.4 204.9L1338.4 211L1339.4 217.1L1340.3 223.2L1341.3 229.2"/>
<path class="k11 n" d="M1344.2 242.8L1345.2 237.3"/>
<path class="k9 n" d="M1357.8 248.5L1358.8 250.9L1359.8 252.8L1360.8 254.2L1361.7 255.4L1362.7 256.4L1363.7 257.2L1364.7 257.9L1365.6 258.5"/>
<path class="k10 n" d="M1301.6 241.3L1302.6 239.3L1303.6 234.7M1320.1 243.5L1321.1 248.5L1322.1 249.2M1323 249.6L1324 249.3L1325 243.4M1349.3 245.7L1350.3 249.6L1351.2 252.8"/>
<path class="k12 n" d="M1303.6 234.7L1304.5 230.2M1318.2 233.5L1319.1 238.5L1320.1 243.5"/>
<path class="k15 n" d="M1304.5 230.2L1305.5 225.7L1306.5 221.1M1316.2 223.5L1317.2 228.5L1318.2 233.5M1339.6 238.1L1340.5 232.8L1341.5 227.4L1342.5 222L1343.5 216.6L1344.4 222.3L1345.4 228L1346.4 233.7L1347.3 239.4"/>
<path class="k19 n" d="M1306.5 221.1L1307.5 216.6L1308.4 212L1309.4 207.5L1310.4 202.9L1311.4 198.4L1312.3 203.4L1313.3 208.4L1314.3 213.4L1315.2 218.4L1316.2 223.5"/>
<path class="k13 n" d="M1325 243.4L1325.9 237.5M1336.6 242.5L1337.6 248.3M1338.6 243.5L1339.6 238.1M1347.3 239.4L1348.3 245.1"/>
<path class="k16 n" d="M1325.9 237.5L1326.9 231.5M1334.7 231L1335.7 236.8L1336.6 242.5"/>
<path class="k20 n" d="M1326.9 231.5L1327.9 225.6L1328.9 219.7L1329.8 213.8L1330.8 207.9L1331.8 213.6L1332.8 219.4L1333.7 225.2L1334.7 231"/>
<path class="k11 n" d="M1337.6 248.3L1338.6 243.5M1348.3 245.1L1349.3 245.7"/>
<path class="k9 n" d="M1351.2 252.8L1352.2 255.2L1353.2 257.1L1354.2 258.7L1355.1 259.9L1356.1 260.9L1357.1 261.7L1358 262.4L1359 263"/>
<path class="k10 n" d="M1297 246.6L1297.9 246.1L1298.9 241.4M1314.5 245.1L1315.4 250.2L1316.4 254.2M1318.4 254.9L1319.3 250.1M1341.7 250.9L1342.7 249.8L1343.6 253.8L1344.6 257L1345.6 259.6"/>
<path class="k12 n" d="M1298.9 241.4L1299.9 236.7L1300.9 232.1M1313.5 240L1314.5 245.1M1319.3 250.1L1320.3 244.5M1331 249.6L1332 249.8"/>
<path class="k15 n" d="M1300.9 232.1L1301.8 227.4M1311.6 229.7L1312.5 234.8L1313.5 240M1320.3 244.5L1321.3 239M1329.1 238.7L1330 244.1L1331 249.6M1333 244.7L1333.9 239.5L1334.9 234.4L1335.9 229.2L1336.8 224L1337.8 229.5L1338.8 235L1339.8 240.5L1340.7 246"/>
<path class="k18 n" d="M1301.8 227.4L1302.8 222.7L1303.8 218L1304.7 213.4L1305.7 208.7L1306.7 204L1307.7 209.2L1308.6 214.3L1309.6 219.4L1310.6 224.6L1311.6 229.7"/>
<path class="k20 n" d="M1321.3 239L1322.3 233.5L1323.2 227.9L1324.2 222.4L1325.2 216.8L1326.1 222.3L1327.1 227.7L1328.1 233.2L1329.1 238.7"/>
<path class="k13 n" d="M1332 249.8L1333 244.7M1340.7 246L1341.7 250.9"/>
<path class="k9 n" d="M1345.6 259.6L1346.6 261.5L1347.5 263.1L1348.5 264.3L1349.5 265.4L1350.5 266.2L1351.4 266.9L1352.4 267.5"/>
<path class="k10 n" d="M1293.3 252.2L1294.2 248.2M1309.8 251.8L1310.8 257L1311.8 259.4L1312.7 256.2M1335.1 256.1L1336.1 253.9L1337 258L1338 261.3L1339 263.9"/>
<path class="k12 n" d="M1294.2 248.2L1295.2 243.3L1296.2 238.5M1308.8 246.5L1309.8 251.8M1312.7 256.2L1313.7 251.1M1323.4 250.9L1324.4 256L1325.4 256.1"/>
<path class="k15 n" d="M1296.2 238.5L1297.2 233.7M1306.9 236L1307.9 241.2L1308.8 246.5M1313.7 251.1L1314.7 245.9M1322.5 245.8L1323.4 250.9M1326.3 251.2L1327.3 246.4L1328.3 241.5L1329.3 236.6L1330.2 231.8L1331.2 237L1332.2 242.2L1333.1 247.4L1334.1 252.7"/>
<path class="k18 n" d="M1297.2 233.7L1298.1 228.9L1299.1 224.1L1300.1 219.3L1301.1 214.5L1302 209.7L1303 214.9L1304 220.2L1304.9 225.5L1305.9 230.7L1306.9 236"/>
<path class="k19 n" d="M1314.7 245.9L1315.6 240.8L1316.6 235.6L1317.6 230.4L1318.6 225.3L1319.5 230.4L1320.5 235.5L1321.5 240.7L1322.5 245.8"/>
<path class="k13 n" d="M1325.4 256.1L1326.3 251.2M1334.1 252.7L1335.1 256.1"/>
<path class="k9 n" d="M1339 263.9L1340 265.9L1340.9 267.5L1341.9 268.8L1342.9 269.8L1343.8 270.7L1344.8 271.4L1345.8 272"/>
<path class="k10 n" d="M1288.6 257.5L1289.6 255L1290.6 250M1305.1 258.5L1306.1 263.9L1307.1 262.6M1329.5 258.1L1330.4 262.2L1331.4 265.6L1332.4 268.2"/>
<path class="k12 n" d="M1290.6 250L1291.5 245.1M1303.2 247.7L1304.2 253.1L1305.1 258.5M1307.1 262.6L1308.1 257.8M1317.8 257.9L1318.8 262.7"/>
<path class="k15 n" d="M1291.5 245.1L1292.5 240.1M1302.2 242.3L1303.2 247.7M1308.1 257.8L1309 253M1316.8 253.1L1317.8 257.9M1320.7 258.2L1321.7 253.7L1322.6 249.1L1323.6 244.6L1324.6 240.1L1325.6 245L1326.5 249.9L1327.5 254.8L1328.5 259.7"/>
<path class="k18 n" d="M1292.5 240.1L1293.5 235.1L1294.4 230.2L1295.4 225.2L1296.4 220.3L1297.4 215.3L1298.3 220.7L1299.3 226.1L1300.3 231.5L1301.3 236.9L1302.2 242.3M1309 253L1310 248.3L1311 243.5L1311.9 238.7L1312.9 233.9L1313.9 238.7L1314.9 243.5L1315.8 248.3L1316.8 253.1"/>
<path class="k11 n" d="M1318.8 262.7L1319.7 262.7"/>
<path class="k13 n" d="M1319.7 262.7L1320.7 258.2M1328.5 259.7L1329.5 258.1"/>
<path class="k9 n" d="M1332.4 268.2L1333.3 270.3L1334.3 271.9L1335.3 273.2L1336.3 274.3L1337.2 275.2L1338.2 275.9L1339.2 276.6"/>
<path class="k10 n" d="M1283 262.4L1283.9 261.5L1284.9 256.4M1299.5 265L1300.5 269.3M1322.8 263.2L1323.8 266.4L1324.8 269.8L1325.8 272.5"/>
<path class="k12 n" d="M1284.9 256.4L1285.9 251.3M1297.6 253.9L1298.5 259.4L1299.5 265M1302.4 264.4L1303.4 260M1312.1 264.8L1313.1 268.9"/>
<path class="k14 n" d="M1285.9 251.3L1286.9 246.1L1287.8 241M1296.6 248.3L1297.6 253.9M1303.4 260L1304.4 255.6M1311.2 260.3L1312.1 264.8"/>
<path class="k18 n" d="M1287.8 241L1288.8 235.9L1289.8 230.8L1290.8 225.7L1291.7 220.5L1292.7 226.1L1293.7 231.7L1294.6 237.2L1295.6 242.8L1296.6 248.3M1304.4 255.6L1305.3 251.2L1306.3 246.8L1307.3 242.4L1308.3 246.8L1309.2 251.3L1310.2 255.8L1311.2 260.3"/>
<path class="k9 n" d="M1300.5 269.3L1301.4 268.8L1302.4 264.4M1325.8 272.5L1326.7 274.7L1327.7 276.3L1328.7 277.7L1329.7 278.8L1330.6 279.7L1331.6 280.4L1332.6 281.1"/>
<path class="k11 n" d="M1313.1 268.9L1314.1 264.7"/>
<path class="k13 n" d="M1314.1 264.7L1315.1 260.6M1321.9 266.4L1322.8 263.2"/>
<path class="k15 n" d="M1315.1 260.6L1316 256.5L1317 252.3L1318 248.2L1319 252.7L1319.9 257.3L1320.9 261.8L1321.9 266.4"/>
<path class="k9 n" d="M1279.3 268.1L1280.2 263.2M1293.9 266.2L1294.8 271.9L1295.8 274.6L1296.8 270.8M1319.2 276.8L1320.1 279L1321.1 280.7L1322.1 282.1L1323 283.2L1324 284.1L1325 284.9L1326 285.6"/>
<path class="k12 n" d="M1280.2 263.2L1281.2 257.9M1292.9 260.5L1293.9 266.2M1296.8 270.8L1297.8 266.7M1306.5 271.4L1307.5 271.2L1308.5 267.5"/>
<path class="k14 n" d="M1281.2 257.9L1282.2 252.6L1283.2 247.4M1291.9 254.8L1292.9 260.5M1297.8 266.7L1298.7 262.7M1305.5 267.2L1306.5 271.4"/>
<path class="k18 n" d="M1283.2 247.4L1284.1 242.1L1285.1 236.8L1286.1 231.5L1287.1 226.2L1288 231.9L1289 237.6L1290 243.3L1290.9 249.1L1291.9 254.8"/>
<path class="k17 n" d="M1298.7 262.7L1299.7 258.6L1300.7 254.6L1301.6 250.6L1302.6 254.7L1303.6 258.9L1304.6 263.1L1305.5 267.2"/>
<path class="k15 n" d="M1308.5 267.5L1309.4 263.7L1310.4 260L1311.4 256.3L1312.3 260.5L1313.3 264.6L1314.3 268.8L1315.3 271.8"/>
<path class="k10 n" d="M1315.3 271.8L1316.2 268.5L1317.2 270.5L1318.2 274L1319.2 276.8"/>
<path class="k9 n" d="M1274.6 273.4L1275.6 270.2M1289.2 273.1L1290.2 276.6M1312.5 281.1L1313.5 283.4L1314.5 285.1L1315.5 286.6L1316.4 287.7L1317.4 288.6L1318.4 289.4L1319.4 290.1L1320.3 290.7"/>
<path class="k12 n" d="M1275.6 270.2L1276.6 264.7L1277.5 259.3M1288.2 267.2L1289.2 273.1M1300.9 277.4L1301.8 274.2M1307.7 275.6L1308.7 277"/>
<path class="k14 n" d="M1277.5 259.3L1278.5 253.8M1286.3 255.5L1287.3 261.3L1288.2 267.2M1291.1 272.9L1292.1 269.2M1298.9 273.6L1299.9 277.5"/>
<path class="k18 n" d="M1278.5 253.8L1279.5 248.4L1280.4 242.9L1281.4 237.4L1282.4 232L1283.4 237.9L1284.3 243.7L1285.3 249.6L1286.3 255.5"/>
<path class="k11 n" d="M1290.2 276.6L1291.1 272.9M1299.9 277.5L1300.9 277.4"/>
<path class="k17 n" d="M1292.1 269.2L1293.1 265.5L1294.1 261.8L1295 258.1L1296 262L1297 265.9L1298 269.7L1298.9 273.6"/>
<path class="k15 n" d="M1301.8 274.2L1302.8 271L1303.8 267.7L1304.8 264.5L1305.7 268.2L1306.7 271.9L1307.7 275.6"/>
<path class="k10 n" d="M1308.7 277L1309.6 273.7L1310.6 274.7L1311.6 278.3L1312.5 281.1"/>
<path class="k9 n" d="M1269.9 278.7L1270.9 277.2L1271.9 271.6M1305.9 285.4L1306.9 287.7L1307.9 289.5L1308.9 291L1309.8 292.1L1310.8 293.1L1311.8 293.9L1312.7 294.6L1313.7 295.2"/>
<path class="k12 n" d="M1271.9 271.6L1272.9 266M1282.6 268L1283.6 274L1284.5 280.1M1294.3 283.6L1295.2 280.8M1301.1 282.4L1302 282.2"/>
<path class="k14 n" d="M1272.9 266L1273.8 260.4M1281.6 262L1282.6 268M1285.5 279.2L1286.5 275.9M1293.3 280.1L1294.3 283.6M1295.2 280.8L1296.2 278.1L1297.2 275.3L1298.2 272.6L1299.1 275.8L1300.1 279.1L1301.1 282.4"/>
<path class="k17 n" d="M1273.8 260.4L1274.8 254.8L1275.8 249.1L1276.8 243.5L1277.7 237.9L1278.7 243.9L1279.7 249.9L1280.6 256L1281.6 262M1286.5 275.9L1287.5 272.5L1288.4 269.2L1289.4 265.8L1290.4 269.4L1291.3 273L1292.3 276.6L1293.3 280.1"/>
<path class="k11 n" d="M1284.5 280.1L1285.5 279.2"/>
<path class="k10 n" d="M1302 282.2L1303 278.9L1304 278.8L1305 282.5L1305.9 285.4"/>
<path class="k9 n" d="M1266.3 284.4L1267.2 278.6M1299.3 289.7L1300.3 292.1L1301.3 293.9L1302.2 295.4L1303.2 296.6L1304.2 297.6L1305.2 298.4L1306.1 299.1L1307.1 299.7"/>
<path class="k12 n" d="M1267.2 278.6L1268.2 272.8M1277.9 274.8L1278.9 281M1287.7 286.5L1288.6 287.2M1294.5 288.9L1295.4 287.3"/>
<path class="k14 n" d="M1268.2 272.8L1269.2 267M1277 268.6L1277.9 274.8M1279.9 285.4L1280.8 282.4M1286.7 283.2L1287.7 286.5M1288.6 287.2L1289.6 285L1290.6 282.8L1291.5 280.5L1292.5 283.3L1293.5 286.1L1294.5 288.9"/>
<path class="k17 n" d="M1269.2 267L1270.1 261.2L1271.1 255.4L1272.1 249.6L1273.1 243.8L1274 250L1275 256.2L1276 262.4L1277 268.6"/>
<path class="k11 n" d="M1278.9 281L1279.9 285.4"/>
<path class="k16 n" d="M1280.8 282.4L1281.8 279.3L1282.8 276.3L1283.8 273.2L1284.7 276.5L1285.7 279.9L1286.7 283.2"/>
<path class="k10 n" d="M1295.4 287.3L1296.4 284.2L1297.4 283L1298.4 286.7L1299.3 289.7"/>
<path class="k9 n" d="M1260.6 289.3L1261.6 285.3M1292.7 294L1293.7 296.4L1294.7 298.3L1295.6 299.9L1296.6 301.1L1297.6 302.1L1298.6 302.9L1299.5 303.6L1300.5 304.2"/>
<path class="k12 n" d="M1261.6 285.3L1262.6 279.3M1272.3 281.2L1273.3 287.6M1287.9 295.2L1288.8 292.5"/>
<path class="k14 n" d="M1262.6 279.3L1263.5 273.3M1271.3 274.8L1272.3 281.2M1282 292.6L1283 291.7L1284 290L1284.9 288.3L1285.9 290.6L1286.9 292.9L1287.9 295.2"/>
<path class="k17 n" d="M1263.5 273.3L1264.5 267.3L1265.5 261.3L1266.5 255.3L1267.4 249.3L1268.4 255.7L1269.4 262.1L1270.3 268.5L1271.3 274.8"/>
<path class="k11 n" d="M1273.3 287.6L1274.2 291.4"/>
<path class="k13 n" d="M1274.2 291.4L1275.2 288.6M1281 289.5L1282 292.6"/>
<path class="k16 n" d="M1275.2 288.6L1276.2 285.8L1277.2 283.1L1278.1 280.3L1279.1 283.4L1280.1 286.5L1281 289.5"/>
<path class="k10 n" d="M1288.8 292.5L1289.8 289.4L1290.8 287.2L1291.7 291L1292.7 294"/>
<path class="k9 n" d="M1256 294.6L1256.9 292.5M1286.1 298.3L1287.1 300.8L1288.1 302.7L1289 304.3L1290 305.5L1291 306.5L1291.9 307.4L1292.9 308.1L1293.9 308.7"/>
<path class="k11 n" d="M1256.9 292.5L1257.9 286.3M1267.6 288.1L1268.6 294.7"/>
<path class="k14 n" d="M1257.9 286.3L1258.9 280.1M1266.7 281.6L1267.6 288.1M1276.4 298.6L1277.4 298.5L1278.3 297.3L1279.3 296.1L1280.3 297.9L1281.2 299.8L1282.2 297.6"/>
<path class="k17 n" d="M1258.9 280.1L1259.8 273.9L1260.8 267.7L1261.8 261.5L1262.8 255.3L1263.7 261.8L1264.7 268.4L1265.7 275L1266.7 281.6"/>
<path class="k13 n" d="M1268.6 294.7L1269.6 294.7M1275.4 295.7L1276.4 298.6"/>
<path class="k16 n" d="M1269.6 294.7L1270.5 292.1L1271.5 289.6L1272.5 287L1273.5 289.9L1274.4 292.8L1275.4 295.7"/>
<path class="k10 n" d="M1282.2 297.6L1283.2 294.5L1284.2 291.5L1285.1 295.2L1286.1 298.3"/>
<path class="k9 n" d="M1252.3 299.8L1253.2 293.4M1280.5 305.1L1281.4 307.1L1282.4 308.7L1283.4 310L1284.4 311L1285.3 311.9L1286.3 312.6L1287.3 313.2"/>
<path class="k11 n" d="M1253.2 293.4L1254.2 286.9"/>
<path class="k14 n" d="M1254.2 286.9L1255.2 280.5M1262 288.4L1263 295.2M1269.8 304L1270.7 303.9L1271.7 303L1272.7 302L1273.7 303.6L1274.6 305.2L1275.6 302.8"/>
<path class="k17 n" d="M1255.2 280.5L1256.2 274L1257.1 267.6L1258.1 261.2L1259.1 268L1260 274.8L1261 281.6L1262 288.4"/>
<path class="k16 n" d="M1263 295.2L1263.9 297.8L1264.9 295.4L1265.9 293.1L1266.9 295.8L1267.8 298.5L1268.8 301.3"/>
<path class="k13 n" d="M1268.8 301.3L1269.8 304"/>
<path class="k10 n" d="M1275.6 302.8L1276.6 299.7L1277.6 296.7L1278.5 299.4L1279.5 302.6L1280.5 305.1"/>
<path class="k9 n" d="M1247.6 305.5L1248.6 300.6M1273.9 309.5L1274.8 311.5L1275.8 313.1L1276.8 314.4L1277.7 315.5L1278.7 316.3L1279.7 317.1L1280.7 317.7"/>
<path class="k11 n" d="M1248.6 300.6L1249.5 293.9"/>
<path class="k14 n" d="M1249.5 293.9L1250.5 287.2M1256.4 288.2L1257.3 295.2M1263.2 305.7L1264.1 307L1265.1 305.2L1266.1 303.4L1267.1 305.8L1268 308.1L1269 307.9"/>
<path class="k17 n" d="M1250.5 287.2L1251.5 280.5L1252.5 273.8L1253.4 267.1L1254.4 274.1L1255.4 281.2L1256.4 288.2"/>
<path class="k16 n" d="M1257.3 295.2L1258.3 301.9L1259.3 298.9L1260.2 295.9L1261.2 299.2L1262.2 302.5L1263.2 305.7"/>
<path class="k10 n" d="M1269 307.9L1270 304.9L1270.9 301.9L1271.9 303.6L1272.9 306.9L1273.9 309.5"/>
<path class="k9 n" d="M1242.9 310.8L1243.9 307.9M1267.2 313.8L1268.2 315.9L1269.2 317.5L1270.2 318.9L1271.1 319.9L1272.1 320.8L1273.1 321.6L1274.1 322.2"/>
<path class="k11 n" d="M1243.9 307.9L1244.9 301"/>
<path class="k14 n" d="M1244.9 301L1245.9 294M1251.7 294.9L1252.7 302.3M1257.5 310L1258.5 307.5L1259.5 304.8L1260.4 308L1261.4 311.2L1262.4 313"/>
<path class="k16 n" d="M1245.9 294L1246.8 287L1247.8 280L1248.8 273L1249.7 280.3L1250.7 287.6L1251.7 294.9"/>
<path class="k15 n" d="M1252.7 302.3L1253.6 301.8L1254.6 297.9L1255.6 302L1256.6 306L1257.5 310"/>
<path class="k10 n" d="M1262.4 313L1263.4 310L1264.3 307.1L1265.3 307.8L1266.3 311.1L1267.2 313.8"/>
<path class="k9 n" d="M1238.3 316.1L1239.2 314.8M1260.6 318.1L1261.6 320.3L1262.6 322L1263.6 323.3L1264.5 324.4L1265.5 325.3L1266.5 326.1L1267.4 326.7"/>
<path class="k11 n" d="M1239.2 314.8L1240.2 307.6"/>
<path class="k13 n" d="M1240.2 307.6L1241.2 300.4"/>
<path class="k16 n" d="M1241.2 300.4L1242.2 293.3L1243.1 286.1L1244.1 278.9L1245.1 286.4L1246 293.9L1247 301.4"/>
<path class="k15 n" d="M1247 301.4L1248 304.7L1249 299.9L1249.9 304.8L1250.9 309.6L1251.9 309.8"/>
<path class="k14 n" d="M1251.9 309.8L1252.9 306.2L1253.8 310.3L1254.8 314.3L1255.8 318.1"/>
<path class="k10 n" d="M1255.8 318.1L1256.7 315.2L1257.7 312.3L1258.7 312L1259.7 315.4L1260.6 318.1"/>
<path class="k11 n" d="M1233.6 321.3L1234.6 314"/>
<path class="k13 n" d="M1234.6 314L1235.5 306.6M1245.3 312.2L1246.2 307.6L1247.2 312.6L1248.2 317.6"/>
<path class="k16 n" d="M1235.5 306.6L1236.5 299.2L1237.5 291.8L1238.5 284.4L1239.4 292.1L1240.4 299.8L1241.4 307.4"/>
<path class="k15 n" d="M1241.4 307.4L1242.4 301.6L1243.3 307.2L1244.3 312.9L1245.3 312.2"/>
<path class="k12 n" d="M1248.2 317.6L1249.2 322.6"/>
<path class="k10 n" d="M1249.2 322.6L1250.1 320.9L1251.1 318.2L1252.1 317.1L1253.1 320.4L1254 323"/>
<path class="k9 n" d="M1254 323L1255 325L1256 326.7L1256.9 328L1257.9 329L1258.9 329.9L1259.9 330.7L1260.8 331.3"/>
<path class="k9 n" d="M1228.9 326.7L1229.9 320.8M1243.5 327.6L1244.5 325.8M1246.4 327L1247.4 329L1248.4 330.7L1249.4 332L1250.3 333.1L1251.3 334L1252.3 334.8L1253.3 335.4"/>
<path class="k13 n" d="M1229.9 320.8L1230.9 313.2M1238.7 314.7L1239.6 309.1L1240.6 315L1241.6 321"/>
<path class="k16 n" d="M1230.9 313.2L1231.9 305.6L1232.8 298L1233.8 290.3L1234.8 298.2L1235.7 306.1L1236.7 303.6"/>
<path class="k15 n" d="M1236.7 303.6L1237.7 310.2L1238.7 314.7"/>
<path class="k12 n" d="M1241.6 321L1242.6 327"/>
<path class="k10 n" d="M1242.6 327L1243.5 327.6M1244.5 325.8L1245.5 324.4L1246.4 327"/>
<path class="k9 n" d="M1224.3 332L1225.2 327.7M1236.9 332.1L1237.9 333.7L1238.9 332.9L1239.8 334.3L1240.8 335.7L1241.8 336.8L1242.8 337.7L1243.7 338.5L1244.7 339.1L1245.7 339.7"/>
<path class="k11 n" d="M1225.2 327.7L1226.2 319.8"/>
<path class="k16 n" d="M1226.2 319.8L1227.2 312L1228.2 304.1L1229.1 296.3L1230.1 304.4L1231.1 305.6"/>
<path class="k14 n" d="M1231.1 305.6L1232.1 313.2L1233 317.7"/>
<path class="k13 n" d="M1233 317.7L1234 310.9L1235 317.9L1235.9 325"/>
<path class="k12 n" d="M1235.9 325L1236.9 332.1"/>
<path class="k9 n" d="M1219.6 337.3L1220.6 334.6M1230.3 337.2L1231.3 340.8L1232.3 340.8L1233.2 341.4L1234.2 342.1L1235.2 342.7"/>
<path class="k11 n" d="M1220.6 334.6L1221.6 326.5M1229.3 328.9L1230.3 337.2"/>
<path class="k16 n" d="M1221.6 326.5L1222.5 318.4L1223.5 310.3L1224.5 302.2L1225.4 307.6"/>
<path class="k14 n" d="M1225.4 307.6L1226.4 316.3L1227.4 312.3"/>
<path class="k13 n" d="M1227.4 312.3L1228.4 320.6L1229.3 328.9"/>
<path class="k9 n" d="M1214.9 342.5L1215.9 341.7M1223.7 342.6L1224.7 346.3"/>
<path class="k11 n" d="M1215.9 341.7L1216.9 333.3M1222.7 333L1223.7 342.6"/>
<path class="k13 n" d="M1216.9 333.3L1217.9 324.9M1220.8 313.7L1221.8 323.3L1222.7 333"/>
<path class="k16 n" d="M1217.9 324.9L1218.8 316.5L1219.8 308.1L1220.8 313.7"/>
<path class="k9 f" d="M1707.1 257.2L1708.1 257.2L1715.7 252.9L1714.7 253z"/>
<path class="k9 f" d="M1708.1 257.2L1709.1 256L1716.7 251L1715.7 252.9z"/>
<path class="k10 f" d="M1709.1 256L1710.1 254.9L1717.6 249.1L1716.7 251z"/>
<path class="k10 f" d="M1710.1 254.9L1711 253.7L1718.6 247.3L1717.6 249.1z"/>
<path class="k10 f" d="M1711 253.7L1712 252.6L1719.6 245.4L1718.6 247.3z"/>
<path class="k11 f" d="M1712 252.6L1713 251.4L1720.6 243.5L1719.6 245.4z"/>
<path class="k11 f" d="M1713 251.4L1713.9 250.3L1721.5 241.7L1720.6 243.5z"/>
<path class="k12 f" d="M1713.9 250.3L1714.9 249.1L1722.5 239.8L1721.5 241.7z"/>
<path class="k12 f" d="M1714.9 249.1L1715.9 248L1723.5 237.9L1722.5 239.8z"/>
<path class="k13 f" d="M1715.9 248L1716.9 246.8L1724.4 236L1723.5 237.9z"/>
<path class="k13 f" d="M1716.9 246.8L1717.8 245.7L1725.4 234.2L1724.4 236z"/>
<path class="k13 f" d="M1717.8 245.7L1718.8 244.5L1726.4 232.3L1725.4 234.2z"/>
<path class="k14 f" d="M1718.8 244.5L1719.8 243.4L1727.4 230.4L1726.4 232.3z"/>
<path class="k14 f" d="M1719.8 243.4L1720.8 242.2L1728.3 228.6L1727.4 230.4z"/>
<path class="k15 f" d="M1720.8 242.2L1721.7 241.1L1729.3 226.7L1728.3 228.6z"/>
<path class="k15 f" d="M1721.7 241.1L1722.7 239.9L1730.3 224.8L1729.3 226.7z"/>
<path class="k16 f" d="M1722.7 239.9L1723.7 238.8L1731.3 223L1730.3 224.8z"/>
<path class="k16 f" d="M1723.7 238.8L1724.6 237.6L1732.2 221.1L1731.3 223z"/>
<path class="k16 f" d="M1724.6 237.6L1725.6 236.5L1733.2 219.2L1732.2 221.1z"/>
<path class="k17 f" d="M1725.6 236.5L1726.6 235.3L1734.2 217.4L1733.2 219.2z"/>
<path class="k17 f" d="M1726.6 235.3L1727.6 234.2L1735.1 215.5L1734.2 217.4z"/>
<path class="k18 f" d="M1727.6 234.2L1728.5 233L1736.1 213.6L1735.1 215.5z"/>
<path class="k18 f" d="M1728.5 233L1729.5 231.9L1737.1 211.7L1736.1 213.6z"/>
<path class="k19 f" d="M1729.5 231.9L1730.5 230.7L1738.1 209.9L1737.1 211.7z"/>
<path class="k19 f" d="M1730.5 230.7L1731.5 229.6L1739 208L1738.1 209.9z"/>
<path class="k20 f" d="M1731.5 229.6L1732.4 228.4L1740 206.1L1739 208z"/>
<path class="k20 f" d="M1732.4 228.4L1733.4 227.3L1741 204.3L1740 206.1z"/>
<path class="k20 f" d="M1733.4 227.3L1734.4 226.1L1742 202.4L1741 204.3z"/>
<path class="k21 f" d="M1734.4 226.1L1735.3 225L1742.9 200.5L1742 202.4z"/>
<path class="k21 f" d="M1735.3 225L1736.3 223.8L1743.9 198.7L1742.9 200.5z"/>
<path class="k9 f" d="M1699.6 261.3L1700.5 261.5L1708.1 257.2L1707.1 257.2z"/>
<path class="k9 f" d="M1700.5 261.5L1701.5 260.8L1709.1 256L1708.1 257.2z"/>
<path class="k9 f" d="M1701.5 260.8L1702.5 260.1L1710.1 254.9L1709.1 256z"/>
<path class="k10 f" d="M1702.5 260.1L1703.4 259.5L1711 253.7L1710.1 254.9z"/>
<path class="k10 f" d="M1703.4 259.5L1704.4 258.8L1712 252.6L1711 253.7z"/>
<path class="k10 f" d="M1704.4 258.8L1705.4 258.1L1713 251.4L1712 252.6z"/>
<path class="k10 f" d="M1705.4 258.1L1706.4 257.5L1713.9 250.3L1713 251.4z"/>
<path class="k11 f" d="M1706.4 257.5L1707.3 256.8L1714.9 249.1L1713.9 250.3z"/>
<path class="k11 f" d="M1707.3 256.8L1708.3 256.2L1715.9 248L1714.9 249.1z"/>
<path class="k11 f" d="M1708.3 256.2L1709.3 255.5L1716.9 246.8L1715.9 248z"/>
<path class="k12 f" d="M1709.3 255.5L1710.3 254.8L1717.8 245.7L1716.9 246.8z"/>
<path class="k12 f" d="M1710.3 254.8L1711.2 254.2L1718.8 244.5L1717.8 245.7z"/>
<path class="k12 f" d="M1711.2 254.2L1712.2 253.5L1719.8 243.4L1718.8 244.5z"/>
<path class="k12 f" d="M1712.2 253.5L1713.2 252.8L1720.8 242.2L1719.8 243.4z"/>
<path class="k13 f" d="M1713.2 252.8L1714.1 252.2L1721.7 241.1L1720.8 242.2z"/>
<path class="k13 f" d="M1714.1 252.2L1715.1 251.5L1722.7 239.9L1721.7 241.1z"/>
<path class="k13 f" d="M1715.1 251.5L1716.1 250.9L1723.7 238.8L1722.7 239.9z"/>
<path class="k14 f" d="M1716.1 250.9L1717.1 250.2L1724.6 237.6L1723.7 238.8z"/>
<path class="k14 f" d="M1717.1 250.2L1718 249.5L1725.6 236.5L1724.6 237.6z"/>
<path class="k14 f" d="M1718 249.5L1719 248.9L1726.6 235.3L1725.6 236.5z"/>
<path class="k15 f" d="M1719 248.9L1720 248.2L1727.6 234.2L1726.6 235.3z"/>
<path class="k15 f" d="M1720 248.2L1721 247.5L1728.5 233L1727.6 234.2z"/>
<path class="k15 f" d="M1721 247.5L1721.9 246.9L1729.5 231.9L1728.5 233z"/>
<path class="k15 f" d="M1721.9 246.9L1722.9 246.2L1730.5 230.7L1729.5 231.9z"/>
<path class="k16 f" d="M1722.9 246.2L1723.9 245.6L1731.5 229.6L1730.5 230.7z"/>
<path class="k16 f" d="M1723.9 245.6L1724.8 244.9L1732.4 228.4L1731.5 229.6z"/>
<path class="k16 f" d="M1724.8 244.9L1725.8 244.2L1733.4 227.3L1732.4 228.4z"/>
<path class="k17 f" d="M1725.8 244.2L1726.8 243.6L1734.4 226.1L1733.4 227.3z"/>
<path class="k17 f" d="M1726.8 243.6L1727.8 242.9L1735.3 225L1734.4 226.1z"/>
<path class="k17 f" d="M1727.8 242.9L1728.7 242.2L1736.3 223.8L1735.3 225z"/>
<path class="k9 f" d="M1692 265.5L1692.9 265.7L1700.5 261.5L1699.6 261.3z"/>
<path class="k9 f" d="M1692.9 265.7L1693.9 265.4L1701.5 260.8L1700.5 261.5z"/>
<path class="k9 f" d="M1693.9 265.4L1694.9 265L1702.5 260.1L1701.5 260.8z"/>
<path class="k9 f" d="M1694.9 265L1695.9 264.7L1703.4 259.5L1702.5 260.1z"/>
<path class="k9 f" d="M1695.9 264.7L1696.8 264.4L1704.4 258.8L1703.4 259.5z"/>
<path class="k10 f" d="M1696.8 264.4L1697.8 264L1705.4 258.1L1704.4 258.8z"/>
<path class="k10 f" d="M1697.8 264L1698.8 263.7L1706.4 257.5L1705.4 258.1z"/>
<path class="k10 f" d="M1698.8 263.7L1699.8 263.4L1707.3 256.8L1706.4 257.5z"/>
<path class="k10 f" d="M1699.8 263.4L1700.7 263.1L1708.3 256.2L1707.3 256.8z"/>
<path class="k10 f" d="M1700.7 263.1L1701.7 262.7L1709.3 255.5L1708.3 256.2z"/>
<path class="k11 f" d="M1701.7 262.7L1702.7 262.4L1710.3 254.8L1709.3 255.5z"/>
<path class="k11 f" d="M1702.7 262.4L1703.6 262.1L1711.2 254.2L1710.3 254.8z"/>
<path class="k11 f" d="M1703.6 262.1L1704.6 261.7L1712.2 253.5L1711.2 254.2z"/>
<path class="k11 f" d="M1704.6 261.7L1705.6 261.4L1713.2 252.8L1712.2 253.5z"/>
<path class="k11 f" d="M1705.6 261.4L1706.6 261.1L1714.1 252.2L1713.2 252.8z"/>
<path class="k12 f" d="M1706.6 261.1L1707.5 260.7L1715.1 251.5L1714.1 252.2z"/>
<path class="k12 f" d="M1707.5 260.7L1708.5 260.4L1716.1 250.9L1715.1 251.5z"/>
<path class="k12 f" d="M1708.5 260.4L1709.5 260.1L1717.1 250.2L1716.1 250.9z"/>
<path class="k12 f" d="M1709.5 260.1L1710.5 259.8L1718 249.5L1717.1 250.2z"/>
<path class="k12 f" d="M1710.5 259.8L1711.4 259.4L1719 248.9L1718 249.5z"/>
<path class="k13 f" d="M1711.4 259.4L1712.4 259.1L1720 248.2L1719 248.9z"/>
<path class="k13 f" d="M1712.4 259.1L1713.4 258.8L1721 247.5L1720 248.2z"/>
<path class="k13 f" d="M1713.4 258.8L1714.3 258.4L1721.9 246.9L1721 247.5z"/>
<path class="k13 f" d="M1714.3 258.4L1715.3 258.1L1722.9 246.2L1721.9 246.9z"/>
<path class="k13 f" d="M1715.3 258.1L1716.3 257.8L1723.9 245.6L1722.9 246.2z"/>
<path class="k14 f" d="M1716.3 257.8L1717.3 257.4L1724.8 244.9L1723.9 245.6z"/>
<path class="k14 f" d="M1717.3 257.4L1718.2 257.1L1725.8 244.2L1724.8 244.9z"/>
<path class="k14 f" d="M1718.2 257.1L1719.2 256.8L1726.8 243.6L1725.8 244.2z"/>
<path class="k14 f" d="M1719.2 256.8L1720.2 256.5L1727.8 242.9L1726.8 243.6z"/>
<path class="k14 f" d="M1720.2 256.5L1721.2 256.1L1728.7 242.2L1727.8 242.9z"/>
<path class="k9 f" d="M1685.4 269.9L1686.3 269.8L1693.9 265.4L1692.9 265.7z"/>
<path class="k9 f" d="M1686.3 269.8L1687.3 269.7L1694.9 265L1693.9 265.4z"/>
<path class="k9 f" d="M1687.3 269.7L1688.3 269.6L1695.9 264.7L1694.9 265z"/>
<path class="k9 f" d="M1688.3 269.6L1689.3 269.5L1696.8 264.4L1695.9 264.7z"/>
<path class="k9 f" d="M1689.3 269.5L1690.2 269.4L1697.8 264L1696.8 264.4z"/>
<path class="k9 f" d="M1690.2 269.4L1691.2 269.3L1698.8 263.7L1697.8 264z"/>
<path class="k10 f" d="M1691.2 269.3L1692.2 269.2L1699.8 263.4L1698.8 263.7z"/>
<path class="k10 f" d="M1692.2 269.2L1693.1 269.1L1700.7 263.1L1699.8 263.4z"/>
<path class="k10 f" d="M1693.1 269.1L1694.1 269L1701.7 262.7L1700.7 263.1z"/>
<path class="k10 f" d="M1694.1 269L1695.1 268.9L1702.7 262.4L1701.7 262.7z"/>
<path class="k10 f" d="M1695.1 268.9L1696.1 268.8L1703.6 262.1L1702.7 262.4z"/>
<path class="k10 f" d="M1696.1 268.8L1697 268.7L1704.6 261.7L1703.6 262.1z"/>
<path class="k10 f" d="M1697 268.7L1698 268.6L1705.6 261.4L1704.6 261.7z"/>
<path class="k11 f" d="M1698 268.6L1699 268.4L1706.6 261.1L1705.6 261.4z"/>
<path class="k11 f" d="M1699 268.4L1700 268.3L1707.5 260.7L1706.6 261.1z"/>
<path class="k11 f" d="M1700 268.3L1700.9 268.2L1708.5 260.4L1707.5 260.7z"/>
<path class="k11 f" d="M1700.9 268.2L1701.9 268.1L1709.5 260.1L1708.5 260.4z"/>
<path class="k11 f" d="M1701.9 268.1L1702.9 268L1710.5 259.8L1709.5 260.1z"/>
<path class="k11 f" d="M1702.9 268L1703.8 267.9L1711.4 259.4L1710.5 259.8z"/>
<path class="k11 f" d="M1703.8 267.9L1704.8 267.8L1712.4 259.1L1711.4 259.4z"/>
<path class="k12 f" d="M1704.8 267.8L1705.8 267.7L1713.4 258.8L1712.4 259.1z"/>
<path class="k12 f" d="M1705.8 267.7L1706.8 267.6L1714.3 258.4L1713.4 258.8z"/>
<path class="k12 f" d="M1706.8 267.6L1707.7 267.5L1715.3 258.1L1714.3 258.4z"/>
<path class="k12 f" d="M1707.7 267.5L1708.7 267.4L1716.3 257.8L1715.3 258.1z"/>
<path class="k12 f" d="M1708.7 267.4L1709.7 267.3L1717.3 257.4L1716.3 257.8z"/>
<path class="k12 f" d="M1709.7 267.3L1710.7 267.2L1718.2 257.1L1717.3 257.4z"/>
<path class="k12 f" d="M1710.7 267.2L1711.6 267.1L1719.2 256.8L1718.2 257.1z"/>
<path class="k12 f" d="M1711.6 267.1L1712.6 267L1720.2 256.5L1719.2 256.8z"/>
<path class="k13 f" d="M1712.6 267L1713.6 266.9L1721.2 256.1L1720.2 256.5z"/>
<path class="k9 f" d="M1677.8 274.1L1678.8 274.1L1686.3 269.8L1685.4 269.9z"/>
<path class="k9 f" d="M1678.8 274.1L1679.7 274.2L1687.3 269.7L1686.3 269.8z"/>
<path class="k9 f" d="M1679.7 274.2L1680.7 274.2L1688.3 269.6L1687.3 269.7z"/>
<path class="k9 f" d="M1680.7 274.2L1681.7 274.3L1689.3 269.5L1688.3 269.6z"/>
<path class="k9 f" d="M1681.7 274.3L1682.6 274.3L1690.2 269.4L1689.3 269.5z"/>
<path class="k9 f" d="M1682.6 274.3L1683.6 274.4L1691.2 269.3L1690.2 269.4z"/>
<path class="k9 f" d="M1683.6 274.4L1684.6 274.4L1692.2 269.2L1691.2 269.3z"/>
<path class="k9 f" d="M1684.6 274.4L1685.6 274.5L1693.1 269.1L1692.2 269.2z"/>
<path class="k9 f" d="M1685.6 274.5L1686.5 274.5L1694.1 269L1693.1 269.1z"/>
<path class="k10 f" d="M1686.5 274.5L1687.5 274.6L1695.1 268.9L1694.1 269z"/>
<path class="k10 f" d="M1687.5 274.6L1688.5 274.6L1696.1 268.8L1695.1 268.9z"/>
<path class="k10 f" d="M1688.5 274.6L1689.5 274.7L1697 268.7L1696.1 268.8z"/>
<path class="k10 f" d="M1689.5 274.7L1690.4 274.7L1698 268.6L1697 268.7z"/>
<path class="k10 f" d="M1690.4 274.7L1691.4 274.8L1699 268.4L1698 268.6z"/>
<path class="k10 f" d="M1691.4 274.8L1692.4 274.8L1700 268.3L1699 268.4z"/>
<path class="k10 f" d="M1692.4 274.8L1693.3 274.9L1700.9 268.2L1700 268.3z"/>
<path class="k10 f" d="M1693.3 274.9L1694.3 274.9L1701.9 268.1L1700.9 268.2z"/>
<path class="k10 f" d="M1694.3 274.9L1695.3 275L1702.9 268L1701.9 268.1z"/>
<path class="k10 f" d="M1695.3 275L1696.3 275L1703.8 267.9L1702.9 268z"/>
<path class="k10 f" d="M1696.3 275L1697.2 275.1L1704.8 267.8L1703.8 267.9z"/>
<path class="k11 f" d="M1697.2 275.1L1698.2 275.2L1705.8 267.7L1704.8 267.8z"/>
<path class="k11 f" d="M1698.2 275.2L1699.2 275.2L1706.8 267.6L1705.8 267.7z"/>
<path class="k11 f" d="M1699.2 275.2L1700.2 275.3L1707.7 267.5L1706.8 267.6z"/>
<path class="k11 f" d="M1700.2 275.3L1701.1 275.3L1708.7 267.4L1707.7 267.5z"/>
<path class="k11 f" d="M1701.1 275.3L1702.1 275.4L1709.7 267.3L1708.7 267.4z"/>
<path class="k11 f" d="M1702.1 275.4L1703.1 275.4L1710.7 267.2L1709.7 267.3z"/>
<path class="k11 f" d="M1703.1 275.4L1704 275.5L1711.6 267.1L1710.7 267.2z"/>
<path class="k11 f" d="M1704 275.5L1705 275.5L1712.6 267L1711.6 267.1z"/>
<path class="k11 f" d="M1705 275.5L1706 275.6L1713.6 266.9L1712.6 267z"/>
<path class="k9 f" d="M1671.2 278.4L1672.1 278.6L1679.7 274.2L1678.8 274.1z"/>
<path class="k9 f" d="M1672.1 278.6L1673.1 278.7L1680.7 274.2L1679.7 274.2z"/>
<path class="k9 f" d="M1673.1 278.7L1674.1 278.9L1681.7 274.3L1680.7 274.2z"/>
<path class="k9 f" d="M1674.1 278.9L1675.1 279L1682.6 274.3L1681.7 274.3z"/>
<path class="k9 f" d="M1675.1 279L1676 279.2L1683.6 274.4L1682.6 274.3z"/>
<path class="k9 f" d="M1676 279.2L1677 279.4L1684.6 274.4L1683.6 274.4z"/>
<path class="k9 f" d="M1677 279.4L1678 279.5L1685.6 274.5L1684.6 274.4z"/>
<path class="k9 f" d="M1678 279.5L1679 279.7L1686.5 274.5L1685.6 274.5z"/>
<path class="k9 f" d="M1679 279.7L1679.9 279.8L1687.5 274.6L1686.5 274.5z"/>
<path class="k9 f" d="M1679.9 279.8L1680.9 280L1688.5 274.6L1687.5 274.6z"/>
<path class="k9 f" d="M1680.9 280L1681.9 280.1L1689.5 274.7L1688.5 274.6z"/>
<path class="k9 f" d="M1681.9 280.1L1682.8 280.3L1690.4 274.7L1689.5 274.7z"/>
<path class="k10 f" d="M1682.8 280.3L1683.8 280.4L1691.4 274.8L1690.4 274.7z"/>
<path class="k10 f" d="M1683.8 280.4L1684.8 280.6L1692.4 274.8L1691.4 274.8z"/>
<path class="k10 f" d="M1684.8 280.6L1685.8 280.8L1693.3 274.9L1692.4 274.8z"/>
<path class="k10 f" d="M1685.8 280.8L1686.7 280.9L1694.3 274.9L1693.3 274.9z"/>
<path class="k10 f" d="M1686.7 280.9L1687.7 281.1L1695.3 275L1694.3 274.9z"/>
<path class="k10 f" d="M1687.7 281.1L1688.7 281.2L1696.3 275L1695.3 275z"/>
<path class="k10 f" d="M1688.7 281.2L1689.7 281.4L1697.2 275.1L1696.3 275z"/>
<path class="k10 f" d="M1689.7 281.4L1690.6 281.5L1698.2 275.2L1697.2 275.1z"/>
<path class="k10 f" d="M1690.6 281.5L1691.6 281.7L1699.2 275.2L1698.2 275.2z"/>
<path class="k10 f" d="M1691.6 281.7L1692.6 281.8L1700.2 275.3L1699.2 275.2z"/>
<path class="k10 f" d="M1692.6 281.8L1693.5 282L1701.1 275.3L1700.2 275.3z"/>
<path class="k10 f" d="M1693.5 282L1694.5 282.2L1702.1 275.4L1701.1 275.3z"/>
<path class="k10 f" d="M1694.5 282.2L1695.5 282.3L1703.1 275.4L1702.1 275.4z"/>
<path class="k10 f" d="M1695.5 282.3L1696.5 282.5L1704 275.5L1703.1 275.4z"/>
<path class="k10 f" d="M1696.5 282.5L1697.4 282.6L1705 275.5L1704 275.5z"/>
<path class="k10 f" d="M1697.4 282.6L1698.4 282.8L1706 275.6L1705 275.5z"/>
<path class="k9 f" d="M1665.5 283.1L1666.5 283.3L1674.1 278.9L1673.1 278.7z"/>
<path class="k9 f" d="M1666.5 283.3L1667.5 283.6L1675.1 279L1674.1 278.9z"/>
<path class="k9 f" d="M1667.5 283.6L1668.5 283.8L1676 279.2L1675.1 279z"/>
<path class="k9 f" d="M1668.5 283.8L1669.4 284L1677 279.4L1676 279.2z"/>
<path class="k9 f" d="M1669.4 284L1670.4 284.3L1678 279.5L1677 279.4z"/>
<path class="k9 f" d="M1670.4 284.3L1671.4 284.5L1679 279.7L1678 279.5z"/>
<path class="k9 f" d="M1671.4 284.5L1672.3 284.7L1679.9 279.8L1679 279.7z"/>
<path class="k9 f" d="M1672.3 284.7L1673.3 284.9L1680.9 280L1679.9 279.8z"/>
<path class="k9 f" d="M1673.3 284.9L1674.3 285.2L1681.9 280.1L1680.9 280z"/>
<path class="k9 f" d="M1674.3 285.2L1675.3 285.4L1682.8 280.3L1681.9 280.1z"/>
<path class="k9 f" d="M1675.3 285.4L1676.2 285.6L1683.8 280.4L1682.8 280.3z"/>
<path class="k9 f" d="M1676.2 285.6L1677.2 285.8L1684.8 280.6L1683.8 280.4z"/>
<path class="k9 f" d="M1677.2 285.8L1678.2 286.1L1685.8 280.8L1684.8 280.6z"/>
<path class="k9 f" d="M1678.2 286.1L1679.2 286.3L1686.7 280.9L1685.8 280.8z"/>
<path class="k9 f" d="M1679.2 286.3L1680.1 286.5L1687.7 281.1L1686.7 280.9z"/>
<path class="k9 f" d="M1680.1 286.5L1681.1 286.7L1688.7 281.2L1687.7 281.1z"/>
<path class="k9 f" d="M1681.1 286.7L1682.1 287L1689.7 281.4L1688.7 281.2z"/>
<path class="k10 f" d="M1682.1 287L1683 287.2L1690.6 281.5L1689.7 281.4z"/>
<path class="k10 f" d="M1683 287.2L1684 287.4L1691.6 281.7L1690.6 281.5z"/>
<path class="k10 f" d="M1684 287.4L1685 287.7L1692.6 281.8L1691.6 281.7z"/>
<path class="k10 f" d="M1685 287.7L1686 287.9L1693.5 282L1692.6 281.8z"/>
<path class="k10 f" d="M1686 287.9L1686.9 288.1L1694.5 282.2L1693.5 282z"/>
<path class="k10 f" d="M1686.9 288.1L1687.9 288.3L1695.5 282.3L1694.5 282.2z"/>
<path class="k10 f" d="M1687.9 288.3L1688.9 288.6L1696.5 282.5L1695.5 282.3z"/>
<path class="k10 f" d="M1688.9 288.6L1689.8 288.8L1697.4 282.6L1696.5 282.5z"/>
<path class="k10 f" d="M1689.8 288.8L1690.8 289L1698.4 282.8L1697.4 282.6z"/>
<path class="k9 f" d="M1659.9 288L1660.9 288.3L1668.5 283.8L1667.5 283.6z"/>
<path class="k9 f" d="M1660.9 288.3L1661.8 288.5L1669.4 284L1668.5 283.8z"/>
<path class="k9 f" d="M1661.8 288.5L1662.8 288.8L1670.4 284.3L1669.4 284z"/>
<path class="k9 f" d="M1662.8 288.8L1663.8 289.1L1671.4 284.5L1670.4 284.3z"/>
<path class="k9 f" d="M1663.8 289.1L1664.8 289.4L1672.3 284.7L1671.4 284.5z"/>
<path class="k9 f" d="M1664.8 289.4L1665.7 289.6L1673.3 284.9L1672.3 284.7z"/>
<path class="k9 f" d="M1665.7 289.6L1666.7 289.9L1674.3 285.2L1673.3 284.9z"/>
<path class="k9 f" d="M1666.7 289.9L1667.7 290.2L1675.3 285.4L1674.3 285.2z"/>
<path class="k9 f" d="M1667.7 290.2L1668.7 290.5L1676.2 285.6L1675.3 285.4z"/>
<path class="k9 f" d="M1668.7 290.5L1669.6 290.7L1677.2 285.8L1676.2 285.6z"/>
<path class="k9 f" d="M1669.6 290.7L1670.6 291L1678.2 286.1L1677.2 285.8z"/>
<path class="k9 f" d="M1670.6 291L1671.6 291.3L1679.2 286.3L1678.2 286.1z"/>
<path class="k9 f" d="M1671.6 291.3L1672.5 291.6L1680.1 286.5L1679.2 286.3z"/>
<path class="k9 f" d="M1672.5 291.6L1673.5 291.8L1681.1 286.7L1680.1 286.5z"/>
<path class="k9 f" d="M1673.5 291.8L1674.5 292.1L1682.1 287L1681.1 286.7z"/>
<path class="k9 f" d="M1674.5 292.1L1675.5 292.4L1683 287.2L1682.1 287z"/>
<path class="k9 f" d="M1675.5 292.4L1676.4 292.7L1684 287.4L1683 287.2z"/>
<path class="k9 f" d="M1676.4 292.7L1677.4 292.9L1685 287.7L1684 287.4z"/>
<path class="k9 f" d="M1677.4 292.9L1678.4 293.2L1686 287.9L1685 287.7z"/>
<path class="k9 f" d="M1678.4 293.2L1679.3 293.5L1686.9 288.1L1686 287.9z"/>
<path class="k9 f" d="M1679.3 293.5L1680.3 293.8L1687.9 288.3L1686.9 288.1z"/>
<path class="k9 f" d="M1680.3 293.8L1681.3 294L1688.9 288.6L1687.9 288.3z"/>
<path class="k9 f" d="M1681.3 294L1682.3 294.3L1689.8 288.8L1688.9 288.6z"/>
<path class="k9 f" d="M1682.3 294.3L1683.2 294.6L1690.8 289L1689.8 288.8z"/>
<path class="k9 f" d="M1655.2 293.2L1656.2 293.5L1663.8 289.1L1662.8 288.8z"/>
<path class="k9 f" d="M1656.2 293.5L1657.2 293.8L1664.8 289.4L1663.8 289.1z"/>
<path class="k9 f" d="M1657.2 293.8L1658.1 294.2L1665.7 289.6L1664.8 289.4z"/>
<path class="k9 f" d="M1658.1 294.2L1659.1 294.5L1666.7 289.9L1665.7 289.6z"/>
<path class="k9 f" d="M1659.1 294.5L1660.1 294.8L1667.7 290.2L1666.7 289.9z"/>
<path class="k9 f" d="M1660.1 294.8L1661.1 295.1L1668.7 290.5L1667.7 290.2z"/>
<path class="k9 f" d="M1661.1 295.1L1662 295.4L1669.6 290.7L1668.7 290.5z"/>
<path class="k9 f" d="M1662 295.4L1663 295.7L1670.6 291L1669.6 290.7z"/>
<path class="k9 f" d="M1663 295.7L1664 296L1671.6 291.3L1670.6 291z"/>
<path class="k9 f" d="M1664 296L1665 296.3L1672.5 291.6L1671.6 291.3z"/>
<path class="k9 f" d="M1665 296.3L1665.9 296.6L1673.5 291.8L1672.5 291.6z"/>
<path class="k9 f" d="M1665.9 296.6L1666.9 296.9L1674.5 292.1L1673.5 291.8z"/>
<path class="k9 f" d="M1666.9 296.9L1667.9 297.2L1675.5 292.4L1674.5 292.1z"/>
<path class="k9 f" d="M1667.9 297.2L1668.8 297.5L1676.4 292.7L1675.5 292.4z"/>
<path class="k9 f" d="M1668.8 297.5L1669.8 297.9L1677.4 292.9L1676.4 292.7z"/>
<path class="k9 f" d="M1669.8 297.9L1670.8 298.2L1678.4 293.2L1677.4 292.9z"/>
<path class="k9 f" d="M1670.8 298.2L1671.8 298.5L1679.3 293.5L1678.4 293.2z"/>
<path class="k9 f" d="M1671.8 298.5L1672.7 298.8L1680.3 293.8L1679.3 293.5z"/>
<path class="k9 f" d="M1672.7 298.8L1673.7 299.1L1681.3 294L1680.3 293.8z"/>
<path class="k9 f" d="M1673.7 299.1L1674.7 299.4L1682.3 294.3L1681.3 294z"/>
<path class="k9 f" d="M1674.7 299.4L1675.7 299.7L1683.2 294.6L1682.3 294.3z"/>
<path class="k9 f" d="M1651.5 298.9L1652.5 299.2L1660.1 294.8L1659.1 294.5z"/>
<path class="k9 f" d="M1652.5 299.2L1653.5 299.6L1661.1 295.1L1660.1 294.8z"/>
<path class="k9 f" d="M1653.5 299.6L1654.5 299.9L1662 295.4L1661.1 295.1z"/>
<path class="k9 f" d="M1654.5 299.9L1655.4 300.2L1663 295.7L1662 295.4z"/>
<path class="k9 f" d="M1655.4 300.2L1656.4 300.5L1664 296L1663 295.7z"/>
<path class="k9 f" d="M1656.4 300.5L1657.4 300.9L1665 296.3L1664 296z"/>
<path class="k9 f" d="M1657.4 300.9L1658.3 301.2L1665.9 296.6L1665 296.3z"/>
<path class="k9 f" d="M1658.3 301.2L1659.3 301.5L1666.9 296.9L1665.9 296.6z"/>
<path class="k9 f" d="M1659.3 301.5L1660.3 301.9L1667.9 297.2L1666.9 296.9z"/>
<path class="k9 f" d="M1660.3 301.9L1661.3 302.2L1668.8 297.5L1667.9 297.2z"/>
<path class="k9 f" d="M1661.3 302.2L1662.2 302.5L1669.8 297.9L1668.8 297.5z"/>
<path class="k9 f" d="M1662.2 302.5L1663.2 302.9L1670.8 298.2L1669.8 297.9z"/>
<path class="k9 f" d="M1663.2 302.9L1664.2 303.2L1671.8 298.5L1670.8 298.2z"/>
<path class="k9 f" d="M1664.2 303.2L1665.2 303.5L1672.7 298.8L1671.8 298.5z"/>
<path class="k9 f" d="M1665.2 303.5L1666.1 303.9L1673.7 299.1L1672.7 298.8z"/>
<path class="k9 f" d="M1666.1 303.9L1667.1 304.2L1674.7 299.4L1673.7 299.1z"/>
<path class="k9 f" d="M1667.1 304.2L1668.1 304.5L1675.7 299.7L1674.7 299.4z"/>
<path class="k9 f" d="M1650.8 305.7L1651.7 306L1659.3 301.5L1658.3 301.2z"/>
<path class="k9 f" d="M1651.7 306L1652.7 306.4L1660.3 301.9L1659.3 301.5z"/>
<path class="k9 f" d="M1652.7 306.4L1653.7 306.7L1661.3 302.2L1660.3 301.9z"/>
<path class="k9 f" d="M1653.7 306.7L1654.7 307L1662.2 302.5L1661.3 302.2z"/>
<path class="k9 f" d="M1654.7 307L1655.6 307.4L1663.2 302.9L1662.2 302.5z"/>
<path class="k9 f" d="M1655.6 307.4L1656.6 307.7L1664.2 303.2L1663.2 302.9z"/>
<path class="k9 f" d="M1656.6 307.7L1657.6 308.1L1665.2 303.5L1664.2 303.2z"/>
<path class="k9 f" d="M1657.6 308.1L1658.5 308.4L1666.1 303.9L1665.2 303.5z"/>
<path class="k9 f" d="M1658.5 308.4L1659.5 308.8L1667.1 304.2L1666.1 303.9z"/>
<path class="k9 f" d="M1659.5 308.8L1660.5 309.1L1668.1 304.5L1667.1 304.2z"/>
</g>
<path class="zax" d="M1097.8 442.8L1097.8 193.8"/>
<path class="ax" d="M1097.8 442.8L1511.7 602.6M1511.7 602.6L1858.3 412.4M1097.8 442.8L1087.7 448.3M1511.7 602.6L1522.4 606.7M1201.3 482.8L1191.2 488.3M1598.3 555.1L1609.1 559.2M1304.8 522.7L1294.7 528.2M1685 507.5L1695.7 511.6M1408.2 562.6L1398.1 568.2M1771.7 460L1782.4 464.1M1511.7 602.6L1501.6 608.1M1858.3 412.4L1869 416.5M1097.8 442.8L1087.1 438.7M1097.8 393L1087.1 388.9M1097.8 343.2L1087.1 339.1M1097.8 293.4L1087.1 289.3M1097.8 243.6L1087.1 239.5M1097.8 193.8L1087.1 189.7"/>
<text class="tag" x="1018.5" y="43.6">(b)</text>
<text class="tk" text-anchor="end" x="1079.6" y="443.4">0</text>
<text class="tk" text-anchor="end" x="1079.6" y="393.6">0.02</text>
<text class="tk" text-anchor="end" x="1079.6" y="343.8">0.04</text>
<text class="tk" text-anchor="end" x="1079.6" y="294">0.06</text>
<text class="tk" text-anchor="end" x="1079.6" y="244.2">0.08</text>
<text class="tk" text-anchor="end" x="1079.6" y="194.4">0.1</text>
<text class="tk" text-anchor="middle" x="1073.9" y="475">0</text>
<text class="tk" text-anchor="middle" x="1177.4" y="515">1</text>
<text class="tk" text-anchor="middle" x="1280.8" y="554.9">2</text>
<text class="tk" text-anchor="middle" x="1384.3" y="594.9">3</text>
<text class="tk" text-anchor="middle" x="1487.8" y="634.8">4</text>
<text class="tk" x="1530.3" y="631.3">0</text>
<text class="tk" x="1616.9" y="583.8">500</text>
<text class="tk" x="1703.6" y="536.2">1000</text>
<text class="tk" x="1790.2" y="488.7">1500</text>
<text class="tk" x="1876.9" y="441.1">2000</text>
<text class="tk" x="1067.4" y="573.6"><tspan class="tm" dy="1.5">×</tspan><tspan dx="3" dy="-1.5">10</tspan><tspan class="sup" dy="-8">4</tspan></text>
<text class="lb" x="1161.4" y="655.6">space(x/10<tspan class="sup2" dy="-9.5">2</tspan><tspan dy="9.5">m)</tspan></text>
<text class="lb" x="1697" y="622.4">time(t/min)</text>
<text class="lb" text-anchor="middle" transform="translate(1012.9 288) rotate(-90)">density(veh/m)</text>
</svg>
</body></html>
